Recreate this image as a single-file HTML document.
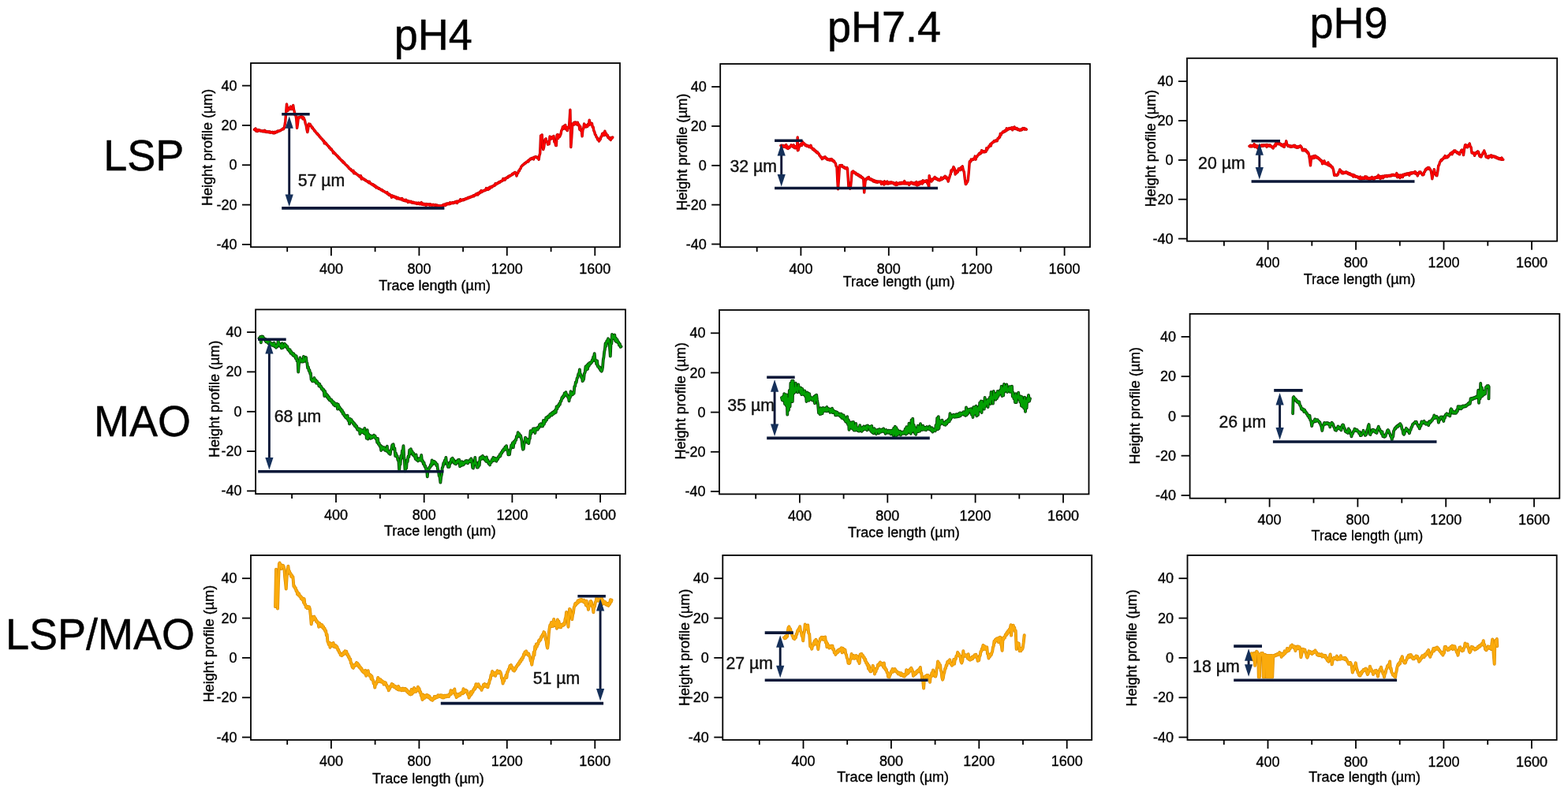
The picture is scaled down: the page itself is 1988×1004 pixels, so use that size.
<!DOCTYPE html>
<html><head><meta charset="utf-8"><title>Height profiles</title>
<style>html,body{margin:0;padding:0;background:#fff;width:1988px;height:1004px;overflow:hidden}svg{display:block}</style>
</head><body>
<svg width="1988" height="1004" viewBox="0 0 1988 1004">
<style>text{font-family:"Liberation Sans",Arial,Helvetica,sans-serif;fill:#000;stroke:#000;stroke-width:.35px}.s{font-size:18px}.c{text-anchor:middle}.e{text-anchor:end}.b{font-size:54px;stroke-width:.45px}.m{font-size:21.3px;fill:#111;stroke:#111;stroke-width:.4px}</style>
<rect width="100%" height="100%" fill="#fff"/>
<g>
<text transform="translate(549.2,63.2) scale(1,1.02)" class="b c">pH4</text>
<text transform="translate(1121,53.2) scale(1,1.02)" class="b c">pH7.4</text>
<text transform="translate(1710,47.5) scale(1,1.02)" class="b c">pH9</text>
<text transform="translate(182.3,215.5) scale(1,1.02)" class="b c">LSP</text>
<text transform="translate(180.6,552.8) scale(1,1.02)" class="b c">MAO</text>
<text transform="translate(126.9,823) scale(1,1.02)" class="b c">LSP/MAO</text>
</g>
<g>
<path d="M322.4,164.2 L323.2,164.7 L324.0,162.9 L324.9,166.2 L325.7,164.6 L326.5,166.5 L327.3,164.5 L328.1,165.6 L328.9,164.8 L329.8,166.0 L330.6,165.5 L331.4,166.3 L332.2,165.8 L333.0,166.8 L333.9,165.8 L334.7,166.8 L335.5,165.3 L336.3,167.2 L337.1,166.4 L338.0,167.4 L338.8,166.5 L339.6,167.5 L340.4,166.8 L341.3,168.0 L342.1,166.8 L342.9,168.1 L343.8,167.5 L344.6,168.1 L345.4,167.4 L346.2,168.7 L347.1,167.6 L347.9,168.8 L348.7,167.3 L349.5,168.1 L350.4,167.1 L351.2,167.5 L352.0,166.0 L352.8,166.7 L353.6,165.8 L354.5,166.0 L355.3,165.1 L356.1,165.3 L356.9,164.1 L357.7,164.3 L358.6,163.1 L359.4,163.7 L360.2,162.3 L361.0,158.9 L361.8,153.7 L362.6,143.6 L363.5,131.9 L364.3,136.8 L365.1,140.2 L365.9,139.4 L366.8,137.0 L367.6,136.8 L368.4,135.1 L369.2,138.6 L370.0,138.2 L370.9,137.1 L371.7,133.5 L372.5,139.1 L373.3,141.8 L374.1,145.9 L375.0,146.3 L375.8,151.5 L376.6,162.3 L377.5,156.4 L378.3,148.8 L379.1,149.5 L379.9,148.5 L380.8,148.8 L381.6,147.5 L382.4,148.0 L383.2,148.0 L384.0,150.7 L384.9,149.0 L385.7,150.9 L386.5,152.9 L387.3,156.9 L388.1,158.7 L389.0,164.1 L389.8,167.6 L390.6,163.6 L391.4,157.0 L392.2,158.6 L393.1,157.4 L393.9,159.6 L394.7,159.6 L395.5,162.0 L396.3,161.7 L397.1,163.7 L398.0,164.1 L398.8,166.0 L399.6,165.9 L400.4,168.0 L401.2,168.1 L402.0,169.9 L402.7,169.5 L403.5,171.3 L404.3,171.5 L405.1,173.4 L405.8,173.2 L406.6,175.0 L407.4,175.1 L408.2,176.9 L408.9,176.8 L409.7,178.6 L410.5,178.4 L411.3,181.8 L412.0,180.0 L412.8,182.1 L413.6,181.7 L414.4,183.5 L415.2,183.8 L416.1,185.5 L416.9,185.5 L417.7,187.5 L418.5,187.3 L419.3,189.3 L420.2,188.9 L421.0,190.9 L421.8,191.1 L422.6,194.1 L423.4,192.9 L424.3,194.6 L425.1,194.6 L425.9,196.4 L426.7,196.5 L427.5,198.0 L428.4,198.0 L429.2,200.0 L430.0,199.7 L430.8,201.7 L431.6,201.6 L432.5,203.3 L433.3,203.2 L434.1,205.1 L434.9,204.6 L435.7,206.6 L436.6,206.3 L437.4,208.0 L438.2,208.4 L439.0,209.7 L439.8,209.6 L440.7,211.3 L441.5,211.3 L442.3,213.3 L443.1,213.2 L443.9,214.7 L444.8,214.5 L445.6,216.3 L446.4,216.3 L447.2,217.7 L448.0,216.3 L448.8,219.8 L449.5,218.5 L450.3,219.8 L451.1,219.5 L451.9,220.9 L452.7,221.0 L453.5,222.1 L454.3,221.9 L455.0,223.4 L455.8,223.1 L456.6,224.4 L457.4,222.7 L458.2,227.0 L459.0,225.0 L459.8,226.4 L460.5,226.4 L461.3,227.6 L462.1,227.3 L462.9,228.6 L463.7,228.3 L464.5,229.5 L465.2,229.5 L466.0,230.5 L466.8,230.1 L467.6,231.6 L468.4,230.3 L469.1,232.3 L469.9,232.1 L470.7,233.5 L471.5,233.2 L472.3,234.4 L473.1,233.8 L473.8,235.4 L474.6,234.7 L475.4,236.5 L476.2,235.8 L477.0,238.0 L477.7,237.0 L478.5,238.1 L479.3,237.9 L480.1,239.3 L480.9,238.8 L481.8,240.0 L482.6,239.9 L483.4,241.0 L484.2,240.5 L485.0,242.0 L485.9,241.8 L486.7,242.8 L487.5,242.7 L488.3,243.9 L489.1,243.9 L490.0,244.8 L490.8,243.7 L491.6,245.9 L492.4,245.6 L493.2,247.1 L494.1,246.4 L494.9,247.9 L495.7,247.7 L496.5,250.2 L497.3,247.9 L498.1,249.4 L498.8,248.8 L499.6,249.8 L500.4,249.1 L501.2,250.4 L502.0,249.7 L502.8,251.7 L503.6,250.4 L504.3,251.7 L505.1,250.8 L505.9,252.1 L506.7,251.7 L507.5,252.7 L508.3,251.9 L509.1,252.9 L509.8,251.6 L510.6,253.8 L511.4,253.0 L512.2,254.3 L513.0,253.6 L513.8,254.8 L514.7,253.2 L515.5,255.0 L516.3,254.5 L517.1,256.4 L517.9,254.7 L518.8,256.0 L519.6,255.2 L520.4,256.3 L521.2,255.4 L522.0,256.9 L522.9,256.2 L523.7,257.3 L524.5,256.4 L525.3,257.4 L526.1,257.0 L527.0,257.8 L527.8,257.0 L528.6,258.5 L529.4,257.3 L530.2,258.4 L531.1,257.1 L531.9,258.7 L532.7,257.9 L533.5,258.8 L534.3,256.6 L535.2,259.2 L536.0,258.0 L536.8,259.4 L537.6,258.4 L538.4,259.6 L539.3,258.6 L540.1,260.2 L540.9,258.5 L541.7,259.8 L542.5,258.9 L543.4,259.6 L544.2,258.7 L545.0,260.1 L545.8,258.9 L546.7,260.1 L547.5,259.4 L548.3,260.1 L549.2,259.2 L550.0,260.0 L550.8,259.7 L551.6,260.5 L552.5,259.6 L553.3,260.7 L554.1,260.1 L554.9,261.0 L555.7,260.5 L556.6,261.6 L557.4,260.7 L558.2,261.9 L559.0,260.7 L559.8,261.0 L560.7,260.2 L561.5,260.5 L562.3,259.3 L563.1,260.1 L563.9,259.0 L564.8,260.5 L565.6,258.3 L566.4,259.2 L567.2,257.9 L568.0,258.7 L568.9,257.8 L569.7,258.7 L570.5,256.8 L571.3,258.3 L572.1,257.1 L573.0,257.6 L573.8,256.6 L574.6,257.7 L575.4,256.5 L576.3,256.9 L577.1,255.8 L577.9,256.7 L578.8,255.3 L579.6,257.5 L580.4,255.0 L581.2,255.6 L582.1,254.6 L582.9,255.1 L583.7,252.7 L584.5,254.6 L585.4,253.5 L586.2,253.8 L587.0,252.9 L587.8,253.6 L588.6,252.4 L589.5,252.9 L590.3,251.8 L591.1,252.3 L591.9,251.2 L592.7,251.8 L593.6,250.4 L594.4,251.0 L595.2,250.0 L596.0,250.4 L596.8,249.2 L597.7,249.8 L598.5,248.8 L599.3,249.1 L600.1,247.8 L600.9,248.7 L601.8,247.3 L602.6,247.6 L603.4,246.1 L604.2,246.7 L605.0,245.2 L605.9,247.0 L606.7,244.5 L607.5,245.3 L608.3,243.6 L609.1,244.2 L610.0,241.7 L610.8,243.5 L611.6,242.3 L612.4,242.5 L613.2,241.4 L614.1,241.7 L614.9,240.7 L615.7,241.2 L616.5,238.6 L617.3,240.2 L618.2,239.1 L619.0,240.4 L619.8,237.9 L620.6,239.3 L621.4,237.1 L622.3,237.9 L623.1,236.5 L623.9,237.2 L624.7,235.7 L625.6,235.9 L626.4,234.8 L627.2,235.2 L628.0,232.8 L628.9,234.0 L629.7,232.4 L630.5,232.9 L631.4,231.6 L632.2,231.9 L633.0,230.5 L633.8,231.2 L634.7,229.8 L635.5,230.0 L636.3,228.9 L637.1,229.2 L637.9,226.5 L638.8,228.0 L639.6,226.5 L640.4,227.9 L641.2,225.7 L642.0,226.1 L642.9,224.8 L643.7,225.2 L644.5,223.6 L645.3,224.0 L646.1,222.8 L647.0,223.1 L647.8,221.9 L648.6,222.0 L649.4,220.5 L650.2,221.0 L651.0,219.4 L651.9,219.8 L652.7,218.4 L653.5,218.7 L654.2,219.4 L655.0,223.1 L655.8,220.0 L656.7,219.5 L657.5,216.7 L658.4,216.6 L659.2,214.2 L660.0,213.7 L660.9,211.1 L661.7,210.5 L662.5,209.3 L663.3,209.2 L664.2,207.7 L665.0,207.8 L665.8,206.4 L666.6,206.7 L667.5,205.1 L668.3,205.3 L669.1,204.0 L669.9,205.0 L670.7,202.6 L671.6,202.8 L672.4,201.2 L673.2,201.7 L674.0,200.5 L674.9,201.3 L675.7,200.0 L676.5,201.9 L677.3,199.2 L678.1,199.7 L679.0,198.6 L679.8,198.9 L680.6,199.0 L681.5,200.6 L682.3,200.8 L683.1,202.3 L683.9,197.1 L684.7,194.4 L685.6,171.9 L686.4,173.6 L687.2,170.9 L688.0,186.1 L688.8,189.6 L689.6,186.7 L690.5,180.0 L691.3,176.4 L692.1,175.9 L693.0,179.7 L693.8,179.7 L694.6,183.2 L695.4,179.9 L696.2,182.7 L697.1,172.9 L697.9,176.3 L698.7,174.2 L699.5,175.7 L700.4,173.4 L701.2,175.3 L702.0,172.5 L702.8,179.7 L703.7,179.7 L704.5,184.3 L705.3,184.6 L706.1,171.4 L706.9,170.5 L707.7,175.4 L708.6,171.2 L709.4,173.4 L710.2,171.9 L711.0,170.0 L711.9,165.2 L712.7,164.2 L713.5,160.8 L714.4,163.3 L715.2,159.8 L716.0,161.6 L716.8,158.5 L717.6,163.9 L718.4,161.9 L719.2,165.6 L720.0,161.5 L720.9,161.6 L721.7,158.3 L722.9,139.3 L723.8,186.5 L724.8,173.6 L725.8,156.9 L726.6,157.8 L727.5,155.6 L728.3,157.9 L729.1,154.9 L729.9,156.8 L730.8,155.2 L731.6,158.0 L732.4,155.2 L733.2,158.7 L734.0,157.9 L734.9,164.2 L735.7,160.1 L736.5,165.5 L737.3,165.7 L738.1,172.8 L738.9,164.7 L739.8,162.8 L740.6,157.0 L741.4,160.8 L742.2,158.4 L743.1,161.0 L743.9,159.8 L744.7,160.4 L745.5,157.4 L746.4,158.8 L747.2,152.1 L748.0,157.9 L748.9,155.9 L749.7,157.7 L750.5,156.5 L751.3,161.3 L752.1,161.0 L752.9,165.8 L753.7,167.0 L754.5,170.5 L755.4,171.1 L756.2,174.1 L757.0,174.2 L757.8,177.0 L758.6,175.9 L759.5,179.0 L760.3,177.4 L761.1,176.9 L762.0,173.1 L762.8,173.1 L763.6,169.5 L764.4,171.3 L765.2,168.4 L766.1,171.5 L766.9,166.2 L767.7,170.2 L768.5,169.2 L769.4,172.1 L770.2,171.3 L771.0,174.6 L771.9,173.7 L772.7,176.0 L773.5,175.8 L774.3,177.4 L775.1,174.5 L775.9,175.5 L776.7,174.1" fill="none" stroke="#b80000" stroke-width="3.4" stroke-linejoin="round" stroke-linecap="round"/>
<path d="M322.4,164.2 L323.2,164.7 L324.0,162.9 L324.9,166.2 L325.7,164.6 L326.5,166.5 L327.3,164.5 L328.1,165.6 L328.9,164.8 L329.8,166.0 L330.6,165.5 L331.4,166.3 L332.2,165.8 L333.0,166.8 L333.9,165.8 L334.7,166.8 L335.5,165.3 L336.3,167.2 L337.1,166.4 L338.0,167.4 L338.8,166.5 L339.6,167.5 L340.4,166.8 L341.3,168.0 L342.1,166.8 L342.9,168.1 L343.8,167.5 L344.6,168.1 L345.4,167.4 L346.2,168.7 L347.1,167.6 L347.9,168.8 L348.7,167.3 L349.5,168.1 L350.4,167.1 L351.2,167.5 L352.0,166.0 L352.8,166.7 L353.6,165.8 L354.5,166.0 L355.3,165.1 L356.1,165.3 L356.9,164.1 L357.7,164.3 L358.6,163.1 L359.4,163.7 L360.2,162.3 L361.0,158.9 L361.8,153.7 L362.6,143.6 L363.5,131.9 L364.3,136.8 L365.1,140.2 L365.9,139.4 L366.8,137.0 L367.6,136.8 L368.4,135.1 L369.2,138.6 L370.0,138.2 L370.9,137.1 L371.7,133.5 L372.5,139.1 L373.3,141.8 L374.1,145.9 L375.0,146.3 L375.8,151.5 L376.6,162.3 L377.5,156.4 L378.3,148.8 L379.1,149.5 L379.9,148.5 L380.8,148.8 L381.6,147.5 L382.4,148.0 L383.2,148.0 L384.0,150.7 L384.9,149.0 L385.7,150.9 L386.5,152.9 L387.3,156.9 L388.1,158.7 L389.0,164.1 L389.8,167.6 L390.6,163.6 L391.4,157.0 L392.2,158.6 L393.1,157.4 L393.9,159.6 L394.7,159.6 L395.5,162.0 L396.3,161.7 L397.1,163.7 L398.0,164.1 L398.8,166.0 L399.6,165.9 L400.4,168.0 L401.2,168.1 L402.0,169.9 L402.7,169.5 L403.5,171.3 L404.3,171.5 L405.1,173.4 L405.8,173.2 L406.6,175.0 L407.4,175.1 L408.2,176.9 L408.9,176.8 L409.7,178.6 L410.5,178.4 L411.3,181.8 L412.0,180.0 L412.8,182.1 L413.6,181.7 L414.4,183.5 L415.2,183.8 L416.1,185.5 L416.9,185.5 L417.7,187.5 L418.5,187.3 L419.3,189.3 L420.2,188.9 L421.0,190.9 L421.8,191.1 L422.6,194.1 L423.4,192.9 L424.3,194.6 L425.1,194.6 L425.9,196.4 L426.7,196.5 L427.5,198.0 L428.4,198.0 L429.2,200.0 L430.0,199.7 L430.8,201.7 L431.6,201.6 L432.5,203.3 L433.3,203.2 L434.1,205.1 L434.9,204.6 L435.7,206.6 L436.6,206.3 L437.4,208.0 L438.2,208.4 L439.0,209.7 L439.8,209.6 L440.7,211.3 L441.5,211.3 L442.3,213.3 L443.1,213.2 L443.9,214.7 L444.8,214.5 L445.6,216.3 L446.4,216.3 L447.2,217.7 L448.0,216.3 L448.8,219.8 L449.5,218.5 L450.3,219.8 L451.1,219.5 L451.9,220.9 L452.7,221.0 L453.5,222.1 L454.3,221.9 L455.0,223.4 L455.8,223.1 L456.6,224.4 L457.4,222.7 L458.2,227.0 L459.0,225.0 L459.8,226.4 L460.5,226.4 L461.3,227.6 L462.1,227.3 L462.9,228.6 L463.7,228.3 L464.5,229.5 L465.2,229.5 L466.0,230.5 L466.8,230.1 L467.6,231.6 L468.4,230.3 L469.1,232.3 L469.9,232.1 L470.7,233.5 L471.5,233.2 L472.3,234.4 L473.1,233.8 L473.8,235.4 L474.6,234.7 L475.4,236.5 L476.2,235.8 L477.0,238.0 L477.7,237.0 L478.5,238.1 L479.3,237.9 L480.1,239.3 L480.9,238.8 L481.8,240.0 L482.6,239.9 L483.4,241.0 L484.2,240.5 L485.0,242.0 L485.9,241.8 L486.7,242.8 L487.5,242.7 L488.3,243.9 L489.1,243.9 L490.0,244.8 L490.8,243.7 L491.6,245.9 L492.4,245.6 L493.2,247.1 L494.1,246.4 L494.9,247.9 L495.7,247.7 L496.5,250.2 L497.3,247.9 L498.1,249.4 L498.8,248.8 L499.6,249.8 L500.4,249.1 L501.2,250.4 L502.0,249.7 L502.8,251.7 L503.6,250.4 L504.3,251.7 L505.1,250.8 L505.9,252.1 L506.7,251.7 L507.5,252.7 L508.3,251.9 L509.1,252.9 L509.8,251.6 L510.6,253.8 L511.4,253.0 L512.2,254.3 L513.0,253.6 L513.8,254.8 L514.7,253.2 L515.5,255.0 L516.3,254.5 L517.1,256.4 L517.9,254.7 L518.8,256.0 L519.6,255.2 L520.4,256.3 L521.2,255.4 L522.0,256.9 L522.9,256.2 L523.7,257.3 L524.5,256.4 L525.3,257.4 L526.1,257.0 L527.0,257.8 L527.8,257.0 L528.6,258.5 L529.4,257.3 L530.2,258.4 L531.1,257.1 L531.9,258.7 L532.7,257.9 L533.5,258.8 L534.3,256.6 L535.2,259.2 L536.0,258.0 L536.8,259.4 L537.6,258.4 L538.4,259.6 L539.3,258.6 L540.1,260.2 L540.9,258.5 L541.7,259.8 L542.5,258.9 L543.4,259.6 L544.2,258.7 L545.0,260.1 L545.8,258.9 L546.7,260.1 L547.5,259.4 L548.3,260.1 L549.2,259.2 L550.0,260.0 L550.8,259.7 L551.6,260.5 L552.5,259.6 L553.3,260.7 L554.1,260.1 L554.9,261.0 L555.7,260.5 L556.6,261.6 L557.4,260.7 L558.2,261.9 L559.0,260.7 L559.8,261.0 L560.7,260.2 L561.5,260.5 L562.3,259.3 L563.1,260.1 L563.9,259.0 L564.8,260.5 L565.6,258.3 L566.4,259.2 L567.2,257.9 L568.0,258.7 L568.9,257.8 L569.7,258.7 L570.5,256.8 L571.3,258.3 L572.1,257.1 L573.0,257.6 L573.8,256.6 L574.6,257.7 L575.4,256.5 L576.3,256.9 L577.1,255.8 L577.9,256.7 L578.8,255.3 L579.6,257.5 L580.4,255.0 L581.2,255.6 L582.1,254.6 L582.9,255.1 L583.7,252.7 L584.5,254.6 L585.4,253.5 L586.2,253.8 L587.0,252.9 L587.8,253.6 L588.6,252.4 L589.5,252.9 L590.3,251.8 L591.1,252.3 L591.9,251.2 L592.7,251.8 L593.6,250.4 L594.4,251.0 L595.2,250.0 L596.0,250.4 L596.8,249.2 L597.7,249.8 L598.5,248.8 L599.3,249.1 L600.1,247.8 L600.9,248.7 L601.8,247.3 L602.6,247.6 L603.4,246.1 L604.2,246.7 L605.0,245.2 L605.9,247.0 L606.7,244.5 L607.5,245.3 L608.3,243.6 L609.1,244.2 L610.0,241.7 L610.8,243.5 L611.6,242.3 L612.4,242.5 L613.2,241.4 L614.1,241.7 L614.9,240.7 L615.7,241.2 L616.5,238.6 L617.3,240.2 L618.2,239.1 L619.0,240.4 L619.8,237.9 L620.6,239.3 L621.4,237.1 L622.3,237.9 L623.1,236.5 L623.9,237.2 L624.7,235.7 L625.6,235.9 L626.4,234.8 L627.2,235.2 L628.0,232.8 L628.9,234.0 L629.7,232.4 L630.5,232.9 L631.4,231.6 L632.2,231.9 L633.0,230.5 L633.8,231.2 L634.7,229.8 L635.5,230.0 L636.3,228.9 L637.1,229.2 L637.9,226.5 L638.8,228.0 L639.6,226.5 L640.4,227.9 L641.2,225.7 L642.0,226.1 L642.9,224.8 L643.7,225.2 L644.5,223.6 L645.3,224.0 L646.1,222.8 L647.0,223.1 L647.8,221.9 L648.6,222.0 L649.4,220.5 L650.2,221.0 L651.0,219.4 L651.9,219.8 L652.7,218.4 L653.5,218.7 L654.2,219.4 L655.0,223.1 L655.8,220.0 L656.7,219.5 L657.5,216.7 L658.4,216.6 L659.2,214.2 L660.0,213.7 L660.9,211.1 L661.7,210.5 L662.5,209.3 L663.3,209.2 L664.2,207.7 L665.0,207.8 L665.8,206.4 L666.6,206.7 L667.5,205.1 L668.3,205.3 L669.1,204.0 L669.9,205.0 L670.7,202.6 L671.6,202.8 L672.4,201.2 L673.2,201.7 L674.0,200.5 L674.9,201.3 L675.7,200.0 L676.5,201.9 L677.3,199.2 L678.1,199.7 L679.0,198.6 L679.8,198.9 L680.6,199.0 L681.5,200.6 L682.3,200.8 L683.1,202.3 L683.9,197.1 L684.7,194.4 L685.6,171.9 L686.4,173.6 L687.2,170.9 L688.0,186.1 L688.8,189.6 L689.6,186.7 L690.5,180.0 L691.3,176.4 L692.1,175.9 L693.0,179.7 L693.8,179.7 L694.6,183.2 L695.4,179.9 L696.2,182.7 L697.1,172.9 L697.9,176.3 L698.7,174.2 L699.5,175.7 L700.4,173.4 L701.2,175.3 L702.0,172.5 L702.8,179.7 L703.7,179.7 L704.5,184.3 L705.3,184.6 L706.1,171.4 L706.9,170.5 L707.7,175.4 L708.6,171.2 L709.4,173.4 L710.2,171.9 L711.0,170.0 L711.9,165.2 L712.7,164.2 L713.5,160.8 L714.4,163.3 L715.2,159.8 L716.0,161.6 L716.8,158.5 L717.6,163.9 L718.4,161.9 L719.2,165.6 L720.0,161.5 L720.9,161.6 L721.7,158.3 L722.9,139.3 L723.8,186.5 L724.8,173.6 L725.8,156.9 L726.6,157.8 L727.5,155.6 L728.3,157.9 L729.1,154.9 L729.9,156.8 L730.8,155.2 L731.6,158.0 L732.4,155.2 L733.2,158.7 L734.0,157.9 L734.9,164.2 L735.7,160.1 L736.5,165.5 L737.3,165.7 L738.1,172.8 L738.9,164.7 L739.8,162.8 L740.6,157.0 L741.4,160.8 L742.2,158.4 L743.1,161.0 L743.9,159.8 L744.7,160.4 L745.5,157.4 L746.4,158.8 L747.2,152.1 L748.0,157.9 L748.9,155.9 L749.7,157.7 L750.5,156.5 L751.3,161.3 L752.1,161.0 L752.9,165.8 L753.7,167.0 L754.5,170.5 L755.4,171.1 L756.2,174.1 L757.0,174.2 L757.8,177.0 L758.6,175.9 L759.5,179.0 L760.3,177.4 L761.1,176.9 L762.0,173.1 L762.8,173.1 L763.6,169.5 L764.4,171.3 L765.2,168.4 L766.1,171.5 L766.9,166.2 L767.7,170.2 L768.5,169.2 L769.4,172.1 L770.2,171.3 L771.0,174.6 L771.9,173.7 L772.7,176.0 L773.5,175.8 L774.3,177.4 L775.1,174.5 L775.9,175.5 L776.7,174.1" fill="none" stroke="#ff0000" stroke-width="2.0" stroke-linejoin="round" stroke-linecap="round"/>
<rect x="318.0" y="80.0" width="468.0" height="233.2" fill="none" stroke="#000" stroke-width="1.8"/>
<line x1="307.0" y1="108.6" x2="318.0" y2="108.6" stroke="#000" stroke-width="1.8"/>
<text x="300.5" y="114.6" class="s e">40</text>
<line x1="307.0" y1="158.9" x2="318.0" y2="158.9" stroke="#000" stroke-width="1.8"/>
<text x="300.5" y="164.9" class="s e">20</text>
<line x1="307.0" y1="209.2" x2="318.0" y2="209.2" stroke="#000" stroke-width="1.8"/>
<text x="300.5" y="215.2" class="s e">0</text>
<line x1="307.0" y1="259.6" x2="318.0" y2="259.6" stroke="#000" stroke-width="1.8"/>
<text x="300.5" y="265.6" class="s e">-20</text>
<line x1="307.0" y1="309.9" x2="318.0" y2="309.9" stroke="#000" stroke-width="1.8"/>
<text x="300.5" y="315.9" class="s e">-40</text>
<line x1="364.2" y1="313.2" x2="364.2" y2="319.2" stroke="#000" stroke-width="1.8"/>
<line x1="419.9" y1="313.2" x2="419.9" y2="324.2" stroke="#000" stroke-width="1.8"/>
<text x="419.9" y="346.7" class="s c">400</text>
<line x1="475.6" y1="313.2" x2="475.6" y2="319.2" stroke="#000" stroke-width="1.8"/>
<line x1="531.4" y1="313.2" x2="531.4" y2="324.2" stroke="#000" stroke-width="1.8"/>
<text x="531.4" y="346.7" class="s c">800</text>
<line x1="587.1" y1="313.2" x2="587.1" y2="319.2" stroke="#000" stroke-width="1.8"/>
<line x1="642.8" y1="313.2" x2="642.8" y2="324.2" stroke="#000" stroke-width="1.8"/>
<text x="642.8" y="346.7" class="s c">1200</text>
<line x1="698.6" y1="313.2" x2="698.6" y2="319.2" stroke="#000" stroke-width="1.8"/>
<line x1="754.3" y1="313.2" x2="754.3" y2="324.2" stroke="#000" stroke-width="1.8"/>
<text x="754.3" y="346.7" class="s c">1600</text>
<text x="480.2" y="367.8" class="s">Trace length (µm)</text>
<text transform="translate(269.0,186.9) rotate(-90)" class="s c">Height profile (µm)</text>
<line x1="357.2" y1="144.7" x2="392.7" y2="144.7" stroke="#0b1838" stroke-width="3.6"/>
<line x1="357.2" y1="263.9" x2="563.4" y2="263.9" stroke="#0b1838" stroke-width="3.6"/>
<line x1="366.7" y1="155.2" x2="366.7" y2="254.1" stroke="#0b1838" stroke-width="2.9"/>
<path d="M366.7,147.2 L361.6,162.7 L371.8,162.7 Z" fill="#15305a"/>
<path d="M366.7,262.1 L361.6,246.6 L371.8,246.6 Z" fill="#15305a"/>
<text x="377.7" y="236.1" class="m">57 µm</text>
</g>
<g>
<path d="M990.0,184.5 L990.9,185.5 L991.7,184.2 L992.5,186.0 L993.4,184.5 L994.2,186.3 L995.1,185.0 L995.9,186.4 L996.8,183.6 L997.6,187.9 L998.4,185.8 L999.3,188.4 L1000.1,186.5 L1000.9,187.3 L1001.6,185.6 L1002.4,185.7 L1003.1,183.8 L1003.9,185.3 L1004.7,184.6 L1005.5,186.2 L1006.3,183.8 L1007.1,187.5 L1007.8,185.7 L1008.5,187.8 L1009.3,185.4 L1010.0,186.4 L1010.7,185.4 L1011.2,174.0 L1011.4,190.7 L1012.1,190.3 L1012.8,186.8 L1013.5,186.2 L1014.2,183.6 L1015.0,183.9 L1015.8,182.1 L1016.6,184.5 L1017.4,179.7 L1018.2,181.4 L1019.0,181.2 L1019.7,182.9 L1020.5,182.8 L1021.2,184.6 L1022.0,183.9 L1022.7,185.1 L1023.5,184.2 L1024.2,185.5 L1025.0,185.1 L1025.8,186.4 L1026.5,185.3 L1027.3,186.7 L1028.1,184.3 L1029.0,187.8 L1029.8,187.8 L1030.6,189.5 L1031.5,188.7 L1032.3,190.8 L1033.1,190.1 L1034.0,192.2 L1034.8,191.7 L1035.6,193.7 L1036.5,192.8 L1037.3,194.7 L1038.1,194.7 L1039.0,197.1 L1039.8,197.3 L1040.6,199.3 L1041.5,199.2 L1042.3,201.6 L1043.1,200.2 L1043.8,200.6 L1044.6,199.3 L1045.4,199.9 L1046.2,198.9 L1047.0,201.0 L1047.8,200.3 L1048.6,202.2 L1049.4,201.6 L1050.2,202.7 L1051.1,202.0 L1051.9,203.1 L1052.7,201.7 L1053.6,202.9 L1054.4,201.6 L1055.2,203.6 L1056.0,203.0 L1056.8,204.8 L1057.6,204.3 L1058.4,206.1 L1059.3,206.9 L1060.1,210.7 L1061.0,211.7 L1061.8,228.3 L1062.5,239.7 L1063.5,226.1 L1064.5,209.8 L1065.2,211.0 L1066.0,209.6 L1066.8,210.7 L1067.5,209.5 L1068.3,211.5 L1069.1,211.2 L1069.9,212.5 L1070.7,211.8 L1071.5,213.6 L1072.2,212.7 L1073.0,213.9 L1073.8,212.5 L1074.5,213.8 L1075.2,225.0 L1076.0,238.0 L1076.9,237.2 L1077.7,239.2 L1078.6,235.6 L1079.3,228.5 L1080.1,217.9 L1080.8,218.5 L1081.6,216.9 L1082.4,218.7 L1083.2,218.3 L1084.0,219.7 L1084.8,219.1 L1085.6,221.0 L1086.4,220.5 L1087.3,221.9 L1088.1,221.1 L1088.9,223.0 L1089.8,222.3 L1090.6,224.2 L1091.4,223.2 L1092.2,225.1 L1093.1,224.7 L1093.9,226.1 L1094.7,226.0 L1095.7,244.0 L1096.5,235.4 L1097.2,229.1 L1098.1,226.8 L1099.0,227.2 L1099.8,225.3 L1100.7,225.8 L1101.5,224.5 L1102.4,227.3 L1103.2,226.5 L1104.0,227.8 L1104.9,227.1 L1105.7,228.8 L1106.5,228.0 L1107.4,229.9 L1108.2,228.6 L1109.1,230.6 L1110.0,229.3 L1110.8,231.1 L1111.6,229.7 L1112.5,231.2 L1113.3,230.0 L1114.1,230.8 L1115.0,230.1 L1115.8,230.8 L1116.6,230.1 L1117.5,233.4 L1118.3,230.6 L1119.1,232.1 L1120.0,231.1 L1120.8,234.1 L1121.6,229.8 L1122.5,232.8 L1123.3,231.7 L1124.1,232.8 L1125.0,230.0 L1125.8,233.1 L1126.7,231.4 L1127.5,232.6 L1128.3,231.1 L1129.2,232.3 L1130.1,230.9 L1130.9,231.9 L1131.7,231.3 L1132.6,232.7 L1133.4,231.8 L1134.2,233.8 L1135.1,233.0 L1135.9,234.5 L1136.7,231.3 L1137.6,234.2 L1138.4,232.8 L1139.2,233.2 L1140.1,231.8 L1140.9,233.1 L1141.8,231.5 L1142.6,232.9 L1143.5,231.4 L1144.3,232.8 L1145.2,231.3 L1146.0,232.7 L1146.8,229.6 L1147.7,232.9 L1148.5,231.6 L1149.3,233.0 L1150.2,231.9 L1151.0,232.9 L1151.8,231.8 L1152.7,234.3 L1153.5,231.9 L1154.3,232.8 L1155.2,231.1 L1156.0,232.2 L1156.8,231.5 L1157.7,233.3 L1158.5,232.1 L1159.4,233.6 L1160.2,231.8 L1161.1,234.1 L1161.9,230.5 L1162.8,235.1 L1163.6,232.0 L1164.4,234.5 L1165.3,231.0 L1166.1,233.6 L1166.9,230.5 L1167.8,231.9 L1168.6,230.0 L1169.4,233.0 L1170.3,228.8 L1171.1,231.1 L1171.9,229.4 L1172.7,230.3 L1173.4,229.2 L1174.2,230.4 L1175.0,228.7 L1175.9,232.5 L1176.8,233.6 L1177.7,237.3 L1178.2,222.6 L1179.1,228.1 L1180.1,226.8 L1181.0,230.0 L1181.8,227.7 L1182.6,228.3 L1183.5,226.3 L1184.3,226.4 L1185.1,224.4 L1185.9,226.4 L1186.8,225.9 L1187.6,227.3 L1188.4,226.5 L1189.3,228.2 L1190.1,227.7 L1190.9,228.8 L1191.8,227.0 L1192.6,228.2 L1193.4,225.1 L1194.3,227.6 L1195.1,225.8 L1195.9,226.3 L1196.7,224.6 L1197.5,225.0 L1198.3,223.3 L1199.1,225.8 L1199.9,224.2 L1200.7,227.1 L1201.4,227.1 L1202.2,230.1 L1203.0,226.8 L1203.7,225.3 L1204.5,222.2 L1205.2,220.9 L1206.0,216.0 L1206.7,217.6 L1207.5,214.7 L1208.2,214.1 L1209.0,211.6 L1209.7,213.1 L1210.5,214.6 L1211.2,221.0 L1212.0,218.6 L1212.8,219.3 L1213.6,216.6 L1214.4,218.0 L1215.2,214.0 L1216.0,215.4 L1216.9,213.5 L1217.8,215.6 L1218.6,212.2 L1219.5,212.9 L1220.3,210.8 L1221.3,215.8 L1222.3,217.9 L1223.3,226.8 L1224.3,233.6 L1225.0,233.3 L1225.8,231.0 L1226.5,230.8 L1227.3,228.2 L1228.3,218.1 L1229.3,204.8 L1230.3,205.3 L1231.3,202.1 L1232.1,203.1 L1232.9,201.9 L1233.8,202.3 L1234.6,201.0 L1235.4,201.7 L1236.2,198.1 L1237.1,202.2 L1237.9,198.4 L1238.7,198.8 L1239.6,196.8 L1240.4,196.6 L1241.2,194.8 L1242.1,195.5 L1242.9,193.5 L1243.7,194.3 L1244.6,190.7 L1245.4,192.9 L1246.2,191.5 L1247.0,192.8 L1247.8,191.9 L1248.6,192.8 L1249.4,191.7 L1250.1,192.1 L1250.8,187.7 L1251.5,189.9 L1252.3,187.4 L1253.1,187.2 L1253.9,185.1 L1254.7,185.3 L1255.5,182.9 L1256.3,184.9 L1257.2,181.4 L1258.0,181.5 L1258.8,180.0 L1259.7,180.1 L1260.5,178.6 L1261.2,179.5 L1262.0,178.3 L1262.8,178.8 L1263.5,177.4 L1264.3,178.6 L1265.1,175.5 L1266.0,175.6 L1266.8,173.5 L1267.6,173.9 L1268.3,169.5 L1269.1,171.1 L1269.8,169.0 L1270.6,168.6 L1271.4,166.9 L1272.2,167.6 L1273.0,166.3 L1273.8,166.9 L1274.6,165.3 L1275.4,165.9 L1276.2,162.8 L1277.0,164.9 L1277.8,163.4 L1278.6,163.9 L1279.4,162.5 L1280.3,163.3 L1281.2,162.3 L1282.0,163.3 L1282.8,161.7 L1283.7,164.8 L1284.5,161.8 L1285.3,162.6 L1286.1,160.9 L1286.9,163.2 L1287.7,162.3 L1288.5,163.5 L1289.2,162.5 L1290.0,164.4 L1290.7,163.6 L1291.5,164.7 L1292.2,164.0 L1293.0,165.3 L1293.7,164.5 L1294.5,165.0 L1295.3,163.4 L1296.1,164.4 L1296.9,162.6 L1297.7,163.4 L1298.6,162.5 L1299.5,164.1 L1300.4,163.3 L1301.3,164.1" fill="none" stroke="#b80000" stroke-width="3.4" stroke-linejoin="round" stroke-linecap="round"/>
<path d="M990.0,184.5 L990.9,185.5 L991.7,184.2 L992.5,186.0 L993.4,184.5 L994.2,186.3 L995.1,185.0 L995.9,186.4 L996.8,183.6 L997.6,187.9 L998.4,185.8 L999.3,188.4 L1000.1,186.5 L1000.9,187.3 L1001.6,185.6 L1002.4,185.7 L1003.1,183.8 L1003.9,185.3 L1004.7,184.6 L1005.5,186.2 L1006.3,183.8 L1007.1,187.5 L1007.8,185.7 L1008.5,187.8 L1009.3,185.4 L1010.0,186.4 L1010.7,185.4 L1011.2,174.0 L1011.4,190.7 L1012.1,190.3 L1012.8,186.8 L1013.5,186.2 L1014.2,183.6 L1015.0,183.9 L1015.8,182.1 L1016.6,184.5 L1017.4,179.7 L1018.2,181.4 L1019.0,181.2 L1019.7,182.9 L1020.5,182.8 L1021.2,184.6 L1022.0,183.9 L1022.7,185.1 L1023.5,184.2 L1024.2,185.5 L1025.0,185.1 L1025.8,186.4 L1026.5,185.3 L1027.3,186.7 L1028.1,184.3 L1029.0,187.8 L1029.8,187.8 L1030.6,189.5 L1031.5,188.7 L1032.3,190.8 L1033.1,190.1 L1034.0,192.2 L1034.8,191.7 L1035.6,193.7 L1036.5,192.8 L1037.3,194.7 L1038.1,194.7 L1039.0,197.1 L1039.8,197.3 L1040.6,199.3 L1041.5,199.2 L1042.3,201.6 L1043.1,200.2 L1043.8,200.6 L1044.6,199.3 L1045.4,199.9 L1046.2,198.9 L1047.0,201.0 L1047.8,200.3 L1048.6,202.2 L1049.4,201.6 L1050.2,202.7 L1051.1,202.0 L1051.9,203.1 L1052.7,201.7 L1053.6,202.9 L1054.4,201.6 L1055.2,203.6 L1056.0,203.0 L1056.8,204.8 L1057.6,204.3 L1058.4,206.1 L1059.3,206.9 L1060.1,210.7 L1061.0,211.7 L1061.8,228.3 L1062.5,239.7 L1063.5,226.1 L1064.5,209.8 L1065.2,211.0 L1066.0,209.6 L1066.8,210.7 L1067.5,209.5 L1068.3,211.5 L1069.1,211.2 L1069.9,212.5 L1070.7,211.8 L1071.5,213.6 L1072.2,212.7 L1073.0,213.9 L1073.8,212.5 L1074.5,213.8 L1075.2,225.0 L1076.0,238.0 L1076.9,237.2 L1077.7,239.2 L1078.6,235.6 L1079.3,228.5 L1080.1,217.9 L1080.8,218.5 L1081.6,216.9 L1082.4,218.7 L1083.2,218.3 L1084.0,219.7 L1084.8,219.1 L1085.6,221.0 L1086.4,220.5 L1087.3,221.9 L1088.1,221.1 L1088.9,223.0 L1089.8,222.3 L1090.6,224.2 L1091.4,223.2 L1092.2,225.1 L1093.1,224.7 L1093.9,226.1 L1094.7,226.0 L1095.7,244.0 L1096.5,235.4 L1097.2,229.1 L1098.1,226.8 L1099.0,227.2 L1099.8,225.3 L1100.7,225.8 L1101.5,224.5 L1102.4,227.3 L1103.2,226.5 L1104.0,227.8 L1104.9,227.1 L1105.7,228.8 L1106.5,228.0 L1107.4,229.9 L1108.2,228.6 L1109.1,230.6 L1110.0,229.3 L1110.8,231.1 L1111.6,229.7 L1112.5,231.2 L1113.3,230.0 L1114.1,230.8 L1115.0,230.1 L1115.8,230.8 L1116.6,230.1 L1117.5,233.4 L1118.3,230.6 L1119.1,232.1 L1120.0,231.1 L1120.8,234.1 L1121.6,229.8 L1122.5,232.8 L1123.3,231.7 L1124.1,232.8 L1125.0,230.0 L1125.8,233.1 L1126.7,231.4 L1127.5,232.6 L1128.3,231.1 L1129.2,232.3 L1130.1,230.9 L1130.9,231.9 L1131.7,231.3 L1132.6,232.7 L1133.4,231.8 L1134.2,233.8 L1135.1,233.0 L1135.9,234.5 L1136.7,231.3 L1137.6,234.2 L1138.4,232.8 L1139.2,233.2 L1140.1,231.8 L1140.9,233.1 L1141.8,231.5 L1142.6,232.9 L1143.5,231.4 L1144.3,232.8 L1145.2,231.3 L1146.0,232.7 L1146.8,229.6 L1147.7,232.9 L1148.5,231.6 L1149.3,233.0 L1150.2,231.9 L1151.0,232.9 L1151.8,231.8 L1152.7,234.3 L1153.5,231.9 L1154.3,232.8 L1155.2,231.1 L1156.0,232.2 L1156.8,231.5 L1157.7,233.3 L1158.5,232.1 L1159.4,233.6 L1160.2,231.8 L1161.1,234.1 L1161.9,230.5 L1162.8,235.1 L1163.6,232.0 L1164.4,234.5 L1165.3,231.0 L1166.1,233.6 L1166.9,230.5 L1167.8,231.9 L1168.6,230.0 L1169.4,233.0 L1170.3,228.8 L1171.1,231.1 L1171.9,229.4 L1172.7,230.3 L1173.4,229.2 L1174.2,230.4 L1175.0,228.7 L1175.9,232.5 L1176.8,233.6 L1177.7,237.3 L1178.2,222.6 L1179.1,228.1 L1180.1,226.8 L1181.0,230.0 L1181.8,227.7 L1182.6,228.3 L1183.5,226.3 L1184.3,226.4 L1185.1,224.4 L1185.9,226.4 L1186.8,225.9 L1187.6,227.3 L1188.4,226.5 L1189.3,228.2 L1190.1,227.7 L1190.9,228.8 L1191.8,227.0 L1192.6,228.2 L1193.4,225.1 L1194.3,227.6 L1195.1,225.8 L1195.9,226.3 L1196.7,224.6 L1197.5,225.0 L1198.3,223.3 L1199.1,225.8 L1199.9,224.2 L1200.7,227.1 L1201.4,227.1 L1202.2,230.1 L1203.0,226.8 L1203.7,225.3 L1204.5,222.2 L1205.2,220.9 L1206.0,216.0 L1206.7,217.6 L1207.5,214.7 L1208.2,214.1 L1209.0,211.6 L1209.7,213.1 L1210.5,214.6 L1211.2,221.0 L1212.0,218.6 L1212.8,219.3 L1213.6,216.6 L1214.4,218.0 L1215.2,214.0 L1216.0,215.4 L1216.9,213.5 L1217.8,215.6 L1218.6,212.2 L1219.5,212.9 L1220.3,210.8 L1221.3,215.8 L1222.3,217.9 L1223.3,226.8 L1224.3,233.6 L1225.0,233.3 L1225.8,231.0 L1226.5,230.8 L1227.3,228.2 L1228.3,218.1 L1229.3,204.8 L1230.3,205.3 L1231.3,202.1 L1232.1,203.1 L1232.9,201.9 L1233.8,202.3 L1234.6,201.0 L1235.4,201.7 L1236.2,198.1 L1237.1,202.2 L1237.9,198.4 L1238.7,198.8 L1239.6,196.8 L1240.4,196.6 L1241.2,194.8 L1242.1,195.5 L1242.9,193.5 L1243.7,194.3 L1244.6,190.7 L1245.4,192.9 L1246.2,191.5 L1247.0,192.8 L1247.8,191.9 L1248.6,192.8 L1249.4,191.7 L1250.1,192.1 L1250.8,187.7 L1251.5,189.9 L1252.3,187.4 L1253.1,187.2 L1253.9,185.1 L1254.7,185.3 L1255.5,182.9 L1256.3,184.9 L1257.2,181.4 L1258.0,181.5 L1258.8,180.0 L1259.7,180.1 L1260.5,178.6 L1261.2,179.5 L1262.0,178.3 L1262.8,178.8 L1263.5,177.4 L1264.3,178.6 L1265.1,175.5 L1266.0,175.6 L1266.8,173.5 L1267.6,173.9 L1268.3,169.5 L1269.1,171.1 L1269.8,169.0 L1270.6,168.6 L1271.4,166.9 L1272.2,167.6 L1273.0,166.3 L1273.8,166.9 L1274.6,165.3 L1275.4,165.9 L1276.2,162.8 L1277.0,164.9 L1277.8,163.4 L1278.6,163.9 L1279.4,162.5 L1280.3,163.3 L1281.2,162.3 L1282.0,163.3 L1282.8,161.7 L1283.7,164.8 L1284.5,161.8 L1285.3,162.6 L1286.1,160.9 L1286.9,163.2 L1287.7,162.3 L1288.5,163.5 L1289.2,162.5 L1290.0,164.4 L1290.7,163.6 L1291.5,164.7 L1292.2,164.0 L1293.0,165.3 L1293.7,164.5 L1294.5,165.0 L1295.3,163.4 L1296.1,164.4 L1296.9,162.6 L1297.7,163.4 L1298.6,162.5 L1299.5,164.1 L1300.4,163.3 L1301.3,164.1" fill="none" stroke="#ff0000" stroke-width="2.0" stroke-linejoin="round" stroke-linecap="round"/>
<rect x="913.2" y="81.0" width="468.8" height="232.2" fill="none" stroke="#000" stroke-width="1.8"/>
<line x1="902.2" y1="110.0" x2="913.2" y2="110.0" stroke="#000" stroke-width="1.8"/>
<text x="895.7" y="116.0" class="s e">40</text>
<line x1="902.2" y1="159.9" x2="913.2" y2="159.9" stroke="#000" stroke-width="1.8"/>
<text x="895.7" y="165.9" class="s e">20</text>
<line x1="902.2" y1="209.8" x2="913.2" y2="209.8" stroke="#000" stroke-width="1.8"/>
<text x="895.7" y="215.8" class="s e">0</text>
<line x1="902.2" y1="259.6" x2="913.2" y2="259.6" stroke="#000" stroke-width="1.8"/>
<text x="895.7" y="265.6" class="s e">-20</text>
<line x1="902.2" y1="309.5" x2="913.2" y2="309.5" stroke="#000" stroke-width="1.8"/>
<text x="895.7" y="315.5" class="s e">-40</text>
<line x1="959.7" y1="313.2" x2="959.7" y2="319.2" stroke="#000" stroke-width="1.8"/>
<line x1="1015.4" y1="313.2" x2="1015.4" y2="324.2" stroke="#000" stroke-width="1.8"/>
<text x="1015.4" y="346.7" class="s c">400</text>
<line x1="1071.1" y1="313.2" x2="1071.1" y2="319.2" stroke="#000" stroke-width="1.8"/>
<line x1="1126.8" y1="313.2" x2="1126.8" y2="324.2" stroke="#000" stroke-width="1.8"/>
<text x="1126.8" y="346.7" class="s c">800</text>
<line x1="1182.5" y1="313.2" x2="1182.5" y2="319.2" stroke="#000" stroke-width="1.8"/>
<line x1="1238.2" y1="313.2" x2="1238.2" y2="324.2" stroke="#000" stroke-width="1.8"/>
<text x="1238.2" y="346.7" class="s c">1200</text>
<line x1="1293.9" y1="313.2" x2="1293.9" y2="319.2" stroke="#000" stroke-width="1.8"/>
<line x1="1349.6" y1="313.2" x2="1349.6" y2="324.2" stroke="#000" stroke-width="1.8"/>
<text x="1349.6" y="346.7" class="s c">1600</text>
<text x="1068.8" y="362.8" class="s">Trace length (µm)</text>
<text transform="translate(871.0,192.6) rotate(-90)" class="s c">Height profile (µm)</text>
<line x1="982.1" y1="178.3" x2="1017.6" y2="178.3" stroke="#0b1838" stroke-width="3.6"/>
<line x1="982.1" y1="238.5" x2="1189.0" y2="238.5" stroke="#0b1838" stroke-width="3.6"/>
<line x1="990.7" y1="190.0" x2="990.7" y2="228.6" stroke="#0b1838" stroke-width="2.9"/>
<path d="M990.7,182.0 L985.6,197.5 L995.8,197.5 Z" fill="#15305a"/>
<path d="M990.7,236.6 L985.6,221.1 L995.8,221.1 Z" fill="#15305a"/>
<text x="925.4" y="217.5" class="m">32 µm</text>
</g>
<g>
<path d="M1584.0,185.2 L1584.8,185.7 L1585.5,184.3 L1586.3,185.8 L1587.0,184.6 L1587.8,185.7 L1588.6,184.3 L1589.3,185.3 L1590.1,182.7 L1590.9,186.3 L1591.8,184.1 L1592.6,186.0 L1593.4,184.6 L1594.3,187.7 L1595.1,185.3 L1595.9,186.0 L1596.8,184.5 L1597.6,185.6 L1598.4,184.4 L1599.3,185.2 L1600.1,183.9 L1600.9,185.2 L1601.8,183.8 L1602.7,184.9 L1603.5,183.9 L1604.3,184.5 L1605.2,183.6 L1606.0,186.3 L1606.9,183.5 L1607.7,185.0 L1608.5,184.0 L1609.4,185.1 L1610.2,183.9 L1611.0,185.6 L1611.8,185.2 L1612.6,186.7 L1613.4,186.4 L1614.2,188.0 L1615.0,185.4 L1615.7,185.3 L1616.5,183.3 L1617.2,185.1 L1618.0,180.5 L1618.8,182.7 L1619.6,181.7 L1620.4,182.7 L1621.2,181.2 L1622.0,182.6 L1622.8,181.9 L1623.7,183.9 L1624.5,182.9 L1625.3,184.8 L1626.0,183.7 L1626.8,185.7 L1627.5,182.9 L1628.3,186.3 L1629.1,182.8 L1630.0,182.2 L1630.8,178.8 L1631.5,182.6 L1632.3,184.0 L1633.1,185.3 L1633.9,184.4 L1634.7,185.7 L1635.5,184.7 L1636.3,186.2 L1637.1,185.1 L1637.9,186.1 L1638.8,185.1 L1639.6,185.8 L1640.4,184.4 L1641.2,185.9 L1642.0,184.4 L1642.8,186.7 L1643.6,185.6 L1644.4,187.3 L1645.2,185.9 L1646.1,186.9 L1646.9,185.5 L1647.7,186.2 L1648.6,184.8 L1649.4,185.5 L1650.4,187.2 L1651.4,190.8 L1652.2,189.3 L1653.0,190.7 L1653.9,189.3 L1654.7,190.8 L1655.5,189.8 L1656.3,192.1 L1657.1,191.6 L1657.9,194.0 L1658.7,193.4 L1659.5,196.0 L1660.5,201.9 L1661.5,209.9 L1662.5,198.8 L1663.3,199.7 L1664.2,198.4 L1665.0,200.6 L1665.8,197.8 L1666.7,200.1 L1667.5,197.4 L1668.3,199.4 L1669.2,198.6 L1670.0,200.1 L1670.9,199.6 L1671.8,201.3 L1672.6,200.9 L1673.4,202.8 L1674.2,202.5 L1675.0,204.3 L1675.8,203.8 L1676.6,207.7 L1677.4,205.2 L1678.2,206.6 L1679.0,203.9 L1679.8,207.5 L1680.6,206.7 L1681.4,207.9 L1682.3,207.3 L1683.1,208.8 L1683.9,206.0 L1684.8,209.8 L1685.6,208.5 L1686.4,210.4 L1687.2,209.6 L1688.1,212.0 L1688.9,211.2 L1689.7,212.7 L1690.7,216.0 L1691.7,222.2 L1692.5,221.2 L1693.3,222.2 L1694.1,221.5 L1694.9,222.5 L1695.7,221.9 L1696.5,220.9 L1697.2,218.1 L1698.0,217.5 L1698.7,214.9 L1699.5,216.4 L1700.3,216.5 L1701.1,219.5 L1701.9,217.8 L1702.7,219.9 L1703.5,218.4 L1704.3,219.5 L1705.2,218.3 L1706.0,219.0 L1706.8,217.8 L1707.6,219.4 L1708.4,218.5 L1709.2,220.4 L1710.0,219.5 L1710.8,221.1 L1711.6,219.9 L1712.5,221.7 L1713.3,221.0 L1714.1,222.2 L1715.0,221.4 L1715.8,224.0 L1716.6,221.9 L1717.5,223.8 L1718.3,222.8 L1719.1,224.3 L1720.0,223.8 L1720.8,224.8 L1721.6,224.1 L1722.4,225.7 L1723.3,224.8 L1724.1,226.8 L1724.9,224.1 L1725.7,227.0 L1726.4,225.6 L1727.2,226.7 L1727.9,225.1 L1728.7,226.4 L1729.4,225.3 L1730.2,226.3 L1730.9,223.8 L1731.7,226.0 L1732.6,224.0 L1733.4,226.6 L1734.2,225.3 L1735.1,227.0 L1735.9,225.9 L1736.8,228.8 L1737.6,225.5 L1738.5,226.4 L1739.3,224.4 L1740.2,226.3 L1741.0,225.5 L1741.8,227.9 L1742.7,224.9 L1743.5,225.9 L1744.3,224.6 L1745.2,225.2 L1746.0,223.7 L1746.8,225.2 L1747.7,222.1 L1748.5,224.9 L1749.3,223.5 L1750.2,226.7 L1751.0,223.6 L1751.8,224.8 L1752.7,223.4 L1753.5,225.7 L1754.3,223.2 L1755.2,224.0 L1756.0,222.7 L1756.8,223.7 L1757.7,222.6 L1758.5,224.0 L1759.4,222.6 L1760.2,223.3 L1761.1,222.4 L1761.9,223.3 L1762.8,222.2 L1763.6,223.0 L1764.4,221.5 L1765.3,222.4 L1766.1,221.4 L1766.9,222.3 L1767.7,221.6 L1768.4,222.6 L1769.2,221.7 L1770.0,222.7 L1770.8,219.6 L1771.7,224.8 L1772.5,221.7 L1773.3,223.0 L1774.2,222.2 L1775.0,225.5 L1775.8,222.1 L1776.7,223.4 L1777.5,222.0 L1778.4,224.6 L1779.2,221.3 L1780.1,222.3 L1780.9,220.8 L1781.8,221.8 L1782.6,220.4 L1783.4,221.4 L1784.3,219.9 L1785.1,220.9 L1785.9,219.7 L1786.8,222.2 L1787.6,219.2 L1788.4,220.4 L1789.3,218.7 L1790.1,220.0 L1790.9,218.7 L1791.8,219.2 L1792.7,218.2 L1793.5,219.7 L1794.3,217.5 L1795.2,220.3 L1796.2,219.3 L1797.2,222.9 L1798.0,220.4 L1798.7,220.4 L1799.5,218.0 L1800.2,218.1 L1801.0,217.9 L1801.8,219.9 L1802.6,219.9 L1803.4,221.7 L1804.2,221.8 L1805.0,221.5 L1805.7,218.0 L1806.5,217.7 L1807.2,215.0 L1808.0,215.4 L1808.8,213.5 L1809.6,214.1 L1810.4,212.4 L1811.2,213.9 L1812.0,212.6 L1812.8,214.6 L1813.5,214.8 L1814.3,216.8 L1815.0,220.7 L1815.8,226.7 L1816.6,222.4 L1817.5,220.3 L1818.3,214.7 L1819.2,218.9 L1820.0,219.5 L1820.9,222.4 L1821.8,222.8 L1822.8,217.2 L1823.8,210.0 L1824.6,209.1 L1825.5,205.6 L1826.3,204.6 L1827.1,202.8 L1827.9,203.5 L1828.8,201.5 L1829.6,201.6 L1830.4,199.8 L1831.2,200.3 L1832.1,197.5 L1832.9,199.9 L1833.7,198.5 L1834.6,199.8 L1835.4,197.9 L1836.2,198.7 L1837.0,196.7 L1837.8,196.8 L1838.6,194.8 L1839.4,195.0 L1840.2,193.4 L1841.1,195.7 L1841.9,192.6 L1842.7,193.1 L1843.6,190.9 L1844.4,191.6 L1845.2,191.1 L1845.9,192.8 L1846.7,192.4 L1847.5,194.0 L1848.2,193.1 L1849.0,194.9 L1849.7,194.3 L1850.5,195.8 L1851.2,192.9 L1852.0,192.5 L1852.8,190.3 L1853.5,190.0 L1854.5,192.2 L1855.5,196.5 L1856.5,189.1 L1857.5,184.0 L1858.2,183.5 L1859.0,186.2 L1859.8,184.4 L1860.5,186.8 L1861.4,184.3 L1862.3,185.0 L1863.2,181.9 L1864.1,185.6 L1865.1,186.9 L1866.1,193.9 L1867.0,193.3 L1867.8,194.6 L1868.7,194.1 L1869.6,197.3 L1870.4,193.9 L1871.3,195.0 L1872.1,193.0 L1872.9,193.6 L1873.8,191.9 L1874.6,192.9 L1875.6,197.4 L1876.4,198.4 L1877.2,197.0 L1877.9,198.9 L1878.7,196.2 L1879.5,195.9 L1880.2,193.5 L1881.0,193.1 L1881.7,190.9 L1882.5,193.8 L1883.2,194.6 L1884.0,199.0 L1884.7,198.7 L1885.5,199.6 L1886.2,198.3 L1887.0,200.2 L1887.7,197.8 L1888.5,198.8 L1889.2,197.5 L1890.0,198.2 L1890.7,196.9 L1891.5,199.4 L1892.4,197.6 L1893.2,198.6 L1894.1,198.0 L1895.0,199.3 L1895.8,198.3 L1896.6,200.0 L1897.5,199.2 L1898.3,200.8 L1899.1,200.0 L1900.0,201.4 L1900.8,200.5 L1901.6,201.8 L1902.5,200.8 L1903.3,202.3 L1904.1,200.0 L1905.0,202.4 L1905.8,202.3" fill="none" stroke="#b80000" stroke-width="3.4" stroke-linejoin="round" stroke-linecap="round"/>
<path d="M1584.0,185.2 L1584.8,185.7 L1585.5,184.3 L1586.3,185.8 L1587.0,184.6 L1587.8,185.7 L1588.6,184.3 L1589.3,185.3 L1590.1,182.7 L1590.9,186.3 L1591.8,184.1 L1592.6,186.0 L1593.4,184.6 L1594.3,187.7 L1595.1,185.3 L1595.9,186.0 L1596.8,184.5 L1597.6,185.6 L1598.4,184.4 L1599.3,185.2 L1600.1,183.9 L1600.9,185.2 L1601.8,183.8 L1602.7,184.9 L1603.5,183.9 L1604.3,184.5 L1605.2,183.6 L1606.0,186.3 L1606.9,183.5 L1607.7,185.0 L1608.5,184.0 L1609.4,185.1 L1610.2,183.9 L1611.0,185.6 L1611.8,185.2 L1612.6,186.7 L1613.4,186.4 L1614.2,188.0 L1615.0,185.4 L1615.7,185.3 L1616.5,183.3 L1617.2,185.1 L1618.0,180.5 L1618.8,182.7 L1619.6,181.7 L1620.4,182.7 L1621.2,181.2 L1622.0,182.6 L1622.8,181.9 L1623.7,183.9 L1624.5,182.9 L1625.3,184.8 L1626.0,183.7 L1626.8,185.7 L1627.5,182.9 L1628.3,186.3 L1629.1,182.8 L1630.0,182.2 L1630.8,178.8 L1631.5,182.6 L1632.3,184.0 L1633.1,185.3 L1633.9,184.4 L1634.7,185.7 L1635.5,184.7 L1636.3,186.2 L1637.1,185.1 L1637.9,186.1 L1638.8,185.1 L1639.6,185.8 L1640.4,184.4 L1641.2,185.9 L1642.0,184.4 L1642.8,186.7 L1643.6,185.6 L1644.4,187.3 L1645.2,185.9 L1646.1,186.9 L1646.9,185.5 L1647.7,186.2 L1648.6,184.8 L1649.4,185.5 L1650.4,187.2 L1651.4,190.8 L1652.2,189.3 L1653.0,190.7 L1653.9,189.3 L1654.7,190.8 L1655.5,189.8 L1656.3,192.1 L1657.1,191.6 L1657.9,194.0 L1658.7,193.4 L1659.5,196.0 L1660.5,201.9 L1661.5,209.9 L1662.5,198.8 L1663.3,199.7 L1664.2,198.4 L1665.0,200.6 L1665.8,197.8 L1666.7,200.1 L1667.5,197.4 L1668.3,199.4 L1669.2,198.6 L1670.0,200.1 L1670.9,199.6 L1671.8,201.3 L1672.6,200.9 L1673.4,202.8 L1674.2,202.5 L1675.0,204.3 L1675.8,203.8 L1676.6,207.7 L1677.4,205.2 L1678.2,206.6 L1679.0,203.9 L1679.8,207.5 L1680.6,206.7 L1681.4,207.9 L1682.3,207.3 L1683.1,208.8 L1683.9,206.0 L1684.8,209.8 L1685.6,208.5 L1686.4,210.4 L1687.2,209.6 L1688.1,212.0 L1688.9,211.2 L1689.7,212.7 L1690.7,216.0 L1691.7,222.2 L1692.5,221.2 L1693.3,222.2 L1694.1,221.5 L1694.9,222.5 L1695.7,221.9 L1696.5,220.9 L1697.2,218.1 L1698.0,217.5 L1698.7,214.9 L1699.5,216.4 L1700.3,216.5 L1701.1,219.5 L1701.9,217.8 L1702.7,219.9 L1703.5,218.4 L1704.3,219.5 L1705.2,218.3 L1706.0,219.0 L1706.8,217.8 L1707.6,219.4 L1708.4,218.5 L1709.2,220.4 L1710.0,219.5 L1710.8,221.1 L1711.6,219.9 L1712.5,221.7 L1713.3,221.0 L1714.1,222.2 L1715.0,221.4 L1715.8,224.0 L1716.6,221.9 L1717.5,223.8 L1718.3,222.8 L1719.1,224.3 L1720.0,223.8 L1720.8,224.8 L1721.6,224.1 L1722.4,225.7 L1723.3,224.8 L1724.1,226.8 L1724.9,224.1 L1725.7,227.0 L1726.4,225.6 L1727.2,226.7 L1727.9,225.1 L1728.7,226.4 L1729.4,225.3 L1730.2,226.3 L1730.9,223.8 L1731.7,226.0 L1732.6,224.0 L1733.4,226.6 L1734.2,225.3 L1735.1,227.0 L1735.9,225.9 L1736.8,228.8 L1737.6,225.5 L1738.5,226.4 L1739.3,224.4 L1740.2,226.3 L1741.0,225.5 L1741.8,227.9 L1742.7,224.9 L1743.5,225.9 L1744.3,224.6 L1745.2,225.2 L1746.0,223.7 L1746.8,225.2 L1747.7,222.1 L1748.5,224.9 L1749.3,223.5 L1750.2,226.7 L1751.0,223.6 L1751.8,224.8 L1752.7,223.4 L1753.5,225.7 L1754.3,223.2 L1755.2,224.0 L1756.0,222.7 L1756.8,223.7 L1757.7,222.6 L1758.5,224.0 L1759.4,222.6 L1760.2,223.3 L1761.1,222.4 L1761.9,223.3 L1762.8,222.2 L1763.6,223.0 L1764.4,221.5 L1765.3,222.4 L1766.1,221.4 L1766.9,222.3 L1767.7,221.6 L1768.4,222.6 L1769.2,221.7 L1770.0,222.7 L1770.8,219.6 L1771.7,224.8 L1772.5,221.7 L1773.3,223.0 L1774.2,222.2 L1775.0,225.5 L1775.8,222.1 L1776.7,223.4 L1777.5,222.0 L1778.4,224.6 L1779.2,221.3 L1780.1,222.3 L1780.9,220.8 L1781.8,221.8 L1782.6,220.4 L1783.4,221.4 L1784.3,219.9 L1785.1,220.9 L1785.9,219.7 L1786.8,222.2 L1787.6,219.2 L1788.4,220.4 L1789.3,218.7 L1790.1,220.0 L1790.9,218.7 L1791.8,219.2 L1792.7,218.2 L1793.5,219.7 L1794.3,217.5 L1795.2,220.3 L1796.2,219.3 L1797.2,222.9 L1798.0,220.4 L1798.7,220.4 L1799.5,218.0 L1800.2,218.1 L1801.0,217.9 L1801.8,219.9 L1802.6,219.9 L1803.4,221.7 L1804.2,221.8 L1805.0,221.5 L1805.7,218.0 L1806.5,217.7 L1807.2,215.0 L1808.0,215.4 L1808.8,213.5 L1809.6,214.1 L1810.4,212.4 L1811.2,213.9 L1812.0,212.6 L1812.8,214.6 L1813.5,214.8 L1814.3,216.8 L1815.0,220.7 L1815.8,226.7 L1816.6,222.4 L1817.5,220.3 L1818.3,214.7 L1819.2,218.9 L1820.0,219.5 L1820.9,222.4 L1821.8,222.8 L1822.8,217.2 L1823.8,210.0 L1824.6,209.1 L1825.5,205.6 L1826.3,204.6 L1827.1,202.8 L1827.9,203.5 L1828.8,201.5 L1829.6,201.6 L1830.4,199.8 L1831.2,200.3 L1832.1,197.5 L1832.9,199.9 L1833.7,198.5 L1834.6,199.8 L1835.4,197.9 L1836.2,198.7 L1837.0,196.7 L1837.8,196.8 L1838.6,194.8 L1839.4,195.0 L1840.2,193.4 L1841.1,195.7 L1841.9,192.6 L1842.7,193.1 L1843.6,190.9 L1844.4,191.6 L1845.2,191.1 L1845.9,192.8 L1846.7,192.4 L1847.5,194.0 L1848.2,193.1 L1849.0,194.9 L1849.7,194.3 L1850.5,195.8 L1851.2,192.9 L1852.0,192.5 L1852.8,190.3 L1853.5,190.0 L1854.5,192.2 L1855.5,196.5 L1856.5,189.1 L1857.5,184.0 L1858.2,183.5 L1859.0,186.2 L1859.8,184.4 L1860.5,186.8 L1861.4,184.3 L1862.3,185.0 L1863.2,181.9 L1864.1,185.6 L1865.1,186.9 L1866.1,193.9 L1867.0,193.3 L1867.8,194.6 L1868.7,194.1 L1869.6,197.3 L1870.4,193.9 L1871.3,195.0 L1872.1,193.0 L1872.9,193.6 L1873.8,191.9 L1874.6,192.9 L1875.6,197.4 L1876.4,198.4 L1877.2,197.0 L1877.9,198.9 L1878.7,196.2 L1879.5,195.9 L1880.2,193.5 L1881.0,193.1 L1881.7,190.9 L1882.5,193.8 L1883.2,194.6 L1884.0,199.0 L1884.7,198.7 L1885.5,199.6 L1886.2,198.3 L1887.0,200.2 L1887.7,197.8 L1888.5,198.8 L1889.2,197.5 L1890.0,198.2 L1890.7,196.9 L1891.5,199.4 L1892.4,197.6 L1893.2,198.6 L1894.1,198.0 L1895.0,199.3 L1895.8,198.3 L1896.6,200.0 L1897.5,199.2 L1898.3,200.8 L1899.1,200.0 L1900.0,201.4 L1900.8,200.5 L1901.6,201.8 L1902.5,200.8 L1903.3,202.3 L1904.1,200.0 L1905.0,202.4 L1905.8,202.3" fill="none" stroke="#ff0000" stroke-width="2.0" stroke-linejoin="round" stroke-linecap="round"/>
<rect x="1505.0" y="73.8" width="469.2" height="231.9" fill="none" stroke="#000" stroke-width="1.8"/>
<line x1="1494.0" y1="103.1" x2="1505.0" y2="103.1" stroke="#000" stroke-width="1.8"/>
<text x="1487.5" y="109.1" class="s e">40</text>
<line x1="1494.0" y1="153.0" x2="1505.0" y2="153.0" stroke="#000" stroke-width="1.8"/>
<text x="1487.5" y="159.0" class="s e">20</text>
<line x1="1494.0" y1="202.9" x2="1505.0" y2="202.9" stroke="#000" stroke-width="1.8"/>
<text x="1487.5" y="208.9" class="s e">0</text>
<line x1="1494.0" y1="252.7" x2="1505.0" y2="252.7" stroke="#000" stroke-width="1.8"/>
<text x="1487.5" y="258.7" class="s e">-20</text>
<line x1="1494.0" y1="302.6" x2="1505.0" y2="302.6" stroke="#000" stroke-width="1.8"/>
<text x="1487.5" y="308.6" class="s e">-40</text>
<line x1="1551.9" y1="305.7" x2="1551.9" y2="311.7" stroke="#000" stroke-width="1.8"/>
<line x1="1607.6" y1="305.7" x2="1607.6" y2="316.7" stroke="#000" stroke-width="1.8"/>
<text x="1607.6" y="339.2" class="s c">400</text>
<line x1="1663.3" y1="305.7" x2="1663.3" y2="311.7" stroke="#000" stroke-width="1.8"/>
<line x1="1719.1" y1="305.7" x2="1719.1" y2="316.7" stroke="#000" stroke-width="1.8"/>
<text x="1719.1" y="339.2" class="s c">800</text>
<line x1="1774.8" y1="305.7" x2="1774.8" y2="311.7" stroke="#000" stroke-width="1.8"/>
<line x1="1830.5" y1="305.7" x2="1830.5" y2="316.7" stroke="#000" stroke-width="1.8"/>
<text x="1830.5" y="339.2" class="s c">1200</text>
<line x1="1886.3" y1="305.7" x2="1886.3" y2="311.7" stroke="#000" stroke-width="1.8"/>
<line x1="1942.0" y1="305.7" x2="1942.0" y2="316.7" stroke="#000" stroke-width="1.8"/>
<text x="1942.0" y="339.2" class="s c">1600</text>
<text x="1652.8" y="360.3" class="s">Trace length (µm)</text>
<text transform="translate(1464.5,188.0) rotate(-90)" class="s c">Height profile (µm)</text>
<line x1="1586.6" y1="178.8" x2="1623.0" y2="178.8" stroke="#0b1838" stroke-width="3.6"/>
<line x1="1586.6" y1="230.0" x2="1793.5" y2="230.0" stroke="#0b1838" stroke-width="3.6"/>
<line x1="1596.8" y1="189.2" x2="1596.8" y2="219.6" stroke="#0b1838" stroke-width="2.9"/>
<path d="M1596.8,181.2 L1591.7,196.7 L1601.9,196.7 Z" fill="#15305a"/>
<path d="M1596.8,227.6 L1591.7,212.1 L1601.9,212.1 Z" fill="#15305a"/>
<text x="1519.1" y="213.7" class="m">20 µm</text>
</g>
<g>
<path d="M328.4,428.8 L329.2,429.7 L330.1,426.9 L330.9,434.3 L331.8,426.5 L332.6,428.5 L333.4,426.8 L334.2,429.9 L334.9,428.9 L335.7,431.2 L336.5,429.8 L337.2,433.2 L338.0,430.8 L338.8,434.1 L339.6,432.4 L340.4,435.6 L341.2,433.1 L342.0,436.7 L342.7,434.0 L343.5,437.4 L344.3,435.2 L345.1,437.8 L345.9,435.7 L346.8,438.4 L347.6,434.5 L348.5,439.4 L349.3,437.9 L350.1,440.7 L351.0,437.2 L351.8,439.2 L352.7,431.2 L353.5,437.2 L354.3,435.7 L355.2,439.0 L356.0,437.4 L356.9,441.4 L357.7,435.1 L358.5,440.9 L359.3,438.3 L360.2,439.7 L361.0,435.8 L361.8,438.2 L362.6,437.4 L363.5,440.7 L364.3,439.2 L365.2,443.3 L366.0,442.6 L366.8,445.1 L367.6,443.2 L368.4,447.6 L369.1,445.6 L369.9,448.8 L370.7,447.4 L371.5,450.5 L372.3,448.3 L373.1,451.6 L374.0,450.3 L374.8,454.2 L375.7,451.2 L376.5,457.4 L377.4,456.3 L378.2,471.6 L378.9,462.1 L379.6,459.2 L380.4,453.5 L381.1,457.8 L381.9,455.7 L382.6,458.6 L383.4,456.5 L384.1,458.6 L384.9,451.8 L385.7,458.1 L386.4,455.2 L387.2,455.8 L388.0,453.0 L388.7,458.6 L389.4,460.3 L390.1,466.6 L390.9,465.3 L391.6,470.1 L392.4,469.0 L393.2,473.8 L393.9,473.0 L394.6,481.1 L395.3,481.8 L396.1,483.3 L396.9,480.6 L397.7,483.1 L398.5,479.0 L399.3,483.6 L400.2,481.7 L401.0,485.7 L401.9,483.3 L402.7,486.1 L403.6,485.7 L404.4,489.4 L405.3,486.9 L406.2,490.5 L407.0,489.7 L407.9,493.4 L408.7,492.2 L409.6,495.2 L410.4,493.9 L411.3,502.1 L412.1,496.0 L412.9,500.7 L413.8,499.4 L414.6,503.4 L415.5,501.3 L416.3,505.6 L417.1,503.4 L417.9,507.4 L418.8,505.7 L419.6,508.5 L420.4,507.0 L421.2,510.5 L422.1,509.0 L422.9,512.8 L423.8,510.3 L424.6,514.3 L425.4,512.0 L426.3,514.6 L427.1,511.9 L428.0,518.5 L428.8,512.7 L429.6,516.7 L430.5,516.1 L431.3,519.5 L432.2,518.2 L433.0,521.7 L433.8,520.1 L434.7,524.7 L435.5,522.9 L436.4,526.8 L437.2,526.0 L438.0,529.0 L438.9,527.8 L439.7,530.4 L440.6,526.8 L441.4,533.1 L442.2,530.7 L443.1,537.4 L443.9,530.8 L444.8,534.3 L445.6,532.0 L446.4,535.2 L447.2,534.4 L448.1,537.7 L448.9,536.1 L449.7,539.8 L450.5,538.3 L451.4,541.7 L452.2,540.1 L453.1,544.5 L453.9,543.2 L454.7,545.5 L455.6,543.4 L456.4,550.2 L457.3,544.3 L458.1,547.9 L458.9,545.1 L459.8,548.1 L460.6,545.9 L461.5,549.3 L462.3,542.8 L463.1,550.2 L464.0,547.6 L464.8,555.7 L465.7,545.1 L466.5,556.5 L467.3,550.2 L468.2,553.2 L469.0,551.9 L469.9,555.9 L470.7,552.5 L471.5,555.1 L472.3,552.9 L473.2,554.2 L474.0,551.6 L474.8,554.2 L475.6,552.6 L476.5,556.4 L477.3,555.4 L478.2,560.9 L479.0,555.9 L479.8,563.1 L480.7,561.8 L481.5,565.6 L482.4,564.7 L483.2,571.0 L484.0,565.9 L484.9,569.2 L485.7,567.1 L486.6,569.6 L487.4,567.2 L488.2,570.9 L489.1,569.0 L489.9,571.6 L490.8,565.7 L491.6,572.9 L492.4,571.8 L493.1,574.7 L493.9,572.4 L494.7,575.9 L495.5,570.5 L496.3,569.4 L497.1,564.7 L497.9,563.6 L498.7,563.3 L499.5,569.4 L500.4,568.3 L501.2,578.1 L502.0,574.6 L502.8,578.5 L503.6,578.0 L504.4,583.1 L505.2,581.7 L506.2,596.0 L506.9,587.4 L507.6,588.7 L508.3,577.9 L509.1,581.0 L509.9,571.5 L510.7,571.7 L511.5,565.1 L512.2,578.7 L512.9,584.4 L513.6,597.3 L514.4,590.8 L515.2,593.6 L515.9,583.3 L516.7,585.2 L517.5,578.5 L518.4,579.3 L519.2,570.3 L520.1,575.3 L520.9,569.1 L521.7,573.1 L522.6,572.3 L523.4,576.6 L524.3,574.4 L525.1,578.1 L525.9,577.9 L526.7,581.7 L527.6,576.4 L528.4,583.2 L529.2,582.9 L530.0,584.4 L530.9,581.3 L531.7,583.3 L532.6,580.9 L533.4,583.5 L534.2,576.9 L535.1,584.9 L535.9,584.0 L536.8,588.0 L537.6,586.5 L538.4,591.1 L539.3,590.8 L540.1,595.0 L541.0,594.3 L541.8,604.4 L542.6,595.3 L543.5,596.4 L544.3,592.4 L545.2,592.5 L546.0,589.3 L546.8,590.6 L547.7,583.3 L548.5,588.5 L549.4,584.9 L550.2,586.5 L551.0,585.1 L551.8,588.1 L552.6,586.6 L553.4,590.2 L554.2,588.6 L555.0,594.7 L555.9,597.0 L556.7,603.2 L557.6,604.9 L558.4,611.7 L559.2,604.7 L560.0,601.3 L560.7,593.1 L561.5,591.7 L562.3,587.0 L563.0,588.7 L563.8,583.6 L564.6,585.1 L565.4,579.9 L566.3,588.1 L567.1,586.6 L568.0,592.0 L568.8,590.2 L569.6,591.9 L570.5,585.9 L571.3,587.2 L572.2,581.8 L573.0,583.4 L573.8,580.7 L574.7,586.0 L575.5,583.2 L576.4,587.5 L577.2,586.8 L578.0,588.3 L578.9,584.8 L579.7,586.9 L580.6,583.2 L581.4,585.4 L582.2,582.8 L583.1,591.3 L583.9,585.5 L584.8,590.1 L585.6,585.2 L586.4,589.7 L587.2,586.4 L588.1,588.9 L588.9,585.4 L589.7,586.8 L590.5,584.2 L591.4,586.5 L592.2,584.0 L593.1,587.3 L593.9,584.9 L594.7,585.6 L595.6,583.1 L596.4,585.2 L597.3,581.4 L598.1,583.0 L599.2,592.9 L600.0,593.5 L600.8,586.8 L601.5,588.1 L602.3,579.9 L603.1,588.2 L603.8,587.0 L604.6,592.6 L605.4,592.7 L606.2,592.3 L607.0,585.8 L607.8,589.8 L608.6,580.2 L609.4,582.3 L610.3,579.1 L611.1,581.7 L612.0,577.9 L612.8,580.7 L613.6,579.6 L614.4,582.8 L615.3,580.7 L616.1,584.7 L616.9,579.4 L617.7,585.3 L618.6,583.3 L619.4,587.6 L620.3,586.3 L621.1,589.5 L621.9,585.5 L622.8,586.3 L623.6,582.8 L624.5,584.3 L625.3,579.9 L626.1,584.0 L627.0,580.7 L627.8,583.6 L628.7,581.3 L629.5,584.7 L630.3,581.0 L631.2,582.0 L632.0,579.0 L632.9,579.3 L633.7,576.2 L634.5,578.2 L635.4,573.8 L636.2,574.5 L637.1,571.1 L637.9,572.1 L638.7,569.1 L639.5,570.4 L640.4,566.6 L641.2,569.6 L642.0,565.1 L642.8,570.4 L643.6,570.8 L644.4,576.4 L645.2,576.4 L646.0,576.2 L646.8,570.0 L647.5,569.0 L648.3,564.1 L649.1,565.4 L650.0,561.1 L650.8,567.2 L651.7,559.7 L652.5,561.8 L653.3,557.7 L654.2,558.0 L655.0,552.8 L655.9,554.0 L656.7,548.2 L657.5,552.2 L658.4,550.1 L659.2,553.6 L660.1,552.1 L660.9,556.0 L661.6,559.1 L662.3,566.3 L663.0,569.7 L663.8,569.0 L664.5,562.5 L665.3,561.1 L666.1,554.6 L666.9,558.1 L667.8,556.3 L668.6,560.9 L669.5,558.0 L670.3,562.2 L671.1,556.7 L671.8,556.0 L672.6,546.2 L673.4,549.9 L674.2,546.3 L675.1,547.2 L675.9,543.5 L676.8,545.9 L677.6,543.2 L678.4,549.0 L679.3,543.1 L680.1,544.6 L681.0,542.5 L681.8,544.6 L682.6,541.5 L683.3,542.3 L684.1,538.1 L684.9,538.6 L685.7,537.2 L686.5,540.5 L687.3,538.5 L688.1,540.4 L688.9,532.9 L689.8,538.0 L690.6,533.4 L691.5,534.5 L692.3,529.4 L693.1,532.3 L693.9,528.5 L694.8,529.6 L695.6,527.2 L696.4,528.8 L697.2,525.3 L698.1,526.8 L698.9,524.2 L699.8,526.4 L700.6,522.7 L701.4,525.0 L702.3,521.7 L703.1,523.8 L704.0,519.8 L704.8,522.9 L705.6,515.4 L706.5,518.2 L707.3,514.2 L708.2,515.2 L709.0,511.6 L709.8,512.9 L710.7,508.4 L711.5,508.6 L712.4,504.0 L713.2,504.9 L714.0,502.0 L714.9,502.9 L715.7,498.4 L716.6,500.5 L717.4,497.1 L718.2,501.0 L719.0,500.3 L719.9,503.5 L720.7,502.9 L721.5,508.3 L722.2,502.4 L722.9,503.9 L723.6,496.2 L724.4,501.0 L725.2,498.3 L726.0,500.2 L726.8,497.2 L727.6,498.9 L728.3,490.1 L729.1,489.8 L729.9,484.4 L730.7,484.8 L731.6,479.5 L732.4,478.6 L733.3,474.0 L734.1,474.4 L734.9,468.4 L735.7,475.6 L736.4,474.7 L737.2,478.6 L737.9,477.8 L738.6,483.2 L739.3,482.3 L740.1,480.6 L740.9,473.3 L741.7,472.2 L742.5,464.7 L743.3,469.1 L744.2,462.8 L745.0,467.9 L745.9,461.1 L746.7,463.9 L747.5,459.9 L748.3,461.6 L749.2,459.1 L750.0,459.7 L750.8,456.4 L751.5,457.8 L752.2,452.5 L752.9,453.6 L753.7,448.1 L754.6,457.4 L755.4,456.7 L756.3,461.7 L757.1,457.4 L757.9,464.6 L758.8,464.2 L759.6,466.7 L760.5,465.5 L761.3,469.4 L762.0,468.4 L762.7,470.8 L763.4,469.3 L764.1,465.2 L764.8,456.2 L765.5,452.6 L766.2,445.9 L766.9,442.9 L767.6,435.1 L768.4,439.0 L769.3,432.2 L770.1,433.6 L771.0,429.3 L771.8,430.4 L772.8,437.5 L773.8,451.7 L774.5,436.4 L775.3,435.6 L776.0,423.8 L776.8,428.6 L777.6,425.7 L778.5,429.3 L779.3,424.5 L780.1,432.0 L780.9,428.7 L781.7,433.3 L782.5,430.5 L783.3,434.0 L784.1,433.6 L785.0,437.5 L785.8,435.7 L786.7,439.8 L787.5,439.3" fill="none" stroke="#064006" stroke-width="3.8" stroke-linejoin="round" stroke-linecap="round"/>
<path d="M328.4,428.8 L329.2,429.7 L330.1,426.9 L330.9,434.3 L331.8,426.5 L332.6,428.5 L333.4,426.8 L334.2,429.9 L334.9,428.9 L335.7,431.2 L336.5,429.8 L337.2,433.2 L338.0,430.8 L338.8,434.1 L339.6,432.4 L340.4,435.6 L341.2,433.1 L342.0,436.7 L342.7,434.0 L343.5,437.4 L344.3,435.2 L345.1,437.8 L345.9,435.7 L346.8,438.4 L347.6,434.5 L348.5,439.4 L349.3,437.9 L350.1,440.7 L351.0,437.2 L351.8,439.2 L352.7,431.2 L353.5,437.2 L354.3,435.7 L355.2,439.0 L356.0,437.4 L356.9,441.4 L357.7,435.1 L358.5,440.9 L359.3,438.3 L360.2,439.7 L361.0,435.8 L361.8,438.2 L362.6,437.4 L363.5,440.7 L364.3,439.2 L365.2,443.3 L366.0,442.6 L366.8,445.1 L367.6,443.2 L368.4,447.6 L369.1,445.6 L369.9,448.8 L370.7,447.4 L371.5,450.5 L372.3,448.3 L373.1,451.6 L374.0,450.3 L374.8,454.2 L375.7,451.2 L376.5,457.4 L377.4,456.3 L378.2,471.6 L378.9,462.1 L379.6,459.2 L380.4,453.5 L381.1,457.8 L381.9,455.7 L382.6,458.6 L383.4,456.5 L384.1,458.6 L384.9,451.8 L385.7,458.1 L386.4,455.2 L387.2,455.8 L388.0,453.0 L388.7,458.6 L389.4,460.3 L390.1,466.6 L390.9,465.3 L391.6,470.1 L392.4,469.0 L393.2,473.8 L393.9,473.0 L394.6,481.1 L395.3,481.8 L396.1,483.3 L396.9,480.6 L397.7,483.1 L398.5,479.0 L399.3,483.6 L400.2,481.7 L401.0,485.7 L401.9,483.3 L402.7,486.1 L403.6,485.7 L404.4,489.4 L405.3,486.9 L406.2,490.5 L407.0,489.7 L407.9,493.4 L408.7,492.2 L409.6,495.2 L410.4,493.9 L411.3,502.1 L412.1,496.0 L412.9,500.7 L413.8,499.4 L414.6,503.4 L415.5,501.3 L416.3,505.6 L417.1,503.4 L417.9,507.4 L418.8,505.7 L419.6,508.5 L420.4,507.0 L421.2,510.5 L422.1,509.0 L422.9,512.8 L423.8,510.3 L424.6,514.3 L425.4,512.0 L426.3,514.6 L427.1,511.9 L428.0,518.5 L428.8,512.7 L429.6,516.7 L430.5,516.1 L431.3,519.5 L432.2,518.2 L433.0,521.7 L433.8,520.1 L434.7,524.7 L435.5,522.9 L436.4,526.8 L437.2,526.0 L438.0,529.0 L438.9,527.8 L439.7,530.4 L440.6,526.8 L441.4,533.1 L442.2,530.7 L443.1,537.4 L443.9,530.8 L444.8,534.3 L445.6,532.0 L446.4,535.2 L447.2,534.4 L448.1,537.7 L448.9,536.1 L449.7,539.8 L450.5,538.3 L451.4,541.7 L452.2,540.1 L453.1,544.5 L453.9,543.2 L454.7,545.5 L455.6,543.4 L456.4,550.2 L457.3,544.3 L458.1,547.9 L458.9,545.1 L459.8,548.1 L460.6,545.9 L461.5,549.3 L462.3,542.8 L463.1,550.2 L464.0,547.6 L464.8,555.7 L465.7,545.1 L466.5,556.5 L467.3,550.2 L468.2,553.2 L469.0,551.9 L469.9,555.9 L470.7,552.5 L471.5,555.1 L472.3,552.9 L473.2,554.2 L474.0,551.6 L474.8,554.2 L475.6,552.6 L476.5,556.4 L477.3,555.4 L478.2,560.9 L479.0,555.9 L479.8,563.1 L480.7,561.8 L481.5,565.6 L482.4,564.7 L483.2,571.0 L484.0,565.9 L484.9,569.2 L485.7,567.1 L486.6,569.6 L487.4,567.2 L488.2,570.9 L489.1,569.0 L489.9,571.6 L490.8,565.7 L491.6,572.9 L492.4,571.8 L493.1,574.7 L493.9,572.4 L494.7,575.9 L495.5,570.5 L496.3,569.4 L497.1,564.7 L497.9,563.6 L498.7,563.3 L499.5,569.4 L500.4,568.3 L501.2,578.1 L502.0,574.6 L502.8,578.5 L503.6,578.0 L504.4,583.1 L505.2,581.7 L506.2,596.0 L506.9,587.4 L507.6,588.7 L508.3,577.9 L509.1,581.0 L509.9,571.5 L510.7,571.7 L511.5,565.1 L512.2,578.7 L512.9,584.4 L513.6,597.3 L514.4,590.8 L515.2,593.6 L515.9,583.3 L516.7,585.2 L517.5,578.5 L518.4,579.3 L519.2,570.3 L520.1,575.3 L520.9,569.1 L521.7,573.1 L522.6,572.3 L523.4,576.6 L524.3,574.4 L525.1,578.1 L525.9,577.9 L526.7,581.7 L527.6,576.4 L528.4,583.2 L529.2,582.9 L530.0,584.4 L530.9,581.3 L531.7,583.3 L532.6,580.9 L533.4,583.5 L534.2,576.9 L535.1,584.9 L535.9,584.0 L536.8,588.0 L537.6,586.5 L538.4,591.1 L539.3,590.8 L540.1,595.0 L541.0,594.3 L541.8,604.4 L542.6,595.3 L543.5,596.4 L544.3,592.4 L545.2,592.5 L546.0,589.3 L546.8,590.6 L547.7,583.3 L548.5,588.5 L549.4,584.9 L550.2,586.5 L551.0,585.1 L551.8,588.1 L552.6,586.6 L553.4,590.2 L554.2,588.6 L555.0,594.7 L555.9,597.0 L556.7,603.2 L557.6,604.9 L558.4,611.7 L559.2,604.7 L560.0,601.3 L560.7,593.1 L561.5,591.7 L562.3,587.0 L563.0,588.7 L563.8,583.6 L564.6,585.1 L565.4,579.9 L566.3,588.1 L567.1,586.6 L568.0,592.0 L568.8,590.2 L569.6,591.9 L570.5,585.9 L571.3,587.2 L572.2,581.8 L573.0,583.4 L573.8,580.7 L574.7,586.0 L575.5,583.2 L576.4,587.5 L577.2,586.8 L578.0,588.3 L578.9,584.8 L579.7,586.9 L580.6,583.2 L581.4,585.4 L582.2,582.8 L583.1,591.3 L583.9,585.5 L584.8,590.1 L585.6,585.2 L586.4,589.7 L587.2,586.4 L588.1,588.9 L588.9,585.4 L589.7,586.8 L590.5,584.2 L591.4,586.5 L592.2,584.0 L593.1,587.3 L593.9,584.9 L594.7,585.6 L595.6,583.1 L596.4,585.2 L597.3,581.4 L598.1,583.0 L599.2,592.9 L600.0,593.5 L600.8,586.8 L601.5,588.1 L602.3,579.9 L603.1,588.2 L603.8,587.0 L604.6,592.6 L605.4,592.7 L606.2,592.3 L607.0,585.8 L607.8,589.8 L608.6,580.2 L609.4,582.3 L610.3,579.1 L611.1,581.7 L612.0,577.9 L612.8,580.7 L613.6,579.6 L614.4,582.8 L615.3,580.7 L616.1,584.7 L616.9,579.4 L617.7,585.3 L618.6,583.3 L619.4,587.6 L620.3,586.3 L621.1,589.5 L621.9,585.5 L622.8,586.3 L623.6,582.8 L624.5,584.3 L625.3,579.9 L626.1,584.0 L627.0,580.7 L627.8,583.6 L628.7,581.3 L629.5,584.7 L630.3,581.0 L631.2,582.0 L632.0,579.0 L632.9,579.3 L633.7,576.2 L634.5,578.2 L635.4,573.8 L636.2,574.5 L637.1,571.1 L637.9,572.1 L638.7,569.1 L639.5,570.4 L640.4,566.6 L641.2,569.6 L642.0,565.1 L642.8,570.4 L643.6,570.8 L644.4,576.4 L645.2,576.4 L646.0,576.2 L646.8,570.0 L647.5,569.0 L648.3,564.1 L649.1,565.4 L650.0,561.1 L650.8,567.2 L651.7,559.7 L652.5,561.8 L653.3,557.7 L654.2,558.0 L655.0,552.8 L655.9,554.0 L656.7,548.2 L657.5,552.2 L658.4,550.1 L659.2,553.6 L660.1,552.1 L660.9,556.0 L661.6,559.1 L662.3,566.3 L663.0,569.7 L663.8,569.0 L664.5,562.5 L665.3,561.1 L666.1,554.6 L666.9,558.1 L667.8,556.3 L668.6,560.9 L669.5,558.0 L670.3,562.2 L671.1,556.7 L671.8,556.0 L672.6,546.2 L673.4,549.9 L674.2,546.3 L675.1,547.2 L675.9,543.5 L676.8,545.9 L677.6,543.2 L678.4,549.0 L679.3,543.1 L680.1,544.6 L681.0,542.5 L681.8,544.6 L682.6,541.5 L683.3,542.3 L684.1,538.1 L684.9,538.6 L685.7,537.2 L686.5,540.5 L687.3,538.5 L688.1,540.4 L688.9,532.9 L689.8,538.0 L690.6,533.4 L691.5,534.5 L692.3,529.4 L693.1,532.3 L693.9,528.5 L694.8,529.6 L695.6,527.2 L696.4,528.8 L697.2,525.3 L698.1,526.8 L698.9,524.2 L699.8,526.4 L700.6,522.7 L701.4,525.0 L702.3,521.7 L703.1,523.8 L704.0,519.8 L704.8,522.9 L705.6,515.4 L706.5,518.2 L707.3,514.2 L708.2,515.2 L709.0,511.6 L709.8,512.9 L710.7,508.4 L711.5,508.6 L712.4,504.0 L713.2,504.9 L714.0,502.0 L714.9,502.9 L715.7,498.4 L716.6,500.5 L717.4,497.1 L718.2,501.0 L719.0,500.3 L719.9,503.5 L720.7,502.9 L721.5,508.3 L722.2,502.4 L722.9,503.9 L723.6,496.2 L724.4,501.0 L725.2,498.3 L726.0,500.2 L726.8,497.2 L727.6,498.9 L728.3,490.1 L729.1,489.8 L729.9,484.4 L730.7,484.8 L731.6,479.5 L732.4,478.6 L733.3,474.0 L734.1,474.4 L734.9,468.4 L735.7,475.6 L736.4,474.7 L737.2,478.6 L737.9,477.8 L738.6,483.2 L739.3,482.3 L740.1,480.6 L740.9,473.3 L741.7,472.2 L742.5,464.7 L743.3,469.1 L744.2,462.8 L745.0,467.9 L745.9,461.1 L746.7,463.9 L747.5,459.9 L748.3,461.6 L749.2,459.1 L750.0,459.7 L750.8,456.4 L751.5,457.8 L752.2,452.5 L752.9,453.6 L753.7,448.1 L754.6,457.4 L755.4,456.7 L756.3,461.7 L757.1,457.4 L757.9,464.6 L758.8,464.2 L759.6,466.7 L760.5,465.5 L761.3,469.4 L762.0,468.4 L762.7,470.8 L763.4,469.3 L764.1,465.2 L764.8,456.2 L765.5,452.6 L766.2,445.9 L766.9,442.9 L767.6,435.1 L768.4,439.0 L769.3,432.2 L770.1,433.6 L771.0,429.3 L771.8,430.4 L772.8,437.5 L773.8,451.7 L774.5,436.4 L775.3,435.6 L776.0,423.8 L776.8,428.6 L777.6,425.7 L778.5,429.3 L779.3,424.5 L780.1,432.0 L780.9,428.7 L781.7,433.3 L782.5,430.5 L783.3,434.0 L784.1,433.6 L785.0,437.5 L785.8,435.7 L786.7,439.8 L787.5,439.3" fill="none" stroke="#02a002" stroke-width="1.9" stroke-linejoin="round" stroke-linecap="round"/>
<rect x="324.1" y="392.4" width="468.9" height="233.7" fill="none" stroke="#000" stroke-width="1.8"/>
<line x1="313.1" y1="421.1" x2="324.1" y2="421.1" stroke="#000" stroke-width="1.8"/>
<text x="306.6" y="427.1" class="s e">40</text>
<line x1="313.1" y1="471.4" x2="324.1" y2="471.4" stroke="#000" stroke-width="1.8"/>
<text x="306.6" y="477.4" class="s e">20</text>
<line x1="313.1" y1="521.8" x2="324.1" y2="521.8" stroke="#000" stroke-width="1.8"/>
<text x="306.6" y="527.8" class="s e">0</text>
<line x1="313.1" y1="572.1" x2="324.1" y2="572.1" stroke="#000" stroke-width="1.8"/>
<text x="306.6" y="578.1" class="s e">-20</text>
<line x1="313.1" y1="622.4" x2="324.1" y2="622.4" stroke="#000" stroke-width="1.8"/>
<text x="306.6" y="628.4" class="s e">-40</text>
<line x1="370.1" y1="626.1" x2="370.1" y2="632.1" stroke="#000" stroke-width="1.8"/>
<line x1="426.0" y1="626.1" x2="426.0" y2="637.1" stroke="#000" stroke-width="1.8"/>
<text x="426.0" y="659.0" class="s c">400</text>
<line x1="481.9" y1="626.1" x2="481.9" y2="632.1" stroke="#000" stroke-width="1.8"/>
<line x1="537.7" y1="626.1" x2="537.7" y2="637.1" stroke="#000" stroke-width="1.8"/>
<text x="537.7" y="659.0" class="s c">800</text>
<line x1="593.5" y1="626.1" x2="593.5" y2="632.1" stroke="#000" stroke-width="1.8"/>
<line x1="649.4" y1="626.1" x2="649.4" y2="637.1" stroke="#000" stroke-width="1.8"/>
<text x="649.4" y="659.0" class="s c">1200</text>
<line x1="705.2" y1="626.1" x2="705.2" y2="632.1" stroke="#000" stroke-width="1.8"/>
<line x1="761.1" y1="626.1" x2="761.1" y2="637.1" stroke="#000" stroke-width="1.8"/>
<text x="761.1" y="659.0" class="s c">1600</text>
<text x="486.9" y="678.6" class="s">Trace length (µm)</text>
<text transform="translate(277.8,505.8) rotate(-90)" class="s c">Height profile (µm)</text>
<line x1="327.2" y1="430.3" x2="362.7" y2="430.3" stroke="#0b1838" stroke-width="3.6"/>
<line x1="327.2" y1="597.7" x2="562.5" y2="597.7" stroke="#0b1838" stroke-width="3.6"/>
<line x1="341.4" y1="441.1" x2="341.4" y2="587.6" stroke="#0b1838" stroke-width="2.9"/>
<path d="M341.4,433.1 L336.3,448.6 L346.5,448.6 Z" fill="#15305a"/>
<path d="M341.4,595.6 L336.3,580.1 L346.5,580.1 Z" fill="#15305a"/>
<text x="347.7" y="535.3" class="m">68 µm</text>
</g>
<g>
<path d="M991.0,504.0 L991.8,507.3 L992.6,502.8 L993.4,507.9 L994.2,499.2 L995.0,512.1 L995.8,500.1 L996.7,514.1 L997.5,500.3 L998.3,525.7 L999.2,505.0 L1000.0,520.0 L1000.8,494.9 L1001.6,515.5 L1002.4,485.7 L1003.2,508.7 L1004.0,482.7 L1004.8,509.1 L1005.6,482.7 L1006.4,498.5 L1007.2,491.9 L1008.0,497.2 L1008.8,485.6 L1009.7,494.8 L1010.5,491.1 L1011.3,497.4 L1012.2,487.4 L1013.0,493.6 L1013.8,491.3 L1014.7,497.7 L1015.5,491.7 L1016.3,500.2 L1017.2,492.8 L1018.0,499.7 L1018.8,496.8 L1019.5,500.3 L1020.2,495.3 L1021.0,502.3 L1021.8,499.0 L1022.5,509.0 L1023.2,497.5 L1024.0,507.6 L1024.8,498.4 L1025.5,507.9 L1026.2,499.1 L1027.0,506.5 L1027.8,503.4 L1028.5,505.9 L1029.2,504.3 L1030.0,507.6 L1030.8,504.3 L1031.5,506.6 L1032.2,502.6 L1033.0,511.3 L1033.8,501.4 L1034.5,507.4 L1035.2,500.7 L1036.0,507.1 L1037.0,512.6 L1038.0,523.7 L1038.8,519.0 L1039.5,525.0 L1040.2,517.1 L1041.0,524.8 L1041.8,517.9 L1042.6,524.2 L1043.4,516.9 L1044.2,521.5 L1045.0,517.5 L1045.8,520.7 L1046.7,517.5 L1047.5,521.2 L1048.3,516.0 L1049.2,521.1 L1050.0,517.9 L1050.8,519.7 L1051.7,518.4 L1052.5,522.9 L1053.3,518.8 L1054.2,522.4 L1055.0,517.7 L1055.8,523.1 L1056.7,520.2 L1057.5,522.6 L1058.3,521.6 L1059.2,526.4 L1060.0,522.1 L1060.8,526.3 L1061.7,522.8 L1062.5,526.1 L1063.3,525.3 L1064.2,526.9 L1065.0,524.5 L1065.8,528.2 L1066.6,524.6 L1067.3,529.9 L1068.1,526.1 L1068.9,530.4 L1069.7,526.4 L1070.4,531.9 L1071.2,529.0 L1072.0,534.3 L1072.8,531.2 L1073.5,535.4 L1074.2,528.1 L1075.0,538.0 L1075.8,532.4 L1076.5,544.9 L1077.2,535.0 L1078.0,542.0 L1078.8,535.9 L1079.6,542.8 L1080.4,535.2 L1081.2,543.9 L1082.0,535.0 L1082.8,545.6 L1083.6,539.1 L1084.4,545.5 L1085.2,536.9 L1086.0,544.7 L1086.8,542.2 L1087.7,546.1 L1088.5,542.2 L1089.3,546.7 L1090.2,539.1 L1091.0,545.3 L1091.8,542.4 L1092.7,546.8 L1093.5,542.0 L1094.3,545.1 L1095.2,540.4 L1096.0,544.2 L1096.8,541.7 L1097.7,544.2 L1098.5,539.9 L1099.3,545.4 L1100.2,539.4 L1101.0,541.5 L1101.8,540.7 L1102.7,544.7 L1103.5,540.7 L1104.3,546.8 L1105.2,539.8 L1106.0,548.3 L1106.8,543.9 L1107.7,549.4 L1108.5,543.2 L1109.3,547.1 L1110.2,545.1 L1111.0,550.3 L1111.8,545.2 L1112.7,546.9 L1113.5,544.8 L1114.3,549.3 L1115.2,544.0 L1116.0,548.0 L1116.8,544.9 L1117.7,547.3 L1118.5,544.5 L1119.3,546.8 L1120.2,543.4 L1121.0,547.5 L1121.8,545.4 L1122.7,549.9 L1123.5,544.8 L1124.3,547.5 L1125.2,546.4 L1126.0,548.9 L1126.8,545.6 L1127.7,547.9 L1128.5,545.9 L1129.3,550.3 L1130.2,545.8 L1131.0,549.1 L1131.8,545.3 L1132.5,552.1 L1133.2,542.6 L1134.0,550.2 L1134.8,540.7 L1135.6,554.7 L1136.4,542.2 L1137.2,551.5 L1138.0,544.8 L1138.8,550.8 L1139.6,546.6 L1140.4,549.0 L1141.2,546.6 L1142.0,551.7 L1142.8,548.2 L1143.6,549.5 L1144.4,547.8 L1145.2,549.9 L1146.0,547.1 L1146.8,548.9 L1147.7,543.7 L1148.5,550.5 L1149.3,541.1 L1150.2,549.6 L1151.0,541.5 L1151.8,547.4 L1152.5,536.6 L1153.2,548.4 L1154.0,539.3 L1154.8,549.9 L1155.6,532.4 L1156.4,547.3 L1157.2,530.7 L1158.0,546.1 L1158.8,538.9 L1159.6,549.0 L1160.4,542.2 L1161.2,550.8 L1162.0,544.4 L1162.8,547.4 L1163.7,539.6 L1164.5,547.1 L1165.3,541.1 L1166.2,546.6 L1167.0,537.1 L1167.8,544.5 L1168.6,540.7 L1169.4,545.0 L1170.2,539.7 L1171.0,544.6 L1171.8,541.6 L1172.7,544.8 L1173.5,541.9 L1174.3,545.2 L1175.2,541.0 L1176.0,543.6 L1176.8,542.3 L1177.6,544.1 L1178.4,540.4 L1179.2,544.6 L1180.0,543.3 L1180.8,546.0 L1181.7,542.3 L1182.5,547.6 L1183.3,544.1 L1184.2,545.8 L1185.0,544.2 L1185.8,546.3 L1186.6,538.8 L1187.4,543.7 L1188.2,529.9 L1189.0,544.4 L1189.8,528.2 L1190.5,543.1 L1191.2,533.3 L1192.0,538.1 L1192.8,533.3 L1193.7,536.0 L1194.5,532.7 L1195.3,537.0 L1196.2,536.4 L1197.0,538.4 L1197.8,535.4 L1198.7,538.8 L1199.5,533.9 L1200.3,537.4 L1201.2,532.9 L1202.0,535.2 L1202.8,531.2 L1203.7,534.3 L1204.5,524.2 L1205.3,531.7 L1206.2,527.2 L1207.0,529.1 L1207.8,526.3 L1208.6,528.4 L1209.3,525.8 L1210.1,528.9 L1210.9,526.4 L1211.7,528.5 L1212.4,525.1 L1213.2,528.5 L1214.0,525.4 L1214.8,528.1 L1215.5,524.5 L1216.2,527.8 L1217.0,523.3 L1217.8,527.1 L1218.5,523.7 L1219.2,525.8 L1220.0,523.8 L1220.8,524.9 L1221.7,522.1 L1222.5,525.8 L1223.3,522.4 L1224.2,526.8 L1225.0,516.4 L1225.8,525.9 L1226.6,519.7 L1227.4,524.2 L1228.2,518.8 L1229.0,520.5 L1229.8,518.7 L1230.5,522.7 L1231.2,518.1 L1232.0,525.7 L1232.8,519.9 L1233.5,529.0 L1234.2,516.2 L1235.0,525.2 L1235.8,516.1 L1236.7,524.3 L1237.5,514.6 L1238.3,527.3 L1239.2,517.3 L1240.0,526.1 L1240.8,515.7 L1241.5,520.3 L1242.2,510.4 L1243.0,521.0 L1243.8,508.5 L1244.6,523.1 L1245.4,508.8 L1246.2,516.5 L1247.0,511.6 L1247.8,518.6 L1248.6,504.0 L1249.4,515.1 L1250.2,508.8 L1251.0,512.1 L1251.8,506.8 L1252.6,516.0 L1253.4,506.4 L1254.2,509.7 L1255.0,503.6 L1255.8,512.0 L1256.6,497.0 L1257.4,506.4 L1258.2,503.1 L1259.0,511.7 L1259.8,495.9 L1260.7,505.1 L1261.5,499.7 L1262.3,506.7 L1263.2,498.7 L1264.0,505.0 L1264.8,495.9 L1265.6,502.5 L1266.4,497.1 L1267.2,499.9 L1268.0,494.7 L1268.8,498.6 L1269.7,489.6 L1270.5,502.1 L1271.3,491.8 L1272.2,501.3 L1273.0,487.0 L1273.8,496.5 L1274.7,489.7 L1275.5,495.3 L1276.3,487.5 L1277.2,497.0 L1278.0,492.8 L1278.8,495.2 L1279.7,490.1 L1280.5,496.9 L1281.3,490.1 L1282.2,496.8 L1283.0,489.7 L1283.8,502.7 L1284.6,497.9 L1285.4,505.3 L1286.2,501.5 L1287.0,510.1 L1287.8,499.1 L1288.7,510.0 L1289.5,501.7 L1290.3,504.7 L1291.2,497.6 L1292.0,506.6 L1292.8,502.6 L1293.5,509.7 L1294.2,502.5 L1295.0,514.5 L1295.8,503.2 L1296.7,515.6 L1297.5,507.3 L1298.3,517.7 L1299.2,503.6 L1300.0,521.9 L1300.8,508.0 L1301.6,517.3 L1302.4,505.0 L1303.2,509.3 L1304.0,500.9 L1305.0,508.6 L1306.0,505.2" fill="none" stroke="#064006" stroke-width="3.8" stroke-linejoin="round" stroke-linecap="round"/>
<path d="M991.0,504.0 L991.8,507.3 L992.6,502.8 L993.4,507.9 L994.2,499.2 L995.0,512.1 L995.8,500.1 L996.7,514.1 L997.5,500.3 L998.3,525.7 L999.2,505.0 L1000.0,520.0 L1000.8,494.9 L1001.6,515.5 L1002.4,485.7 L1003.2,508.7 L1004.0,482.7 L1004.8,509.1 L1005.6,482.7 L1006.4,498.5 L1007.2,491.9 L1008.0,497.2 L1008.8,485.6 L1009.7,494.8 L1010.5,491.1 L1011.3,497.4 L1012.2,487.4 L1013.0,493.6 L1013.8,491.3 L1014.7,497.7 L1015.5,491.7 L1016.3,500.2 L1017.2,492.8 L1018.0,499.7 L1018.8,496.8 L1019.5,500.3 L1020.2,495.3 L1021.0,502.3 L1021.8,499.0 L1022.5,509.0 L1023.2,497.5 L1024.0,507.6 L1024.8,498.4 L1025.5,507.9 L1026.2,499.1 L1027.0,506.5 L1027.8,503.4 L1028.5,505.9 L1029.2,504.3 L1030.0,507.6 L1030.8,504.3 L1031.5,506.6 L1032.2,502.6 L1033.0,511.3 L1033.8,501.4 L1034.5,507.4 L1035.2,500.7 L1036.0,507.1 L1037.0,512.6 L1038.0,523.7 L1038.8,519.0 L1039.5,525.0 L1040.2,517.1 L1041.0,524.8 L1041.8,517.9 L1042.6,524.2 L1043.4,516.9 L1044.2,521.5 L1045.0,517.5 L1045.8,520.7 L1046.7,517.5 L1047.5,521.2 L1048.3,516.0 L1049.2,521.1 L1050.0,517.9 L1050.8,519.7 L1051.7,518.4 L1052.5,522.9 L1053.3,518.8 L1054.2,522.4 L1055.0,517.7 L1055.8,523.1 L1056.7,520.2 L1057.5,522.6 L1058.3,521.6 L1059.2,526.4 L1060.0,522.1 L1060.8,526.3 L1061.7,522.8 L1062.5,526.1 L1063.3,525.3 L1064.2,526.9 L1065.0,524.5 L1065.8,528.2 L1066.6,524.6 L1067.3,529.9 L1068.1,526.1 L1068.9,530.4 L1069.7,526.4 L1070.4,531.9 L1071.2,529.0 L1072.0,534.3 L1072.8,531.2 L1073.5,535.4 L1074.2,528.1 L1075.0,538.0 L1075.8,532.4 L1076.5,544.9 L1077.2,535.0 L1078.0,542.0 L1078.8,535.9 L1079.6,542.8 L1080.4,535.2 L1081.2,543.9 L1082.0,535.0 L1082.8,545.6 L1083.6,539.1 L1084.4,545.5 L1085.2,536.9 L1086.0,544.7 L1086.8,542.2 L1087.7,546.1 L1088.5,542.2 L1089.3,546.7 L1090.2,539.1 L1091.0,545.3 L1091.8,542.4 L1092.7,546.8 L1093.5,542.0 L1094.3,545.1 L1095.2,540.4 L1096.0,544.2 L1096.8,541.7 L1097.7,544.2 L1098.5,539.9 L1099.3,545.4 L1100.2,539.4 L1101.0,541.5 L1101.8,540.7 L1102.7,544.7 L1103.5,540.7 L1104.3,546.8 L1105.2,539.8 L1106.0,548.3 L1106.8,543.9 L1107.7,549.4 L1108.5,543.2 L1109.3,547.1 L1110.2,545.1 L1111.0,550.3 L1111.8,545.2 L1112.7,546.9 L1113.5,544.8 L1114.3,549.3 L1115.2,544.0 L1116.0,548.0 L1116.8,544.9 L1117.7,547.3 L1118.5,544.5 L1119.3,546.8 L1120.2,543.4 L1121.0,547.5 L1121.8,545.4 L1122.7,549.9 L1123.5,544.8 L1124.3,547.5 L1125.2,546.4 L1126.0,548.9 L1126.8,545.6 L1127.7,547.9 L1128.5,545.9 L1129.3,550.3 L1130.2,545.8 L1131.0,549.1 L1131.8,545.3 L1132.5,552.1 L1133.2,542.6 L1134.0,550.2 L1134.8,540.7 L1135.6,554.7 L1136.4,542.2 L1137.2,551.5 L1138.0,544.8 L1138.8,550.8 L1139.6,546.6 L1140.4,549.0 L1141.2,546.6 L1142.0,551.7 L1142.8,548.2 L1143.6,549.5 L1144.4,547.8 L1145.2,549.9 L1146.0,547.1 L1146.8,548.9 L1147.7,543.7 L1148.5,550.5 L1149.3,541.1 L1150.2,549.6 L1151.0,541.5 L1151.8,547.4 L1152.5,536.6 L1153.2,548.4 L1154.0,539.3 L1154.8,549.9 L1155.6,532.4 L1156.4,547.3 L1157.2,530.7 L1158.0,546.1 L1158.8,538.9 L1159.6,549.0 L1160.4,542.2 L1161.2,550.8 L1162.0,544.4 L1162.8,547.4 L1163.7,539.6 L1164.5,547.1 L1165.3,541.1 L1166.2,546.6 L1167.0,537.1 L1167.8,544.5 L1168.6,540.7 L1169.4,545.0 L1170.2,539.7 L1171.0,544.6 L1171.8,541.6 L1172.7,544.8 L1173.5,541.9 L1174.3,545.2 L1175.2,541.0 L1176.0,543.6 L1176.8,542.3 L1177.6,544.1 L1178.4,540.4 L1179.2,544.6 L1180.0,543.3 L1180.8,546.0 L1181.7,542.3 L1182.5,547.6 L1183.3,544.1 L1184.2,545.8 L1185.0,544.2 L1185.8,546.3 L1186.6,538.8 L1187.4,543.7 L1188.2,529.9 L1189.0,544.4 L1189.8,528.2 L1190.5,543.1 L1191.2,533.3 L1192.0,538.1 L1192.8,533.3 L1193.7,536.0 L1194.5,532.7 L1195.3,537.0 L1196.2,536.4 L1197.0,538.4 L1197.8,535.4 L1198.7,538.8 L1199.5,533.9 L1200.3,537.4 L1201.2,532.9 L1202.0,535.2 L1202.8,531.2 L1203.7,534.3 L1204.5,524.2 L1205.3,531.7 L1206.2,527.2 L1207.0,529.1 L1207.8,526.3 L1208.6,528.4 L1209.3,525.8 L1210.1,528.9 L1210.9,526.4 L1211.7,528.5 L1212.4,525.1 L1213.2,528.5 L1214.0,525.4 L1214.8,528.1 L1215.5,524.5 L1216.2,527.8 L1217.0,523.3 L1217.8,527.1 L1218.5,523.7 L1219.2,525.8 L1220.0,523.8 L1220.8,524.9 L1221.7,522.1 L1222.5,525.8 L1223.3,522.4 L1224.2,526.8 L1225.0,516.4 L1225.8,525.9 L1226.6,519.7 L1227.4,524.2 L1228.2,518.8 L1229.0,520.5 L1229.8,518.7 L1230.5,522.7 L1231.2,518.1 L1232.0,525.7 L1232.8,519.9 L1233.5,529.0 L1234.2,516.2 L1235.0,525.2 L1235.8,516.1 L1236.7,524.3 L1237.5,514.6 L1238.3,527.3 L1239.2,517.3 L1240.0,526.1 L1240.8,515.7 L1241.5,520.3 L1242.2,510.4 L1243.0,521.0 L1243.8,508.5 L1244.6,523.1 L1245.4,508.8 L1246.2,516.5 L1247.0,511.6 L1247.8,518.6 L1248.6,504.0 L1249.4,515.1 L1250.2,508.8 L1251.0,512.1 L1251.8,506.8 L1252.6,516.0 L1253.4,506.4 L1254.2,509.7 L1255.0,503.6 L1255.8,512.0 L1256.6,497.0 L1257.4,506.4 L1258.2,503.1 L1259.0,511.7 L1259.8,495.9 L1260.7,505.1 L1261.5,499.7 L1262.3,506.7 L1263.2,498.7 L1264.0,505.0 L1264.8,495.9 L1265.6,502.5 L1266.4,497.1 L1267.2,499.9 L1268.0,494.7 L1268.8,498.6 L1269.7,489.6 L1270.5,502.1 L1271.3,491.8 L1272.2,501.3 L1273.0,487.0 L1273.8,496.5 L1274.7,489.7 L1275.5,495.3 L1276.3,487.5 L1277.2,497.0 L1278.0,492.8 L1278.8,495.2 L1279.7,490.1 L1280.5,496.9 L1281.3,490.1 L1282.2,496.8 L1283.0,489.7 L1283.8,502.7 L1284.6,497.9 L1285.4,505.3 L1286.2,501.5 L1287.0,510.1 L1287.8,499.1 L1288.7,510.0 L1289.5,501.7 L1290.3,504.7 L1291.2,497.6 L1292.0,506.6 L1292.8,502.6 L1293.5,509.7 L1294.2,502.5 L1295.0,514.5 L1295.8,503.2 L1296.7,515.6 L1297.5,507.3 L1298.3,517.7 L1299.2,503.6 L1300.0,521.9 L1300.8,508.0 L1301.6,517.3 L1302.4,505.0 L1303.2,509.3 L1304.0,500.9 L1305.0,508.6 L1306.0,505.2" fill="none" stroke="#02a002" stroke-width="1.9" stroke-linejoin="round" stroke-linecap="round"/>
<rect x="912.0" y="393.0" width="468.5" height="233.4" fill="none" stroke="#000" stroke-width="1.8"/>
<line x1="901.0" y1="422.3" x2="912.0" y2="422.3" stroke="#000" stroke-width="1.8"/>
<text x="894.5" y="428.3" class="s e">40</text>
<line x1="901.0" y1="472.5" x2="912.0" y2="472.5" stroke="#000" stroke-width="1.8"/>
<text x="894.5" y="478.5" class="s e">20</text>
<line x1="901.0" y1="522.6" x2="912.0" y2="522.6" stroke="#000" stroke-width="1.8"/>
<text x="894.5" y="528.6" class="s e">0</text>
<line x1="901.0" y1="572.8" x2="912.0" y2="572.8" stroke="#000" stroke-width="1.8"/>
<text x="894.5" y="578.8" class="s e">-20</text>
<line x1="901.0" y1="623.0" x2="912.0" y2="623.0" stroke="#000" stroke-width="1.8"/>
<text x="894.5" y="629.0" class="s e">-40</text>
<line x1="958.2" y1="626.4" x2="958.2" y2="632.4" stroke="#000" stroke-width="1.8"/>
<line x1="1013.9" y1="626.4" x2="1013.9" y2="637.4" stroke="#000" stroke-width="1.8"/>
<text x="1013.9" y="659.7" class="s c">400</text>
<line x1="1069.6" y1="626.4" x2="1069.6" y2="632.4" stroke="#000" stroke-width="1.8"/>
<line x1="1125.3" y1="626.4" x2="1125.3" y2="637.4" stroke="#000" stroke-width="1.8"/>
<text x="1125.3" y="659.7" class="s c">800</text>
<line x1="1181.0" y1="626.4" x2="1181.0" y2="632.4" stroke="#000" stroke-width="1.8"/>
<line x1="1236.6" y1="626.4" x2="1236.6" y2="637.4" stroke="#000" stroke-width="1.8"/>
<text x="1236.6" y="659.7" class="s c">1200</text>
<line x1="1292.3" y1="626.4" x2="1292.3" y2="632.4" stroke="#000" stroke-width="1.8"/>
<line x1="1348.0" y1="626.4" x2="1348.0" y2="637.4" stroke="#000" stroke-width="1.8"/>
<text x="1348.0" y="659.7" class="s c">1600</text>
<text x="1074.9" y="680.6" class="s">Trace length (µm)</text>
<text transform="translate(868.5,508.2) rotate(-90)" class="s c">Height profile (µm)</text>
<line x1="972.2" y1="478.2" x2="1007.7" y2="478.2" stroke="#0b1838" stroke-width="3.6"/>
<line x1="972.2" y1="555.4" x2="1178.8" y2="555.4" stroke="#0b1838" stroke-width="3.6"/>
<line x1="982.1" y1="489.3" x2="982.1" y2="544.9" stroke="#0b1838" stroke-width="2.9"/>
<path d="M982.1,481.3 L977.0,496.8 L987.2,496.8 Z" fill="#15305a"/>
<path d="M982.1,552.9 L977.0,537.4 L987.2,537.4 Z" fill="#15305a"/>
<text x="922.3" y="521.1" class="m">35 µm</text>
</g>
<g>
<path d="M1639.1,524.3 L1639.6,503.9 L1640.3,503.1 L1641.1,504.9 L1642.1,505.2 L1643.1,508.1 L1643.8,507.1 L1644.6,509.6 L1645.3,508.9 L1646.1,510.6 L1647.1,509.2 L1648.1,513.6 L1649.1,514.7 L1650.1,518.7 L1650.9,517.9 L1651.7,519.6 L1652.5,518.7 L1653.3,522.1 L1654.1,519.5 L1654.9,522.3 L1655.7,522.1 L1656.6,524.7 L1657.4,524.5 L1658.2,527.3 L1659.0,526.7 L1659.7,529.5 L1660.5,526.8 L1661.2,532.3 L1662.2,533.6 L1663.2,540.2 L1664.0,535.4 L1664.8,535.7 L1665.6,533.9 L1666.4,533.7 L1667.2,531.4 L1668.0,534.4 L1668.8,532.0 L1669.6,533.4 L1670.4,532.2 L1671.2,533.9 L1672.0,533.8 L1672.8,535.7 L1673.5,535.4 L1674.3,538.3 L1675.3,540.3 L1676.3,546.0 L1677.3,540.5 L1678.3,537.7 L1679.1,536.0 L1679.9,537.9 L1680.7,536.2 L1681.5,537.2 L1682.3,535.9 L1683.1,537.3 L1683.9,536.2 L1684.7,538.0 L1685.5,537.0 L1686.3,541.3 L1687.1,537.1 L1687.8,538.4 L1688.6,535.8 L1689.4,536.8 L1690.2,537.7 L1691.0,541.0 L1691.8,541.9 L1692.6,545.0 L1693.4,545.4 L1694.2,545.7 L1694.9,543.0 L1695.7,543.5 L1696.4,540.4 L1697.2,542.8 L1698.0,541.6 L1698.8,543.9 L1699.6,542.8 L1700.4,545.4 L1701.4,539.8 L1702.4,538.4 L1703.2,538.7 L1704.0,542.1 L1704.9,543.2 L1705.7,546.8 L1706.5,547.5 L1707.3,548.1 L1708.1,546.3 L1708.9,549.0 L1709.7,543.4 L1710.5,545.3 L1711.2,545.7 L1712.0,549.3 L1712.8,549.8 L1713.5,553.4 L1714.3,549.8 L1715.1,549.8 L1715.9,546.8 L1716.7,546.8 L1717.5,543.7 L1718.3,545.5 L1719.1,544.4 L1719.9,546.2 L1720.7,544.9 L1721.5,546.8 L1722.3,547.2 L1723.1,549.5 L1724.0,547.5 L1724.8,552.2 L1725.6,551.8 L1726.3,551.8 L1727.1,548.9 L1727.8,549.0 L1728.6,545.8 L1729.3,548.9 L1730.1,548.8 L1730.8,551.8 L1731.6,551.6 L1732.4,550.2 L1733.2,545.3 L1734.0,544.1 L1734.8,539.8 L1735.6,538.1 L1736.6,550.4 L1737.4,551.0 L1738.2,548.3 L1739.1,548.2 L1739.9,544.7 L1740.7,545.4 L1741.5,544.8 L1742.3,546.9 L1743.1,546.0 L1743.9,548.1 L1744.7,547.7 L1745.5,548.9 L1746.2,544.0 L1747.0,543.7 L1747.7,540.7 L1748.5,543.8 L1749.3,544.1 L1750.1,547.1 L1750.9,546.9 L1751.7,549.9 L1752.5,547.2 L1753.3,553.2 L1754.2,551.5 L1755.0,553.8 L1755.8,553.6 L1756.6,553.0 L1757.4,549.9 L1758.2,548.9 L1759.0,545.6 L1759.8,544.9 L1760.6,546.0 L1761.5,549.0 L1762.3,550.0 L1763.1,553.1 L1764.0,553.8 L1764.8,557.2 L1765.5,552.7 L1766.3,553.3 L1767.0,546.4 L1767.8,545.0 L1768.5,543.0 L1769.3,543.5 L1770.0,541.2 L1770.8,541.7 L1771.7,539.8 L1772.5,540.8 L1773.3,538.7 L1774.2,539.2 L1775.1,537.1 L1775.9,538.4 L1776.7,539.5 L1777.5,543.9 L1778.3,544.9 L1779.1,549.6 L1779.9,550.8 L1780.7,549.8 L1781.4,545.2 L1782.2,546.1 L1782.9,542.8 L1783.7,545.0 L1784.5,544.4 L1785.3,547.1 L1786.1,546.8 L1786.9,549.3 L1787.7,545.8 L1788.5,545.0 L1789.4,541.7 L1790.2,541.0 L1791.0,537.9 L1791.8,537.9 L1792.6,536.4 L1793.4,536.4 L1794.2,534.7 L1795.0,535.2 L1795.8,534.7 L1796.6,537.9 L1797.4,538.2 L1798.2,540.6 L1799.0,540.5 L1799.8,543.4 L1800.7,538.4 L1801.5,540.0 L1802.3,534.4 L1803.1,537.0 L1804.0,534.7 L1804.8,534.9 L1805.6,533.8 L1806.4,536.8 L1807.2,535.9 L1808.0,537.8 L1808.8,536.0 L1809.6,537.4 L1810.4,536.4 L1811.2,539.2 L1812.0,534.1 L1812.8,536.5 L1813.6,534.0 L1814.4,534.6 L1815.2,532.3 L1815.9,533.0 L1816.7,530.3 L1817.5,530.7 L1818.3,526.3 L1819.1,530.1 L1819.9,528.6 L1820.7,529.5 L1821.5,527.9 L1822.3,529.1 L1823.1,530.6 L1823.9,535.7 L1824.7,532.5 L1825.5,532.3 L1826.3,528.6 L1827.1,528.8 L1827.9,528.5 L1828.7,531.0 L1829.5,531.4 L1830.3,534.0 L1831.1,527.9 L1831.9,529.9 L1832.7,525.9 L1833.5,525.6 L1834.3,524.3 L1835.1,525.8 L1835.9,525.3 L1836.7,526.6 L1837.5,525.8 L1838.3,527.4 L1839.1,519.7 L1839.9,518.3 L1840.7,519.4 L1841.4,523.6 L1842.2,521.9 L1843.0,523.7 L1843.8,522.0 L1844.6,523.7 L1845.4,522.4 L1846.2,523.7 L1847.0,519.7 L1847.8,521.5 L1848.6,515.1 L1849.4,516.2 L1850.2,515.2 L1851.0,518.2 L1851.8,515.4 L1852.6,518.2 L1853.4,515.1 L1854.2,516.7 L1855.0,514.5 L1855.8,515.7 L1856.6,514.6 L1857.4,515.4 L1858.2,514.0 L1859.0,514.9 L1859.8,513.0 L1860.6,513.4 L1861.4,511.5 L1862.2,512.6 L1863.0,510.3 L1863.8,511.8 L1864.6,505.2 L1865.4,506.8 L1866.2,504.9 L1866.9,506.3 L1867.7,504.5 L1868.5,505.4 L1869.3,503.9 L1870.1,504.8 L1870.9,503.3 L1871.7,504.3 L1872.5,502.5 L1873.3,504.0 L1874.2,494.7 L1875.0,510.8 L1875.8,496.1 L1876.5,505.6 L1877.2,486.0 L1878.0,503.1 L1878.8,491.4 L1879.5,501.9 L1880.2,496.3 L1881.0,500.6 L1882.0,495.6 L1883.0,499.5 L1883.8,490.8 L1884.5,491.1 L1885.3,489.2 L1886.1,491.0 L1886.9,489.0 L1887.7,490.3 L1887.5,505.4" fill="none" stroke="#064006" stroke-width="3.8" stroke-linejoin="round" stroke-linecap="round"/>
<path d="M1639.1,524.3 L1639.6,503.9 L1640.3,503.1 L1641.1,504.9 L1642.1,505.2 L1643.1,508.1 L1643.8,507.1 L1644.6,509.6 L1645.3,508.9 L1646.1,510.6 L1647.1,509.2 L1648.1,513.6 L1649.1,514.7 L1650.1,518.7 L1650.9,517.9 L1651.7,519.6 L1652.5,518.7 L1653.3,522.1 L1654.1,519.5 L1654.9,522.3 L1655.7,522.1 L1656.6,524.7 L1657.4,524.5 L1658.2,527.3 L1659.0,526.7 L1659.7,529.5 L1660.5,526.8 L1661.2,532.3 L1662.2,533.6 L1663.2,540.2 L1664.0,535.4 L1664.8,535.7 L1665.6,533.9 L1666.4,533.7 L1667.2,531.4 L1668.0,534.4 L1668.8,532.0 L1669.6,533.4 L1670.4,532.2 L1671.2,533.9 L1672.0,533.8 L1672.8,535.7 L1673.5,535.4 L1674.3,538.3 L1675.3,540.3 L1676.3,546.0 L1677.3,540.5 L1678.3,537.7 L1679.1,536.0 L1679.9,537.9 L1680.7,536.2 L1681.5,537.2 L1682.3,535.9 L1683.1,537.3 L1683.9,536.2 L1684.7,538.0 L1685.5,537.0 L1686.3,541.3 L1687.1,537.1 L1687.8,538.4 L1688.6,535.8 L1689.4,536.8 L1690.2,537.7 L1691.0,541.0 L1691.8,541.9 L1692.6,545.0 L1693.4,545.4 L1694.2,545.7 L1694.9,543.0 L1695.7,543.5 L1696.4,540.4 L1697.2,542.8 L1698.0,541.6 L1698.8,543.9 L1699.6,542.8 L1700.4,545.4 L1701.4,539.8 L1702.4,538.4 L1703.2,538.7 L1704.0,542.1 L1704.9,543.2 L1705.7,546.8 L1706.5,547.5 L1707.3,548.1 L1708.1,546.3 L1708.9,549.0 L1709.7,543.4 L1710.5,545.3 L1711.2,545.7 L1712.0,549.3 L1712.8,549.8 L1713.5,553.4 L1714.3,549.8 L1715.1,549.8 L1715.9,546.8 L1716.7,546.8 L1717.5,543.7 L1718.3,545.5 L1719.1,544.4 L1719.9,546.2 L1720.7,544.9 L1721.5,546.8 L1722.3,547.2 L1723.1,549.5 L1724.0,547.5 L1724.8,552.2 L1725.6,551.8 L1726.3,551.8 L1727.1,548.9 L1727.8,549.0 L1728.6,545.8 L1729.3,548.9 L1730.1,548.8 L1730.8,551.8 L1731.6,551.6 L1732.4,550.2 L1733.2,545.3 L1734.0,544.1 L1734.8,539.8 L1735.6,538.1 L1736.6,550.4 L1737.4,551.0 L1738.2,548.3 L1739.1,548.2 L1739.9,544.7 L1740.7,545.4 L1741.5,544.8 L1742.3,546.9 L1743.1,546.0 L1743.9,548.1 L1744.7,547.7 L1745.5,548.9 L1746.2,544.0 L1747.0,543.7 L1747.7,540.7 L1748.5,543.8 L1749.3,544.1 L1750.1,547.1 L1750.9,546.9 L1751.7,549.9 L1752.5,547.2 L1753.3,553.2 L1754.2,551.5 L1755.0,553.8 L1755.8,553.6 L1756.6,553.0 L1757.4,549.9 L1758.2,548.9 L1759.0,545.6 L1759.8,544.9 L1760.6,546.0 L1761.5,549.0 L1762.3,550.0 L1763.1,553.1 L1764.0,553.8 L1764.8,557.2 L1765.5,552.7 L1766.3,553.3 L1767.0,546.4 L1767.8,545.0 L1768.5,543.0 L1769.3,543.5 L1770.0,541.2 L1770.8,541.7 L1771.7,539.8 L1772.5,540.8 L1773.3,538.7 L1774.2,539.2 L1775.1,537.1 L1775.9,538.4 L1776.7,539.5 L1777.5,543.9 L1778.3,544.9 L1779.1,549.6 L1779.9,550.8 L1780.7,549.8 L1781.4,545.2 L1782.2,546.1 L1782.9,542.8 L1783.7,545.0 L1784.5,544.4 L1785.3,547.1 L1786.1,546.8 L1786.9,549.3 L1787.7,545.8 L1788.5,545.0 L1789.4,541.7 L1790.2,541.0 L1791.0,537.9 L1791.8,537.9 L1792.6,536.4 L1793.4,536.4 L1794.2,534.7 L1795.0,535.2 L1795.8,534.7 L1796.6,537.9 L1797.4,538.2 L1798.2,540.6 L1799.0,540.5 L1799.8,543.4 L1800.7,538.4 L1801.5,540.0 L1802.3,534.4 L1803.1,537.0 L1804.0,534.7 L1804.8,534.9 L1805.6,533.8 L1806.4,536.8 L1807.2,535.9 L1808.0,537.8 L1808.8,536.0 L1809.6,537.4 L1810.4,536.4 L1811.2,539.2 L1812.0,534.1 L1812.8,536.5 L1813.6,534.0 L1814.4,534.6 L1815.2,532.3 L1815.9,533.0 L1816.7,530.3 L1817.5,530.7 L1818.3,526.3 L1819.1,530.1 L1819.9,528.6 L1820.7,529.5 L1821.5,527.9 L1822.3,529.1 L1823.1,530.6 L1823.9,535.7 L1824.7,532.5 L1825.5,532.3 L1826.3,528.6 L1827.1,528.8 L1827.9,528.5 L1828.7,531.0 L1829.5,531.4 L1830.3,534.0 L1831.1,527.9 L1831.9,529.9 L1832.7,525.9 L1833.5,525.6 L1834.3,524.3 L1835.1,525.8 L1835.9,525.3 L1836.7,526.6 L1837.5,525.8 L1838.3,527.4 L1839.1,519.7 L1839.9,518.3 L1840.7,519.4 L1841.4,523.6 L1842.2,521.9 L1843.0,523.7 L1843.8,522.0 L1844.6,523.7 L1845.4,522.4 L1846.2,523.7 L1847.0,519.7 L1847.8,521.5 L1848.6,515.1 L1849.4,516.2 L1850.2,515.2 L1851.0,518.2 L1851.8,515.4 L1852.6,518.2 L1853.4,515.1 L1854.2,516.7 L1855.0,514.5 L1855.8,515.7 L1856.6,514.6 L1857.4,515.4 L1858.2,514.0 L1859.0,514.9 L1859.8,513.0 L1860.6,513.4 L1861.4,511.5 L1862.2,512.6 L1863.0,510.3 L1863.8,511.8 L1864.6,505.2 L1865.4,506.8 L1866.2,504.9 L1866.9,506.3 L1867.7,504.5 L1868.5,505.4 L1869.3,503.9 L1870.1,504.8 L1870.9,503.3 L1871.7,504.3 L1872.5,502.5 L1873.3,504.0 L1874.2,494.7 L1875.0,510.8 L1875.8,496.1 L1876.5,505.6 L1877.2,486.0 L1878.0,503.1 L1878.8,491.4 L1879.5,501.9 L1880.2,496.3 L1881.0,500.6 L1882.0,495.6 L1883.0,499.5 L1883.8,490.8 L1884.5,491.1 L1885.3,489.2 L1886.1,491.0 L1886.9,489.0 L1887.7,490.3 L1887.5,505.4" fill="none" stroke="#02a002" stroke-width="1.9" stroke-linejoin="round" stroke-linecap="round"/>
<rect x="1508.6" y="397.9" width="468.7" height="233.8" fill="none" stroke="#000" stroke-width="1.8"/>
<line x1="1497.6" y1="426.9" x2="1508.6" y2="426.9" stroke="#000" stroke-width="1.8"/>
<text x="1491.1" y="432.9" class="s e">40</text>
<line x1="1497.6" y1="477.2" x2="1508.6" y2="477.2" stroke="#000" stroke-width="1.8"/>
<text x="1491.1" y="483.2" class="s e">20</text>
<line x1="1497.6" y1="527.5" x2="1508.6" y2="527.5" stroke="#000" stroke-width="1.8"/>
<text x="1491.1" y="533.5" class="s e">0</text>
<line x1="1497.6" y1="577.7" x2="1508.6" y2="577.7" stroke="#000" stroke-width="1.8"/>
<text x="1491.1" y="583.7" class="s e">-20</text>
<line x1="1497.6" y1="628.0" x2="1508.6" y2="628.0" stroke="#000" stroke-width="1.8"/>
<text x="1491.1" y="634.0" class="s e">-40</text>
<line x1="1553.7" y1="631.7" x2="1553.7" y2="637.7" stroke="#000" stroke-width="1.8"/>
<line x1="1609.6" y1="631.7" x2="1609.6" y2="642.7" stroke="#000" stroke-width="1.8"/>
<text x="1609.6" y="664.7" class="s c">400</text>
<line x1="1665.5" y1="631.7" x2="1665.5" y2="637.7" stroke="#000" stroke-width="1.8"/>
<line x1="1721.4" y1="631.7" x2="1721.4" y2="642.7" stroke="#000" stroke-width="1.8"/>
<text x="1721.4" y="664.7" class="s c">800</text>
<line x1="1777.3" y1="631.7" x2="1777.3" y2="637.7" stroke="#000" stroke-width="1.8"/>
<line x1="1833.2" y1="631.7" x2="1833.2" y2="642.7" stroke="#000" stroke-width="1.8"/>
<text x="1833.2" y="664.7" class="s c">1200</text>
<line x1="1889.1" y1="631.7" x2="1889.1" y2="637.7" stroke="#000" stroke-width="1.8"/>
<line x1="1945.0" y1="631.7" x2="1945.0" y2="642.7" stroke="#000" stroke-width="1.8"/>
<text x="1945.0" y="664.7" class="s c">1600</text>
<text x="1662.6" y="684.5" class="s">Trace length (µm)</text>
<text transform="translate(1445.2,514.2) rotate(-90)" class="s c">Height profile (µm)</text>
<line x1="1615.2" y1="494.9" x2="1651.6" y2="494.9" stroke="#0b1838" stroke-width="3.6"/>
<line x1="1613.9" y1="560.0" x2="1821.5" y2="560.0" stroke="#0b1838" stroke-width="3.6"/>
<line x1="1622.6" y1="506.0" x2="1622.6" y2="549.6" stroke="#0b1838" stroke-width="2.9"/>
<path d="M1622.6,498.0 L1617.5,513.5 L1627.7,513.5 Z" fill="#15305a"/>
<path d="M1622.6,557.6 L1617.5,542.1 L1627.7,542.1 Z" fill="#15305a"/>
<text x="1545.5" y="542.1" class="m">26 µm</text>
</g>
<g>
<path d="M349.1,769.1 L350.0,721.7 L351.0,743.2 L352.0,771.5 L352.9,740.3 L353.9,714.7 L354.6,713.5 L355.4,717.4 L356.1,715.8 L356.8,721.1 L357.5,717.2 L358.2,718.5 L359.0,716.7 L359.7,718.2 L360.4,721.1 L361.2,731.9 L361.9,737.9 L362.7,746.6 L363.6,732.1 L364.6,722.1 L365.4,717.7 L366.2,725.2 L366.9,723.9 L367.7,727.4 L368.5,727.1 L369.2,730.9 L369.9,729.1 L370.7,731.9 L371.4,731.1 L372.4,743.4 L373.2,742.8 L374.0,745.7 L374.7,745.2 L375.5,749.2 L376.3,748.6 L377.1,753.4 L377.8,751.1 L378.6,754.5 L379.3,752.9 L380.1,756.1 L380.9,755.6 L381.7,758.8 L382.6,757.2 L383.4,760.4 L384.2,758.8 L385.0,763.9 L385.7,759.3 L386.4,766.2 L387.2,766.1 L387.9,769.9 L388.7,768.6 L389.5,771.2 L390.4,769.1 L391.2,770.9 L392.0,769.3 L392.8,771.7 L393.8,780.2 L394.7,791.3 L395.4,786.7 L396.1,786.6 L396.9,781.9 L397.6,785.3 L398.4,781.6 L399.3,784.4 L400.1,784.3 L400.9,787.8 L401.7,786.9 L402.6,789.7 L403.4,789.1 L404.2,794.7 L405.1,789.9 L405.9,792.7 L406.8,791.6 L407.6,794.4 L408.5,792.4 L409.3,795.8 L410.1,794.4 L410.8,797.6 L411.6,796.5 L412.3,800.1 L413.1,799.6 L413.9,805.4 L414.6,804.1 L415.4,813.1 L416.1,814.4 L416.9,817.3 L417.7,814.8 L418.5,820.8 L419.3,815.5 L420.1,817.9 L420.9,816.3 L421.7,818.8 L422.6,814.9 L423.4,819.9 L424.2,817.9 L425.0,820.4 L425.9,818.2 L426.7,820.8 L427.5,820.1 L428.4,824.0 L429.2,823.7 L430.1,827.3 L430.9,827.2 L431.8,830.6 L432.6,830.3 L433.4,831.1 L434.3,828.8 L435.1,830.0 L435.9,826.8 L436.7,828.6 L437.6,825.3 L438.4,826.3 L439.2,825.7 L440.1,830.0 L440.9,829.4 L441.7,832.9 L442.5,832.4 L443.4,836.1 L444.2,835.6 L444.9,840.7 L445.6,840.6 L446.4,844.8 L447.1,846.2 L447.9,846.8 L448.7,843.2 L449.6,844.5 L450.4,842.2 L451.2,843.2 L452.0,840.0 L452.8,842.7 L453.6,841.0 L454.3,844.7 L455.1,843.1 L455.9,846.4 L456.7,845.3 L457.6,848.5 L458.4,847.3 L459.2,850.7 L460.0,849.7 L460.9,852.4 L461.7,851.1 L462.5,853.8 L463.4,849.8 L464.2,856.7 L465.0,852.4 L465.8,855.2 L466.7,850.2 L467.5,855.7 L468.3,854.6 L469.1,857.6 L469.8,855.7 L470.6,860.8 L471.4,857.2 L472.2,861.8 L473.0,862.3 L473.7,866.3 L474.5,866.2 L475.3,871.6 L476.1,866.6 L476.9,867.3 L477.6,863.7 L478.4,863.6 L479.2,859.0 L480.0,864.2 L480.9,860.7 L481.7,863.3 L482.5,861.4 L483.3,864.5 L484.2,862.9 L485.0,865.2 L485.8,864.0 L486.6,867.6 L487.3,864.8 L488.1,866.8 L488.9,865.4 L489.7,868.8 L490.5,868.6 L491.2,871.9 L492.0,870.9 L492.8,875.4 L493.6,871.9 L494.3,872.7 L495.1,869.8 L495.8,870.2 L496.6,866.9 L497.4,869.5 L498.3,867.8 L499.1,870.7 L500.0,869.4 L500.8,871.5 L501.7,870.2 L502.5,872.9 L503.3,870.9 L504.2,874.0 L505.0,869.9 L505.8,874.6 L506.6,872.1 L507.5,874.6 L508.3,873.2 L509.1,875.2 L510.0,872.7 L510.8,875.1 L511.6,872.8 L512.4,875.0 L513.3,872.9 L514.1,874.5 L514.9,873.5 L515.8,876.8 L516.6,875.3 L517.4,878.2 L518.2,877.0 L519.1,879.8 L519.9,878.2 L520.7,880.5 L521.6,874.0 L522.4,879.7 L523.3,876.8 L524.1,877.7 L525.0,871.9 L525.8,876.9 L526.6,874.4 L527.5,876.8 L528.3,873.6 L529.1,875.3 L529.9,870.6 L530.8,874.8 L531.6,873.1 L532.4,877.8 L533.2,877.1 L533.9,881.9 L534.7,882.5 L535.5,887.0 L536.3,880.4 L537.2,885.6 L538.0,882.5 L538.8,884.6 L539.6,881.5 L540.5,883.0 L541.3,880.9 L542.1,883.7 L542.9,881.6 L543.6,884.2 L544.4,882.5 L545.2,885.7 L546.0,884.7 L546.8,887.1 L547.5,885.5 L548.3,887.8 L549.1,886.3 L550.0,886.1 L550.8,883.1 L551.6,885.2 L552.4,883.1 L553.2,884.3 L554.0,882.4 L554.8,883.8 L555.6,881.3 L556.4,882.5 L557.2,881.5 L558.0,883.0 L558.8,881.3 L559.5,883.8 L560.3,881.4 L561.1,884.4 L561.9,882.0 L562.7,884.4 L563.5,881.7 L564.3,883.6 L565.1,881.7 L565.9,883.3 L566.7,881.5 L567.5,882.9 L568.3,881.3 L569.1,882.9 L569.9,880.0 L570.7,880.7 L571.5,875.2 L572.3,879.8 L573.1,877.1 L573.9,877.9 L574.7,875.6 L575.5,876.7 L576.3,873.5 L577.1,880.7 L577.9,880.3 L578.7,884.0 L579.5,879.8 L580.3,882.8 L581.1,881.0 L581.9,881.8 L582.7,879.4 L583.5,881.2 L584.3,878.6 L585.1,879.1 L585.9,877.6 L586.7,879.2 L587.5,873.2 L588.2,878.0 L589.0,875.7 L589.8,876.8 L590.6,874.8 L591.4,876.5 L592.2,876.1 L593.0,880.1 L593.8,879.9 L594.6,884.6 L595.4,881.2 L596.2,881.8 L597.0,876.6 L597.8,880.1 L598.6,877.0 L599.4,877.5 L600.2,874.1 L601.0,874.7 L601.8,871.5 L602.6,873.0 L603.4,867.2 L604.2,870.5 L605.0,867.7 L605.8,868.7 L606.6,867.2 L607.4,870.7 L608.2,870.1 L609.0,872.3 L609.8,872.3 L610.6,874.8 L611.4,871.4 L612.2,871.6 L612.9,868.0 L613.7,869.1 L614.5,867.1 L615.3,870.1 L616.1,867.9 L616.9,870.6 L617.7,869.4 L618.5,871.2 L619.3,866.6 L620.1,866.3 L620.9,861.9 L621.7,861.1 L622.5,855.8 L623.3,855.4 L624.1,851.0 L624.9,855.8 L625.7,853.0 L626.5,854.5 L627.3,853.1 L628.1,856.8 L628.9,852.7 L629.7,853.6 L630.5,850.2 L631.3,853.3 L632.1,851.7 L632.9,853.0 L633.7,851.1 L634.5,852.1 L635.3,854.6 L636.0,859.7 L636.8,860.9 L637.6,866.5 L638.4,862.9 L639.2,863.0 L640.0,859.6 L640.8,859.2 L641.6,855.8 L642.4,859.0 L643.2,851.8 L644.0,851.6 L644.8,848.1 L645.6,848.2 L646.4,844.0 L647.2,845.2 L648.0,843.1 L648.8,846.5 L649.6,845.6 L650.4,849.5 L651.2,847.5 L652.0,850.6 L652.8,848.0 L653.6,848.5 L654.4,845.0 L655.2,845.3 L656.0,842.7 L656.8,843.2 L657.6,840.4 L658.4,841.4 L659.2,837.8 L660.0,839.0 L660.8,835.5 L661.6,836.7 L662.4,833.3 L663.2,834.0 L664.0,829.3 L664.7,830.7 L665.5,826.4 L666.3,827.6 L667.1,825.4 L667.9,829.0 L668.7,827.6 L669.5,830.6 L670.3,828.6 L671.1,831.5 L671.9,832.5 L672.7,837.3 L673.5,838.5 L674.3,842.7 L675.1,837.2 L675.9,834.9 L676.7,826.6 L677.5,830.6 L678.3,819.5 L679.1,823.1 L679.9,816.4 L680.7,819.8 L681.5,816.0 L682.3,816.5 L683.1,812.0 L683.9,812.9 L684.6,810.4 L685.4,811.0 L686.2,807.1 L687.0,807.6 L687.8,804.5 L688.6,804.4 L689.4,801.1 L690.2,801.8 L691.0,803.5 L691.8,810.6 L692.6,812.5 L693.4,819.0 L694.2,821.6 L695.0,815.1 L695.8,803.3 L696.6,796.8 L697.4,792.3 L698.2,793.6 L699.0,788.9 L699.8,794.0 L700.6,788.5 L701.4,793.7 L702.2,784.9 L703.0,791.3 L703.8,789.0 L704.5,793.4 L705.2,788.6 L706.0,796.7 L706.9,785.5 L707.7,794.0 L708.5,787.7 L709.4,795.1 L710.3,791.4 L711.1,795.3 L712.0,792.4 L712.7,793.1 L713.5,791.3 L714.2,792.7 L715.0,790.0 L715.7,791.7 L716.5,785.2 L717.3,782.7 L718.1,775.9 L718.9,784.1 L719.7,785.7 L720.5,794.7 L721.3,780.8 L722.1,771.9 L722.9,772.7 L723.7,777.9 L724.5,780.3 L725.3,785.2 L726.1,779.3 L726.9,776.8 L727.7,770.2 L728.5,768.2 L729.3,765.1 L730.1,767.1 L730.9,764.2 L731.7,765.1 L732.5,761.6 L733.3,763.8 L734.1,760.9 L734.9,762.6 L735.6,760.3 L736.4,762.3 L737.2,759.9 L738.0,761.8 L738.8,760.7 L739.6,762.9 L740.4,760.7 L741.2,763.8 L742.0,762.3 L742.8,767.1 L743.6,761.6 L744.4,768.4 L745.2,768.5 L746.0,772.8 L746.8,767.8 L747.6,767.5 L748.4,762.4 L749.2,762.1 L750.0,763.5 L750.8,768.8 L751.6,770.1 L752.4,776.2 L753.2,768.5 L754.0,768.9 L754.8,763.6 L755.6,761.6 L756.4,757.5 L757.2,761.4 L758.0,759.9 L758.8,761.8 L759.6,759.3 L760.4,761.3 L761.2,759.3 L762.0,762.2 L762.8,756.8 L763.6,766.0 L764.4,761.0 L765.1,764.2 L765.9,762.5 L766.7,765.4 L767.5,763.2 L768.3,766.4 L769.1,764.7 L769.9,767.1 L770.7,765.1 L771.5,767.9 L772.3,764.6 L773.1,765.9 L773.9,760.2 L774.7,763.3 L775.5,760.7" fill="none" stroke="#d88a00" stroke-width="3.9" stroke-linejoin="round" stroke-linecap="round"/>
<path d="M349.1,769.1 L350.0,721.7 L351.0,743.2 L352.0,771.5 L352.9,740.3 L353.9,714.7 L354.6,713.5 L355.4,717.4 L356.1,715.8 L356.8,721.1 L357.5,717.2 L358.2,718.5 L359.0,716.7 L359.7,718.2 L360.4,721.1 L361.2,731.9 L361.9,737.9 L362.7,746.6 L363.6,732.1 L364.6,722.1 L365.4,717.7 L366.2,725.2 L366.9,723.9 L367.7,727.4 L368.5,727.1 L369.2,730.9 L369.9,729.1 L370.7,731.9 L371.4,731.1 L372.4,743.4 L373.2,742.8 L374.0,745.7 L374.7,745.2 L375.5,749.2 L376.3,748.6 L377.1,753.4 L377.8,751.1 L378.6,754.5 L379.3,752.9 L380.1,756.1 L380.9,755.6 L381.7,758.8 L382.6,757.2 L383.4,760.4 L384.2,758.8 L385.0,763.9 L385.7,759.3 L386.4,766.2 L387.2,766.1 L387.9,769.9 L388.7,768.6 L389.5,771.2 L390.4,769.1 L391.2,770.9 L392.0,769.3 L392.8,771.7 L393.8,780.2 L394.7,791.3 L395.4,786.7 L396.1,786.6 L396.9,781.9 L397.6,785.3 L398.4,781.6 L399.3,784.4 L400.1,784.3 L400.9,787.8 L401.7,786.9 L402.6,789.7 L403.4,789.1 L404.2,794.7 L405.1,789.9 L405.9,792.7 L406.8,791.6 L407.6,794.4 L408.5,792.4 L409.3,795.8 L410.1,794.4 L410.8,797.6 L411.6,796.5 L412.3,800.1 L413.1,799.6 L413.9,805.4 L414.6,804.1 L415.4,813.1 L416.1,814.4 L416.9,817.3 L417.7,814.8 L418.5,820.8 L419.3,815.5 L420.1,817.9 L420.9,816.3 L421.7,818.8 L422.6,814.9 L423.4,819.9 L424.2,817.9 L425.0,820.4 L425.9,818.2 L426.7,820.8 L427.5,820.1 L428.4,824.0 L429.2,823.7 L430.1,827.3 L430.9,827.2 L431.8,830.6 L432.6,830.3 L433.4,831.1 L434.3,828.8 L435.1,830.0 L435.9,826.8 L436.7,828.6 L437.6,825.3 L438.4,826.3 L439.2,825.7 L440.1,830.0 L440.9,829.4 L441.7,832.9 L442.5,832.4 L443.4,836.1 L444.2,835.6 L444.9,840.7 L445.6,840.6 L446.4,844.8 L447.1,846.2 L447.9,846.8 L448.7,843.2 L449.6,844.5 L450.4,842.2 L451.2,843.2 L452.0,840.0 L452.8,842.7 L453.6,841.0 L454.3,844.7 L455.1,843.1 L455.9,846.4 L456.7,845.3 L457.6,848.5 L458.4,847.3 L459.2,850.7 L460.0,849.7 L460.9,852.4 L461.7,851.1 L462.5,853.8 L463.4,849.8 L464.2,856.7 L465.0,852.4 L465.8,855.2 L466.7,850.2 L467.5,855.7 L468.3,854.6 L469.1,857.6 L469.8,855.7 L470.6,860.8 L471.4,857.2 L472.2,861.8 L473.0,862.3 L473.7,866.3 L474.5,866.2 L475.3,871.6 L476.1,866.6 L476.9,867.3 L477.6,863.7 L478.4,863.6 L479.2,859.0 L480.0,864.2 L480.9,860.7 L481.7,863.3 L482.5,861.4 L483.3,864.5 L484.2,862.9 L485.0,865.2 L485.8,864.0 L486.6,867.6 L487.3,864.8 L488.1,866.8 L488.9,865.4 L489.7,868.8 L490.5,868.6 L491.2,871.9 L492.0,870.9 L492.8,875.4 L493.6,871.9 L494.3,872.7 L495.1,869.8 L495.8,870.2 L496.6,866.9 L497.4,869.5 L498.3,867.8 L499.1,870.7 L500.0,869.4 L500.8,871.5 L501.7,870.2 L502.5,872.9 L503.3,870.9 L504.2,874.0 L505.0,869.9 L505.8,874.6 L506.6,872.1 L507.5,874.6 L508.3,873.2 L509.1,875.2 L510.0,872.7 L510.8,875.1 L511.6,872.8 L512.4,875.0 L513.3,872.9 L514.1,874.5 L514.9,873.5 L515.8,876.8 L516.6,875.3 L517.4,878.2 L518.2,877.0 L519.1,879.8 L519.9,878.2 L520.7,880.5 L521.6,874.0 L522.4,879.7 L523.3,876.8 L524.1,877.7 L525.0,871.9 L525.8,876.9 L526.6,874.4 L527.5,876.8 L528.3,873.6 L529.1,875.3 L529.9,870.6 L530.8,874.8 L531.6,873.1 L532.4,877.8 L533.2,877.1 L533.9,881.9 L534.7,882.5 L535.5,887.0 L536.3,880.4 L537.2,885.6 L538.0,882.5 L538.8,884.6 L539.6,881.5 L540.5,883.0 L541.3,880.9 L542.1,883.7 L542.9,881.6 L543.6,884.2 L544.4,882.5 L545.2,885.7 L546.0,884.7 L546.8,887.1 L547.5,885.5 L548.3,887.8 L549.1,886.3 L550.0,886.1 L550.8,883.1 L551.6,885.2 L552.4,883.1 L553.2,884.3 L554.0,882.4 L554.8,883.8 L555.6,881.3 L556.4,882.5 L557.2,881.5 L558.0,883.0 L558.8,881.3 L559.5,883.8 L560.3,881.4 L561.1,884.4 L561.9,882.0 L562.7,884.4 L563.5,881.7 L564.3,883.6 L565.1,881.7 L565.9,883.3 L566.7,881.5 L567.5,882.9 L568.3,881.3 L569.1,882.9 L569.9,880.0 L570.7,880.7 L571.5,875.2 L572.3,879.8 L573.1,877.1 L573.9,877.9 L574.7,875.6 L575.5,876.7 L576.3,873.5 L577.1,880.7 L577.9,880.3 L578.7,884.0 L579.5,879.8 L580.3,882.8 L581.1,881.0 L581.9,881.8 L582.7,879.4 L583.5,881.2 L584.3,878.6 L585.1,879.1 L585.9,877.6 L586.7,879.2 L587.5,873.2 L588.2,878.0 L589.0,875.7 L589.8,876.8 L590.6,874.8 L591.4,876.5 L592.2,876.1 L593.0,880.1 L593.8,879.9 L594.6,884.6 L595.4,881.2 L596.2,881.8 L597.0,876.6 L597.8,880.1 L598.6,877.0 L599.4,877.5 L600.2,874.1 L601.0,874.7 L601.8,871.5 L602.6,873.0 L603.4,867.2 L604.2,870.5 L605.0,867.7 L605.8,868.7 L606.6,867.2 L607.4,870.7 L608.2,870.1 L609.0,872.3 L609.8,872.3 L610.6,874.8 L611.4,871.4 L612.2,871.6 L612.9,868.0 L613.7,869.1 L614.5,867.1 L615.3,870.1 L616.1,867.9 L616.9,870.6 L617.7,869.4 L618.5,871.2 L619.3,866.6 L620.1,866.3 L620.9,861.9 L621.7,861.1 L622.5,855.8 L623.3,855.4 L624.1,851.0 L624.9,855.8 L625.7,853.0 L626.5,854.5 L627.3,853.1 L628.1,856.8 L628.9,852.7 L629.7,853.6 L630.5,850.2 L631.3,853.3 L632.1,851.7 L632.9,853.0 L633.7,851.1 L634.5,852.1 L635.3,854.6 L636.0,859.7 L636.8,860.9 L637.6,866.5 L638.4,862.9 L639.2,863.0 L640.0,859.6 L640.8,859.2 L641.6,855.8 L642.4,859.0 L643.2,851.8 L644.0,851.6 L644.8,848.1 L645.6,848.2 L646.4,844.0 L647.2,845.2 L648.0,843.1 L648.8,846.5 L649.6,845.6 L650.4,849.5 L651.2,847.5 L652.0,850.6 L652.8,848.0 L653.6,848.5 L654.4,845.0 L655.2,845.3 L656.0,842.7 L656.8,843.2 L657.6,840.4 L658.4,841.4 L659.2,837.8 L660.0,839.0 L660.8,835.5 L661.6,836.7 L662.4,833.3 L663.2,834.0 L664.0,829.3 L664.7,830.7 L665.5,826.4 L666.3,827.6 L667.1,825.4 L667.9,829.0 L668.7,827.6 L669.5,830.6 L670.3,828.6 L671.1,831.5 L671.9,832.5 L672.7,837.3 L673.5,838.5 L674.3,842.7 L675.1,837.2 L675.9,834.9 L676.7,826.6 L677.5,830.6 L678.3,819.5 L679.1,823.1 L679.9,816.4 L680.7,819.8 L681.5,816.0 L682.3,816.5 L683.1,812.0 L683.9,812.9 L684.6,810.4 L685.4,811.0 L686.2,807.1 L687.0,807.6 L687.8,804.5 L688.6,804.4 L689.4,801.1 L690.2,801.8 L691.0,803.5 L691.8,810.6 L692.6,812.5 L693.4,819.0 L694.2,821.6 L695.0,815.1 L695.8,803.3 L696.6,796.8 L697.4,792.3 L698.2,793.6 L699.0,788.9 L699.8,794.0 L700.6,788.5 L701.4,793.7 L702.2,784.9 L703.0,791.3 L703.8,789.0 L704.5,793.4 L705.2,788.6 L706.0,796.7 L706.9,785.5 L707.7,794.0 L708.5,787.7 L709.4,795.1 L710.3,791.4 L711.1,795.3 L712.0,792.4 L712.7,793.1 L713.5,791.3 L714.2,792.7 L715.0,790.0 L715.7,791.7 L716.5,785.2 L717.3,782.7 L718.1,775.9 L718.9,784.1 L719.7,785.7 L720.5,794.7 L721.3,780.8 L722.1,771.9 L722.9,772.7 L723.7,777.9 L724.5,780.3 L725.3,785.2 L726.1,779.3 L726.9,776.8 L727.7,770.2 L728.5,768.2 L729.3,765.1 L730.1,767.1 L730.9,764.2 L731.7,765.1 L732.5,761.6 L733.3,763.8 L734.1,760.9 L734.9,762.6 L735.6,760.3 L736.4,762.3 L737.2,759.9 L738.0,761.8 L738.8,760.7 L739.6,762.9 L740.4,760.7 L741.2,763.8 L742.0,762.3 L742.8,767.1 L743.6,761.6 L744.4,768.4 L745.2,768.5 L746.0,772.8 L746.8,767.8 L747.6,767.5 L748.4,762.4 L749.2,762.1 L750.0,763.5 L750.8,768.8 L751.6,770.1 L752.4,776.2 L753.2,768.5 L754.0,768.9 L754.8,763.6 L755.6,761.6 L756.4,757.5 L757.2,761.4 L758.0,759.9 L758.8,761.8 L759.6,759.3 L760.4,761.3 L761.2,759.3 L762.0,762.2 L762.8,756.8 L763.6,766.0 L764.4,761.0 L765.1,764.2 L765.9,762.5 L766.7,765.4 L767.5,763.2 L768.3,766.4 L769.1,764.7 L769.9,767.1 L770.7,765.1 L771.5,767.9 L772.3,764.6 L773.1,765.9 L773.9,760.2 L774.7,763.3 L775.5,760.7" fill="none" stroke="#fbab0c" stroke-width="2.5" stroke-linejoin="round" stroke-linecap="round"/>
<rect x="318.0" y="703.9" width="468.0" height="234.1" fill="none" stroke="#000" stroke-width="1.8"/>
<line x1="307.0" y1="733.2" x2="318.0" y2="733.2" stroke="#000" stroke-width="1.8"/>
<text x="300.5" y="739.2" class="s e">40</text>
<line x1="307.0" y1="783.6" x2="318.0" y2="783.6" stroke="#000" stroke-width="1.8"/>
<text x="300.5" y="789.6" class="s e">20</text>
<line x1="307.0" y1="833.9" x2="318.0" y2="833.9" stroke="#000" stroke-width="1.8"/>
<text x="300.5" y="839.9" class="s e">0</text>
<line x1="307.0" y1="884.3" x2="318.0" y2="884.3" stroke="#000" stroke-width="1.8"/>
<text x="300.5" y="890.3" class="s e">-20</text>
<line x1="307.0" y1="934.6" x2="318.0" y2="934.6" stroke="#000" stroke-width="1.8"/>
<text x="300.5" y="940.6" class="s e">-40</text>
<line x1="364.2" y1="938.0" x2="364.2" y2="944.0" stroke="#000" stroke-width="1.8"/>
<line x1="419.9" y1="938.0" x2="419.9" y2="949.0" stroke="#000" stroke-width="1.8"/>
<text x="419.9" y="971.2" class="s c">400</text>
<line x1="475.6" y1="938.0" x2="475.6" y2="944.0" stroke="#000" stroke-width="1.8"/>
<line x1="531.4" y1="938.0" x2="531.4" y2="949.0" stroke="#000" stroke-width="1.8"/>
<text x="531.4" y="971.2" class="s c">800</text>
<line x1="587.1" y1="938.0" x2="587.1" y2="944.0" stroke="#000" stroke-width="1.8"/>
<line x1="642.8" y1="938.0" x2="642.8" y2="949.0" stroke="#000" stroke-width="1.8"/>
<text x="642.8" y="971.2" class="s c">1200</text>
<line x1="698.6" y1="938.0" x2="698.6" y2="944.0" stroke="#000" stroke-width="1.8"/>
<line x1="754.3" y1="938.0" x2="754.3" y2="949.0" stroke="#000" stroke-width="1.8"/>
<text x="754.3" y="971.2" class="s c">1600</text>
<text x="472.0" y="992.5" class="s">Trace length (µm)</text>
<text transform="translate(271.1,816.0) rotate(-90)" class="s c">Height profile (µm)</text>
<line x1="732.4" y1="755.8" x2="767.9" y2="755.8" stroke="#0b1838" stroke-width="3.6"/>
<line x1="558.8" y1="891.6" x2="765.1" y2="891.6" stroke="#0b1838" stroke-width="3.6"/>
<line x1="761.1" y1="766.9" x2="761.1" y2="880.6" stroke="#0b1838" stroke-width="2.9"/>
<path d="M761.1,758.9 L756.0,774.4 L766.2,774.4 Z" fill="#15305a"/>
<path d="M761.1,888.6 L756.0,873.1 L766.2,873.1 Z" fill="#15305a"/>
<text x="675.7" y="866.9" class="m">51 µm</text>
</g>
<g>
<path d="M994.1,808.2 L994.9,809.3 L995.7,806.8 L996.5,808.6 L997.3,806.0 L998.1,806.8 L998.9,799.5 L999.6,795.4 L1000.4,794.4 L1001.3,797.3 L1002.1,797.3 L1002.9,801.7 L1003.6,801.5 L1004.4,805.6 L1005.1,806.3 L1005.9,809.1 L1006.6,807.3 L1007.4,810.2 L1008.1,808.1 L1008.9,808.5 L1009.7,803.6 L1010.4,803.9 L1011.2,799.3 L1012.0,800.0 L1012.7,796.9 L1013.5,798.0 L1014.2,794.1 L1015.0,799.9 L1015.8,800.9 L1016.6,806.2 L1017.4,806.7 L1018.2,812.3 L1019.0,804.1 L1019.9,800.7 L1020.7,791.5 L1021.6,795.8 L1022.5,793.5 L1023.3,797.6 L1024.2,792.4 L1025.2,802.6 L1026.2,803.7 L1027.3,819.6 L1028.3,818.7 L1029.3,822.7 L1030.0,818.8 L1030.8,818.5 L1031.5,814.9 L1032.3,815.8 L1033.0,812.2 L1033.8,816.6 L1034.5,810.7 L1035.3,812.9 L1036.3,815.8 L1037.3,823.0 L1038.3,815.5 L1039.3,812.2 L1040.0,809.6 L1040.8,810.7 L1041.5,807.8 L1042.3,808.8 L1043.1,807.8 L1043.8,810.8 L1044.6,808.3 L1045.4,811.3 L1046.2,807.4 L1046.9,814.5 L1047.7,813.1 L1048.4,820.2 L1049.2,815.9 L1049.9,818.8 L1050.7,818.6 L1051.4,821.5 L1052.2,819.2 L1053.0,820.9 L1053.8,818.7 L1054.6,821.6 L1055.4,818.7 L1056.2,823.3 L1057.0,822.7 L1057.8,827.3 L1058.6,826.3 L1059.4,829.9 L1060.2,827.5 L1061.0,827.8 L1061.9,824.8 L1062.7,826.7 L1063.5,823.5 L1064.3,824.8 L1065.2,822.7 L1066.0,824.5 L1066.8,821.3 L1067.7,827.4 L1068.5,821.8 L1069.2,824.0 L1070.0,822.9 L1070.8,826.0 L1071.5,823.9 L1072.2,828.6 L1073.0,830.0 L1073.8,834.1 L1074.5,835.0 L1075.5,840.6 L1076.5,841.0 L1077.3,840.6 L1078.0,836.1 L1078.8,835.6 L1079.6,828.9 L1080.3,834.2 L1081.1,832.6 L1081.8,834.4 L1082.6,831.1 L1083.3,834.9 L1084.1,831.7 L1084.8,833.6 L1085.6,831.0 L1086.4,834.7 L1087.2,832.1 L1088.0,838.1 L1088.8,837.8 L1089.6,840.9 L1090.6,829.5 L1091.6,829.1 L1092.4,828.9 L1093.2,831.4 L1094.1,831.1 L1094.9,834.1 L1095.7,833.2 L1096.5,837.2 L1097.2,835.7 L1098.0,840.1 L1098.7,839.5 L1099.5,843.0 L1100.2,841.8 L1101.0,847.7 L1101.7,843.6 L1102.7,849.9 L1103.7,851.3 L1104.5,851.1 L1105.2,847.4 L1106.0,847.1 L1106.7,843.8 L1107.5,847.1 L1108.2,847.3 L1109.0,854.5 L1109.7,850.9 L1110.5,851.2 L1111.3,847.3 L1112.2,847.3 L1113.0,842.8 L1113.8,844.1 L1114.5,841.2 L1115.3,843.0 L1116.0,839.4 L1116.8,841.8 L1117.6,840.8 L1118.4,843.0 L1119.2,842.0 L1120.0,845.7 L1120.8,840.5 L1121.5,847.4 L1122.3,846.3 L1123.0,849.3 L1123.8,848.9 L1124.5,852.3 L1125.3,852.6 L1126.0,857.9 L1126.8,854.2 L1127.6,858.4 L1128.3,854.9 L1129.1,855.0 L1129.9,850.9 L1130.7,852.1 L1131.5,847.9 L1132.3,851.7 L1133.1,848.4 L1133.9,850.0 L1134.7,848.0 L1135.5,851.0 L1136.3,850.3 L1137.1,852.2 L1137.9,851.8 L1138.7,854.3 L1139.5,852.6 L1140.3,854.7 L1141.1,853.3 L1141.9,855.9 L1142.7,853.3 L1143.5,856.1 L1144.4,854.6 L1145.2,857.3 L1146.0,855.4 L1146.8,857.6 L1147.6,854.7 L1148.4,855.5 L1149.2,849.1 L1150.0,854.5 L1150.8,851.3 L1151.5,853.3 L1152.2,849.8 L1153.0,851.6 L1153.8,848.2 L1154.5,849.8 L1155.2,846.7 L1156.0,848.1 L1157.0,850.8 L1158.0,856.9 L1158.8,853.4 L1159.6,855.4 L1160.5,852.4 L1161.3,854.2 L1162.1,851.0 L1162.9,852.3 L1163.7,849.8 L1164.5,851.2 L1165.3,848.2 L1166.1,849.4 L1166.8,846.0 L1167.6,853.4 L1168.3,853.3 L1169.1,861.3 L1170.1,862.4 L1171.1,872.6 L1172.1,857.9 L1172.9,859.6 L1173.7,856.9 L1174.5,858.8 L1175.3,855.9 L1176.1,858.0 L1176.8,856.0 L1177.5,859.7 L1178.3,858.1 L1179.0,864.9 L1179.8,857.9 L1180.6,857.8 L1181.4,852.9 L1182.2,856.5 L1183.0,849.4 L1183.8,854.0 L1184.5,853.8 L1185.3,857.4 L1186.1,857.6 L1186.8,855.2 L1187.6,847.6 L1188.3,845.8 L1189.1,838.5 L1189.8,841.3 L1190.6,840.6 L1191.3,846.0 L1192.1,843.2 L1192.8,849.8 L1193.6,851.9 L1194.3,858.8 L1195.1,861.7 L1195.8,859.7 L1196.6,854.4 L1197.3,852.6 L1198.1,847.7 L1198.9,847.3 L1199.7,843.0 L1200.4,843.5 L1201.2,839.0 L1202.0,840.6 L1202.7,838.0 L1203.5,839.2 L1204.2,836.3 L1205.2,841.0 L1206.2,842.5 L1207.0,843.7 L1207.7,841.1 L1208.5,842.1 L1209.2,836.0 L1210.0,841.6 L1210.9,835.6 L1211.7,835.5 L1212.5,831.5 L1213.4,831.2 L1214.2,826.8 L1215.0,830.6 L1215.8,829.0 L1216.5,831.9 L1217.3,831.5 L1218.3,838.3 L1219.3,840.4 L1220.3,837.5 L1221.3,825.2 L1222.1,831.3 L1222.9,830.1 L1223.7,831.8 L1224.5,830.2 L1225.3,832.0 L1226.1,830.6 L1226.9,834.6 L1227.7,829.2 L1228.5,835.9 L1229.3,835.4 L1230.1,836.7 L1230.9,834.3 L1231.8,835.8 L1232.6,832.8 L1233.4,834.9 L1234.2,832.0 L1235.0,833.2 L1235.8,830.3 L1236.6,832.5 L1237.4,829.7 L1238.2,832.9 L1238.9,833.7 L1239.7,837.8 L1240.4,837.5 L1241.2,837.0 L1241.9,831.5 L1242.7,831.1 L1243.4,826.0 L1244.2,825.9 L1244.9,822.3 L1245.7,822.2 L1246.4,818.0 L1247.2,823.2 L1248.0,818.8 L1248.9,822.7 L1249.7,820.5 L1250.5,823.5 L1251.2,820.3 L1252.0,828.7 L1252.8,829.4 L1253.5,834.6 L1254.3,830.8 L1255.1,832.2 L1255.9,828.9 L1256.7,830.3 L1257.5,827.6 L1258.2,825.8 L1259.0,820.3 L1259.8,818.8 L1260.5,812.6 L1261.2,814.5 L1262.0,810.7 L1262.8,812.4 L1263.5,809.4 L1264.3,811.5 L1265.1,809.2 L1266.0,814.2 L1266.8,808.3 L1267.6,810.4 L1268.3,807.8 L1269.1,816.9 L1269.8,818.5 L1270.6,824.8 L1271.6,808.6 L1272.4,810.6 L1273.2,807.7 L1274.0,808.4 L1274.8,804.4 L1275.6,805.5 L1276.4,802.0 L1277.2,803.8 L1278.0,799.8 L1278.8,801.5 L1279.6,797.6 L1280.6,797.7 L1281.6,792.1 L1282.1,805.6 L1283.0,795.9 L1283.8,798.8 L1284.7,792.6 L1285.5,796.5 L1286.2,795.6 L1287.0,800.3 L1287.7,799.5 L1288.7,822.9 L1289.7,815.4 L1290.7,815.1 L1291.7,815.7 L1292.7,825.3 L1293.5,822.7 L1294.3,825.2 L1295.1,821.7 L1295.9,823.3 L1296.7,821.4 L1297.7,814.8 L1298.7,805.2" fill="none" stroke="#d88a00" stroke-width="3.9" stroke-linejoin="round" stroke-linecap="round"/>
<path d="M994.1,808.2 L994.9,809.3 L995.7,806.8 L996.5,808.6 L997.3,806.0 L998.1,806.8 L998.9,799.5 L999.6,795.4 L1000.4,794.4 L1001.3,797.3 L1002.1,797.3 L1002.9,801.7 L1003.6,801.5 L1004.4,805.6 L1005.1,806.3 L1005.9,809.1 L1006.6,807.3 L1007.4,810.2 L1008.1,808.1 L1008.9,808.5 L1009.7,803.6 L1010.4,803.9 L1011.2,799.3 L1012.0,800.0 L1012.7,796.9 L1013.5,798.0 L1014.2,794.1 L1015.0,799.9 L1015.8,800.9 L1016.6,806.2 L1017.4,806.7 L1018.2,812.3 L1019.0,804.1 L1019.9,800.7 L1020.7,791.5 L1021.6,795.8 L1022.5,793.5 L1023.3,797.6 L1024.2,792.4 L1025.2,802.6 L1026.2,803.7 L1027.3,819.6 L1028.3,818.7 L1029.3,822.7 L1030.0,818.8 L1030.8,818.5 L1031.5,814.9 L1032.3,815.8 L1033.0,812.2 L1033.8,816.6 L1034.5,810.7 L1035.3,812.9 L1036.3,815.8 L1037.3,823.0 L1038.3,815.5 L1039.3,812.2 L1040.0,809.6 L1040.8,810.7 L1041.5,807.8 L1042.3,808.8 L1043.1,807.8 L1043.8,810.8 L1044.6,808.3 L1045.4,811.3 L1046.2,807.4 L1046.9,814.5 L1047.7,813.1 L1048.4,820.2 L1049.2,815.9 L1049.9,818.8 L1050.7,818.6 L1051.4,821.5 L1052.2,819.2 L1053.0,820.9 L1053.8,818.7 L1054.6,821.6 L1055.4,818.7 L1056.2,823.3 L1057.0,822.7 L1057.8,827.3 L1058.6,826.3 L1059.4,829.9 L1060.2,827.5 L1061.0,827.8 L1061.9,824.8 L1062.7,826.7 L1063.5,823.5 L1064.3,824.8 L1065.2,822.7 L1066.0,824.5 L1066.8,821.3 L1067.7,827.4 L1068.5,821.8 L1069.2,824.0 L1070.0,822.9 L1070.8,826.0 L1071.5,823.9 L1072.2,828.6 L1073.0,830.0 L1073.8,834.1 L1074.5,835.0 L1075.5,840.6 L1076.5,841.0 L1077.3,840.6 L1078.0,836.1 L1078.8,835.6 L1079.6,828.9 L1080.3,834.2 L1081.1,832.6 L1081.8,834.4 L1082.6,831.1 L1083.3,834.9 L1084.1,831.7 L1084.8,833.6 L1085.6,831.0 L1086.4,834.7 L1087.2,832.1 L1088.0,838.1 L1088.8,837.8 L1089.6,840.9 L1090.6,829.5 L1091.6,829.1 L1092.4,828.9 L1093.2,831.4 L1094.1,831.1 L1094.9,834.1 L1095.7,833.2 L1096.5,837.2 L1097.2,835.7 L1098.0,840.1 L1098.7,839.5 L1099.5,843.0 L1100.2,841.8 L1101.0,847.7 L1101.7,843.6 L1102.7,849.9 L1103.7,851.3 L1104.5,851.1 L1105.2,847.4 L1106.0,847.1 L1106.7,843.8 L1107.5,847.1 L1108.2,847.3 L1109.0,854.5 L1109.7,850.9 L1110.5,851.2 L1111.3,847.3 L1112.2,847.3 L1113.0,842.8 L1113.8,844.1 L1114.5,841.2 L1115.3,843.0 L1116.0,839.4 L1116.8,841.8 L1117.6,840.8 L1118.4,843.0 L1119.2,842.0 L1120.0,845.7 L1120.8,840.5 L1121.5,847.4 L1122.3,846.3 L1123.0,849.3 L1123.8,848.9 L1124.5,852.3 L1125.3,852.6 L1126.0,857.9 L1126.8,854.2 L1127.6,858.4 L1128.3,854.9 L1129.1,855.0 L1129.9,850.9 L1130.7,852.1 L1131.5,847.9 L1132.3,851.7 L1133.1,848.4 L1133.9,850.0 L1134.7,848.0 L1135.5,851.0 L1136.3,850.3 L1137.1,852.2 L1137.9,851.8 L1138.7,854.3 L1139.5,852.6 L1140.3,854.7 L1141.1,853.3 L1141.9,855.9 L1142.7,853.3 L1143.5,856.1 L1144.4,854.6 L1145.2,857.3 L1146.0,855.4 L1146.8,857.6 L1147.6,854.7 L1148.4,855.5 L1149.2,849.1 L1150.0,854.5 L1150.8,851.3 L1151.5,853.3 L1152.2,849.8 L1153.0,851.6 L1153.8,848.2 L1154.5,849.8 L1155.2,846.7 L1156.0,848.1 L1157.0,850.8 L1158.0,856.9 L1158.8,853.4 L1159.6,855.4 L1160.5,852.4 L1161.3,854.2 L1162.1,851.0 L1162.9,852.3 L1163.7,849.8 L1164.5,851.2 L1165.3,848.2 L1166.1,849.4 L1166.8,846.0 L1167.6,853.4 L1168.3,853.3 L1169.1,861.3 L1170.1,862.4 L1171.1,872.6 L1172.1,857.9 L1172.9,859.6 L1173.7,856.9 L1174.5,858.8 L1175.3,855.9 L1176.1,858.0 L1176.8,856.0 L1177.5,859.7 L1178.3,858.1 L1179.0,864.9 L1179.8,857.9 L1180.6,857.8 L1181.4,852.9 L1182.2,856.5 L1183.0,849.4 L1183.8,854.0 L1184.5,853.8 L1185.3,857.4 L1186.1,857.6 L1186.8,855.2 L1187.6,847.6 L1188.3,845.8 L1189.1,838.5 L1189.8,841.3 L1190.6,840.6 L1191.3,846.0 L1192.1,843.2 L1192.8,849.8 L1193.6,851.9 L1194.3,858.8 L1195.1,861.7 L1195.8,859.7 L1196.6,854.4 L1197.3,852.6 L1198.1,847.7 L1198.9,847.3 L1199.7,843.0 L1200.4,843.5 L1201.2,839.0 L1202.0,840.6 L1202.7,838.0 L1203.5,839.2 L1204.2,836.3 L1205.2,841.0 L1206.2,842.5 L1207.0,843.7 L1207.7,841.1 L1208.5,842.1 L1209.2,836.0 L1210.0,841.6 L1210.9,835.6 L1211.7,835.5 L1212.5,831.5 L1213.4,831.2 L1214.2,826.8 L1215.0,830.6 L1215.8,829.0 L1216.5,831.9 L1217.3,831.5 L1218.3,838.3 L1219.3,840.4 L1220.3,837.5 L1221.3,825.2 L1222.1,831.3 L1222.9,830.1 L1223.7,831.8 L1224.5,830.2 L1225.3,832.0 L1226.1,830.6 L1226.9,834.6 L1227.7,829.2 L1228.5,835.9 L1229.3,835.4 L1230.1,836.7 L1230.9,834.3 L1231.8,835.8 L1232.6,832.8 L1233.4,834.9 L1234.2,832.0 L1235.0,833.2 L1235.8,830.3 L1236.6,832.5 L1237.4,829.7 L1238.2,832.9 L1238.9,833.7 L1239.7,837.8 L1240.4,837.5 L1241.2,837.0 L1241.9,831.5 L1242.7,831.1 L1243.4,826.0 L1244.2,825.9 L1244.9,822.3 L1245.7,822.2 L1246.4,818.0 L1247.2,823.2 L1248.0,818.8 L1248.9,822.7 L1249.7,820.5 L1250.5,823.5 L1251.2,820.3 L1252.0,828.7 L1252.8,829.4 L1253.5,834.6 L1254.3,830.8 L1255.1,832.2 L1255.9,828.9 L1256.7,830.3 L1257.5,827.6 L1258.2,825.8 L1259.0,820.3 L1259.8,818.8 L1260.5,812.6 L1261.2,814.5 L1262.0,810.7 L1262.8,812.4 L1263.5,809.4 L1264.3,811.5 L1265.1,809.2 L1266.0,814.2 L1266.8,808.3 L1267.6,810.4 L1268.3,807.8 L1269.1,816.9 L1269.8,818.5 L1270.6,824.8 L1271.6,808.6 L1272.4,810.6 L1273.2,807.7 L1274.0,808.4 L1274.8,804.4 L1275.6,805.5 L1276.4,802.0 L1277.2,803.8 L1278.0,799.8 L1278.8,801.5 L1279.6,797.6 L1280.6,797.7 L1281.6,792.1 L1282.1,805.6 L1283.0,795.9 L1283.8,798.8 L1284.7,792.6 L1285.5,796.5 L1286.2,795.6 L1287.0,800.3 L1287.7,799.5 L1288.7,822.9 L1289.7,815.4 L1290.7,815.1 L1291.7,815.7 L1292.7,825.3 L1293.5,822.7 L1294.3,825.2 L1295.1,821.7 L1295.9,823.3 L1296.7,821.4 L1297.7,814.8 L1298.7,805.2" fill="none" stroke="#fbab0c" stroke-width="2.5" stroke-linejoin="round" stroke-linecap="round"/>
<rect x="916.3" y="703.9" width="467.9" height="234.1" fill="none" stroke="#000" stroke-width="1.8"/>
<line x1="905.3" y1="733.2" x2="916.3" y2="733.2" stroke="#000" stroke-width="1.8"/>
<text x="898.8" y="739.2" class="s e">40</text>
<line x1="905.3" y1="783.6" x2="916.3" y2="783.6" stroke="#000" stroke-width="1.8"/>
<text x="898.8" y="789.6" class="s e">20</text>
<line x1="905.3" y1="833.9" x2="916.3" y2="833.9" stroke="#000" stroke-width="1.8"/>
<text x="898.8" y="839.9" class="s e">0</text>
<line x1="905.3" y1="884.3" x2="916.3" y2="884.3" stroke="#000" stroke-width="1.8"/>
<text x="898.8" y="890.3" class="s e">-20</text>
<line x1="905.3" y1="934.6" x2="916.3" y2="934.6" stroke="#000" stroke-width="1.8"/>
<text x="898.8" y="940.6" class="s e">-40</text>
<line x1="962.8" y1="938.0" x2="962.8" y2="944.0" stroke="#000" stroke-width="1.8"/>
<line x1="1018.5" y1="938.0" x2="1018.5" y2="949.0" stroke="#000" stroke-width="1.8"/>
<text x="1018.5" y="971.2" class="s c">400</text>
<line x1="1074.2" y1="938.0" x2="1074.2" y2="944.0" stroke="#000" stroke-width="1.8"/>
<line x1="1129.9" y1="938.0" x2="1129.9" y2="949.0" stroke="#000" stroke-width="1.8"/>
<text x="1129.9" y="971.2" class="s c">800</text>
<line x1="1185.6" y1="938.0" x2="1185.6" y2="944.0" stroke="#000" stroke-width="1.8"/>
<line x1="1241.3" y1="938.0" x2="1241.3" y2="949.0" stroke="#000" stroke-width="1.8"/>
<text x="1241.3" y="971.2" class="s c">1200</text>
<line x1="1297.0" y1="938.0" x2="1297.0" y2="944.0" stroke="#000" stroke-width="1.8"/>
<line x1="1352.7" y1="938.0" x2="1352.7" y2="949.0" stroke="#000" stroke-width="1.8"/>
<text x="1352.7" y="971.2" class="s c">1600</text>
<text x="1061.3" y="990.8" class="s">Trace length (µm)</text>
<text transform="translate(873.5,820.8) rotate(-90)" class="s c">Height profile (µm)</text>
<line x1="969.7" y1="802.1" x2="1005.8" y2="802.1" stroke="#0b1838" stroke-width="3.6"/>
<line x1="969.7" y1="862.3" x2="1176.6" y2="862.3" stroke="#0b1838" stroke-width="3.6"/>
<line x1="989.2" y1="813.2" x2="989.2" y2="851.2" stroke="#0b1838" stroke-width="2.9"/>
<path d="M989.2,805.2 L984.1,820.7 L994.3,820.7 Z" fill="#15305a"/>
<path d="M989.2,859.2 L984.1,843.7 L994.3,843.7 Z" fill="#15305a"/>
<text x="920.4" y="848.4" class="m">27 µm</text>
</g>
<g>
<path d="M1587.0,828.2 L1588.0,836.4 L1588.7,832.4 L1589.4,830.9 L1590.1,827.8 L1591.1,843.9 L1592.1,833.4 L1593.1,825.8 L1593.8,826.0 L1594.5,828.3 L1595.2,829.5 L1595.8,858.4 L1596.4,829.5 L1597.0,858.4 L1597.6,829.5 L1598.3,831.6 L1599.1,828.1 L1600.0,830.1 L1600.8,827.9 L1601.2,830.0 L1601.8,858.4 L1602.4,830.0 L1603.0,858.4 L1603.6,830.0 L1604.0,829.7 L1605.0,831.1 L1605.4,831.0 L1606.0,858.4 L1606.6,831.0 L1607.2,858.4 L1607.8,831.0 L1608.4,858.4 L1609.0,831.0 L1609.6,858.4 L1610.2,831.0 L1610.8,858.4 L1611.4,831.0 L1612.0,858.4 L1612.6,831.0 L1613.2,858.4 L1614.2,831.1 L1615.0,832.2 L1615.8,830.8 L1616.6,831.5 L1617.4,830.0 L1618.2,830.8 L1619.0,829.3 L1619.8,830.3 L1620.7,828.6 L1621.5,829.6 L1622.3,827.1 L1623.1,829.3 L1623.9,828.2 L1624.7,832.9 L1625.5,829.2 L1626.3,830.9 L1627.1,828.3 L1627.9,829.7 L1628.7,825.3 L1629.5,828.2 L1630.3,825.5 L1631.1,826.4 L1631.9,821.9 L1632.7,825.4 L1633.5,823.9 L1634.3,824.6 L1635.0,821.7 L1635.8,822.2 L1636.5,818.6 L1637.3,818.8 L1638.1,817.5 L1638.8,820.1 L1639.6,819.0 L1640.4,821.3 L1641.4,819.4 L1642.4,825.0 L1643.2,821.8 L1643.9,822.2 L1644.7,819.6 L1645.4,822.3 L1646.2,819.5 L1646.9,821.7 L1647.7,820.3 L1648.4,822.6 L1649.4,833.4 L1650.4,829.1 L1651.4,822.6 L1652.2,824.6 L1652.9,823.3 L1653.7,824.4 L1654.4,823.5 L1655.2,827.4 L1656.0,828.5 L1656.7,832.5 L1657.5,833.7 L1658.5,830.8 L1659.5,825.3 L1660.3,827.7 L1661.1,826.0 L1661.9,828.1 L1662.7,826.9 L1663.5,829.0 L1664.3,826.7 L1665.1,827.7 L1665.9,825.7 L1666.7,826.9 L1667.5,824.4 L1668.2,827.0 L1669.0,826.7 L1669.8,829.9 L1670.5,829.5 L1671.3,830.9 L1672.2,829.1 L1673.0,830.9 L1673.9,829.8 L1674.8,831.0 L1675.6,829.3 L1676.4,832.5 L1677.3,830.5 L1678.1,831.6 L1678.9,830.7 L1679.8,833.0 L1680.6,831.1 L1681.3,834.7 L1682.1,834.7 L1682.8,837.2 L1683.6,837.7 L1684.3,838.6 L1685.1,833.4 L1685.8,832.7 L1686.6,829.5 L1687.3,834.6 L1688.0,836.4 L1688.7,842.4 L1689.7,836.9 L1690.7,834.7 L1691.5,833.5 L1692.4,835.3 L1693.2,833.7 L1694.0,835.3 L1694.9,831.6 L1695.7,836.4 L1696.5,834.8 L1697.4,835.4 L1698.2,833.8 L1699.0,835.7 L1699.9,831.2 L1700.7,835.4 L1701.5,833.9 L1702.2,835.0 L1703.0,834.3 L1703.8,835.5 L1704.5,833.9 L1705.3,836.2 L1706.0,834.0 L1706.8,835.7 L1707.5,836.2 L1708.3,838.9 L1709.0,839.4 L1709.8,841.8 L1710.5,840.3 L1711.3,841.6 L1712.0,839.9 L1712.8,841.3 L1713.8,844.7 L1714.8,852.5 L1715.6,848.5 L1716.4,849.3 L1717.2,844.7 L1718.0,843.7 L1718.8,840.3 L1719.8,846.4 L1720.8,849.3 L1721.6,852.7 L1722.3,853.2 L1723.1,856.1 L1723.9,856.5 L1724.7,856.5 L1725.5,852.3 L1726.3,854.0 L1727.1,850.7 L1727.9,851.3 L1728.7,849.0 L1729.5,850.0 L1730.3,848.2 L1731.1,849.3 L1731.9,847.5 L1732.9,852.3 L1733.9,855.0 L1734.7,853.6 L1735.4,850.0 L1736.2,848.4 L1736.9,844.6 L1737.7,850.4 L1738.5,848.0 L1739.4,851.1 L1740.2,851.5 L1741.0,854.9 L1741.8,852.0 L1742.5,852.7 L1743.2,850.2 L1744.0,850.3 L1744.8,849.8 L1745.5,853.7 L1746.2,852.1 L1747.0,857.6 L1747.8,852.3 L1748.6,851.7 L1749.4,848.5 L1750.2,848.6 L1751.0,845.7 L1751.8,849.4 L1752.6,850.1 L1753.4,854.0 L1754.2,854.7 L1755.0,858.3 L1755.8,854.0 L1756.6,853.2 L1757.5,848.7 L1758.3,847.5 L1759.1,843.9 L1759.8,844.7 L1760.6,842.4 L1761.3,842.9 L1762.1,838.5 L1762.8,847.8 L1763.6,847.3 L1764.3,851.9 L1765.1,853.2 L1765.9,855.7 L1766.7,854.5 L1767.5,857.2 L1768.3,855.8 L1769.1,858.6 L1769.8,852.9 L1770.5,851.2 L1771.3,846.3 L1772.0,843.8 L1772.8,841.8 L1773.5,842.8 L1774.2,839.9 L1775.0,841.3 L1776.0,835.9 L1777.0,834.4 L1777.8,832.3 L1778.6,837.3 L1779.5,837.7 L1780.3,840.1 L1781.1,840.6 L1781.9,840.3 L1782.7,837.0 L1783.5,836.3 L1784.3,832.9 L1785.1,833.0 L1785.8,830.8 L1786.6,833.3 L1787.3,830.2 L1788.1,830.9 L1788.9,830.0 L1789.7,833.1 L1790.5,832.4 L1791.3,835.3 L1792.1,834.9 L1792.9,835.3 L1793.7,833.2 L1794.6,833.5 L1795.4,831.4 L1796.2,831.9 L1797.0,831.9 L1797.7,835.3 L1798.5,835.3 L1799.2,838.8 L1800.0,836.7 L1800.8,836.9 L1801.6,833.7 L1802.4,834.6 L1803.2,831.3 L1804.0,833.0 L1804.8,830.9 L1805.6,833.1 L1806.4,829.5 L1807.2,831.3 L1808.0,828.4 L1808.8,828.7 L1809.6,826.1 L1810.4,827.0 L1811.2,824.1 L1811.9,830.9 L1812.6,829.4 L1813.3,832.8 L1814.1,829.6 L1814.9,829.4 L1815.7,825.9 L1816.5,825.6 L1817.3,822.1 L1818.1,825.4 L1819.0,821.8 L1819.8,823.2 L1820.6,821.4 L1821.5,822.7 L1822.3,820.5 L1823.1,822.9 L1823.9,822.2 L1824.7,824.8 L1825.5,824.8 L1826.3,826.6 L1827.1,826.5 L1827.8,828.7 L1828.6,827.2 L1829.4,830.6 L1830.2,826.5 L1830.9,827.9 L1831.7,819.9 L1832.4,820.9 L1833.2,819.9 L1834.0,822.3 L1834.8,822.2 L1835.6,824.3 L1836.4,823.0 L1837.2,823.7 L1838.0,821.2 L1838.8,822.4 L1839.6,819.7 L1840.4,819.7 L1841.2,818.5 L1842.0,823.2 L1842.8,819.2 L1843.6,821.1 L1844.4,819.2 L1845.2,823.0 L1846.0,823.8 L1846.9,827.1 L1847.7,827.4 L1848.5,830.7 L1849.5,824.8 L1850.5,820.8 L1851.3,820.4 L1852.1,823.4 L1852.9,822.6 L1853.7,825.3 L1854.5,824.5 L1855.2,824.6 L1856.0,821.2 L1856.8,820.6 L1857.5,815.5 L1858.2,818.6 L1859.0,816.7 L1859.8,818.3 L1860.5,816.6 L1861.3,820.8 L1862.0,821.7 L1862.8,826.1 L1863.6,827.1 L1864.6,825.3 L1865.6,819.8 L1866.4,821.1 L1867.3,820.3 L1868.1,822.4 L1868.9,821.7 L1869.8,823.7 L1870.6,822.3 L1871.4,823.1 L1872.3,821.5 L1873.1,822.0 L1873.9,819.7 L1874.8,820.6 L1875.6,818.6 L1876.4,819.7 L1877.3,817.5 L1878.2,817.7 L1879.0,815.7 L1879.8,817.0 L1880.7,812.1 L1881.5,818.3 L1882.2,817.1 L1883.0,823.0 L1883.7,823.8 L1884.5,824.3 L1885.2,821.7 L1886.0,822.3 L1886.7,819.3 L1887.5,821.0 L1888.3,820.0 L1889.1,821.9 L1889.9,819.9 L1890.7,823.0 L1891.5,815.3 L1892.2,810.5 L1893.0,820.3 L1893.9,832.1 L1894.7,841.9 L1895.3,817.1 L1896.1,811.8 L1897.0,814.9 L1897.8,810.0 L1898.3,819.2" fill="none" stroke="#d88a00" stroke-width="3.9" stroke-linejoin="round" stroke-linecap="round"/>
<path d="M1587.0,828.2 L1588.0,836.4 L1588.7,832.4 L1589.4,830.9 L1590.1,827.8 L1591.1,843.9 L1592.1,833.4 L1593.1,825.8 L1593.8,826.0 L1594.5,828.3 L1595.2,829.5 L1595.8,858.4 L1596.4,829.5 L1597.0,858.4 L1597.6,829.5 L1598.3,831.6 L1599.1,828.1 L1600.0,830.1 L1600.8,827.9 L1601.2,830.0 L1601.8,858.4 L1602.4,830.0 L1603.0,858.4 L1603.6,830.0 L1604.0,829.7 L1605.0,831.1 L1605.4,831.0 L1606.0,858.4 L1606.6,831.0 L1607.2,858.4 L1607.8,831.0 L1608.4,858.4 L1609.0,831.0 L1609.6,858.4 L1610.2,831.0 L1610.8,858.4 L1611.4,831.0 L1612.0,858.4 L1612.6,831.0 L1613.2,858.4 L1614.2,831.1 L1615.0,832.2 L1615.8,830.8 L1616.6,831.5 L1617.4,830.0 L1618.2,830.8 L1619.0,829.3 L1619.8,830.3 L1620.7,828.6 L1621.5,829.6 L1622.3,827.1 L1623.1,829.3 L1623.9,828.2 L1624.7,832.9 L1625.5,829.2 L1626.3,830.9 L1627.1,828.3 L1627.9,829.7 L1628.7,825.3 L1629.5,828.2 L1630.3,825.5 L1631.1,826.4 L1631.9,821.9 L1632.7,825.4 L1633.5,823.9 L1634.3,824.6 L1635.0,821.7 L1635.8,822.2 L1636.5,818.6 L1637.3,818.8 L1638.1,817.5 L1638.8,820.1 L1639.6,819.0 L1640.4,821.3 L1641.4,819.4 L1642.4,825.0 L1643.2,821.8 L1643.9,822.2 L1644.7,819.6 L1645.4,822.3 L1646.2,819.5 L1646.9,821.7 L1647.7,820.3 L1648.4,822.6 L1649.4,833.4 L1650.4,829.1 L1651.4,822.6 L1652.2,824.6 L1652.9,823.3 L1653.7,824.4 L1654.4,823.5 L1655.2,827.4 L1656.0,828.5 L1656.7,832.5 L1657.5,833.7 L1658.5,830.8 L1659.5,825.3 L1660.3,827.7 L1661.1,826.0 L1661.9,828.1 L1662.7,826.9 L1663.5,829.0 L1664.3,826.7 L1665.1,827.7 L1665.9,825.7 L1666.7,826.9 L1667.5,824.4 L1668.2,827.0 L1669.0,826.7 L1669.8,829.9 L1670.5,829.5 L1671.3,830.9 L1672.2,829.1 L1673.0,830.9 L1673.9,829.8 L1674.8,831.0 L1675.6,829.3 L1676.4,832.5 L1677.3,830.5 L1678.1,831.6 L1678.9,830.7 L1679.8,833.0 L1680.6,831.1 L1681.3,834.7 L1682.1,834.7 L1682.8,837.2 L1683.6,837.7 L1684.3,838.6 L1685.1,833.4 L1685.8,832.7 L1686.6,829.5 L1687.3,834.6 L1688.0,836.4 L1688.7,842.4 L1689.7,836.9 L1690.7,834.7 L1691.5,833.5 L1692.4,835.3 L1693.2,833.7 L1694.0,835.3 L1694.9,831.6 L1695.7,836.4 L1696.5,834.8 L1697.4,835.4 L1698.2,833.8 L1699.0,835.7 L1699.9,831.2 L1700.7,835.4 L1701.5,833.9 L1702.2,835.0 L1703.0,834.3 L1703.8,835.5 L1704.5,833.9 L1705.3,836.2 L1706.0,834.0 L1706.8,835.7 L1707.5,836.2 L1708.3,838.9 L1709.0,839.4 L1709.8,841.8 L1710.5,840.3 L1711.3,841.6 L1712.0,839.9 L1712.8,841.3 L1713.8,844.7 L1714.8,852.5 L1715.6,848.5 L1716.4,849.3 L1717.2,844.7 L1718.0,843.7 L1718.8,840.3 L1719.8,846.4 L1720.8,849.3 L1721.6,852.7 L1722.3,853.2 L1723.1,856.1 L1723.9,856.5 L1724.7,856.5 L1725.5,852.3 L1726.3,854.0 L1727.1,850.7 L1727.9,851.3 L1728.7,849.0 L1729.5,850.0 L1730.3,848.2 L1731.1,849.3 L1731.9,847.5 L1732.9,852.3 L1733.9,855.0 L1734.7,853.6 L1735.4,850.0 L1736.2,848.4 L1736.9,844.6 L1737.7,850.4 L1738.5,848.0 L1739.4,851.1 L1740.2,851.5 L1741.0,854.9 L1741.8,852.0 L1742.5,852.7 L1743.2,850.2 L1744.0,850.3 L1744.8,849.8 L1745.5,853.7 L1746.2,852.1 L1747.0,857.6 L1747.8,852.3 L1748.6,851.7 L1749.4,848.5 L1750.2,848.6 L1751.0,845.7 L1751.8,849.4 L1752.6,850.1 L1753.4,854.0 L1754.2,854.7 L1755.0,858.3 L1755.8,854.0 L1756.6,853.2 L1757.5,848.7 L1758.3,847.5 L1759.1,843.9 L1759.8,844.7 L1760.6,842.4 L1761.3,842.9 L1762.1,838.5 L1762.8,847.8 L1763.6,847.3 L1764.3,851.9 L1765.1,853.2 L1765.9,855.7 L1766.7,854.5 L1767.5,857.2 L1768.3,855.8 L1769.1,858.6 L1769.8,852.9 L1770.5,851.2 L1771.3,846.3 L1772.0,843.8 L1772.8,841.8 L1773.5,842.8 L1774.2,839.9 L1775.0,841.3 L1776.0,835.9 L1777.0,834.4 L1777.8,832.3 L1778.6,837.3 L1779.5,837.7 L1780.3,840.1 L1781.1,840.6 L1781.9,840.3 L1782.7,837.0 L1783.5,836.3 L1784.3,832.9 L1785.1,833.0 L1785.8,830.8 L1786.6,833.3 L1787.3,830.2 L1788.1,830.9 L1788.9,830.0 L1789.7,833.1 L1790.5,832.4 L1791.3,835.3 L1792.1,834.9 L1792.9,835.3 L1793.7,833.2 L1794.6,833.5 L1795.4,831.4 L1796.2,831.9 L1797.0,831.9 L1797.7,835.3 L1798.5,835.3 L1799.2,838.8 L1800.0,836.7 L1800.8,836.9 L1801.6,833.7 L1802.4,834.6 L1803.2,831.3 L1804.0,833.0 L1804.8,830.9 L1805.6,833.1 L1806.4,829.5 L1807.2,831.3 L1808.0,828.4 L1808.8,828.7 L1809.6,826.1 L1810.4,827.0 L1811.2,824.1 L1811.9,830.9 L1812.6,829.4 L1813.3,832.8 L1814.1,829.6 L1814.9,829.4 L1815.7,825.9 L1816.5,825.6 L1817.3,822.1 L1818.1,825.4 L1819.0,821.8 L1819.8,823.2 L1820.6,821.4 L1821.5,822.7 L1822.3,820.5 L1823.1,822.9 L1823.9,822.2 L1824.7,824.8 L1825.5,824.8 L1826.3,826.6 L1827.1,826.5 L1827.8,828.7 L1828.6,827.2 L1829.4,830.6 L1830.2,826.5 L1830.9,827.9 L1831.7,819.9 L1832.4,820.9 L1833.2,819.9 L1834.0,822.3 L1834.8,822.2 L1835.6,824.3 L1836.4,823.0 L1837.2,823.7 L1838.0,821.2 L1838.8,822.4 L1839.6,819.7 L1840.4,819.7 L1841.2,818.5 L1842.0,823.2 L1842.8,819.2 L1843.6,821.1 L1844.4,819.2 L1845.2,823.0 L1846.0,823.8 L1846.9,827.1 L1847.7,827.4 L1848.5,830.7 L1849.5,824.8 L1850.5,820.8 L1851.3,820.4 L1852.1,823.4 L1852.9,822.6 L1853.7,825.3 L1854.5,824.5 L1855.2,824.6 L1856.0,821.2 L1856.8,820.6 L1857.5,815.5 L1858.2,818.6 L1859.0,816.7 L1859.8,818.3 L1860.5,816.6 L1861.3,820.8 L1862.0,821.7 L1862.8,826.1 L1863.6,827.1 L1864.6,825.3 L1865.6,819.8 L1866.4,821.1 L1867.3,820.3 L1868.1,822.4 L1868.9,821.7 L1869.8,823.7 L1870.6,822.3 L1871.4,823.1 L1872.3,821.5 L1873.1,822.0 L1873.9,819.7 L1874.8,820.6 L1875.6,818.6 L1876.4,819.7 L1877.3,817.5 L1878.2,817.7 L1879.0,815.7 L1879.8,817.0 L1880.7,812.1 L1881.5,818.3 L1882.2,817.1 L1883.0,823.0 L1883.7,823.8 L1884.5,824.3 L1885.2,821.7 L1886.0,822.3 L1886.7,819.3 L1887.5,821.0 L1888.3,820.0 L1889.1,821.9 L1889.9,819.9 L1890.7,823.0 L1891.5,815.3 L1892.2,810.5 L1893.0,820.3 L1893.9,832.1 L1894.7,841.9 L1895.3,817.1 L1896.1,811.8 L1897.0,814.9 L1897.8,810.0 L1898.3,819.2" fill="none" stroke="#fbab0c" stroke-width="2.5" stroke-linejoin="round" stroke-linecap="round"/>
<rect x="1505.5" y="703.9" width="468.2" height="234.1" fill="none" stroke="#000" stroke-width="1.8"/>
<line x1="1494.5" y1="733.2" x2="1505.5" y2="733.2" stroke="#000" stroke-width="1.8"/>
<text x="1488.0" y="739.2" class="s e">40</text>
<line x1="1494.5" y1="783.6" x2="1505.5" y2="783.6" stroke="#000" stroke-width="1.8"/>
<text x="1488.0" y="789.6" class="s e">20</text>
<line x1="1494.5" y1="833.9" x2="1505.5" y2="833.9" stroke="#000" stroke-width="1.8"/>
<text x="1488.0" y="839.9" class="s e">0</text>
<line x1="1494.5" y1="884.3" x2="1505.5" y2="884.3" stroke="#000" stroke-width="1.8"/>
<text x="1488.0" y="890.3" class="s e">-20</text>
<line x1="1494.5" y1="934.6" x2="1505.5" y2="934.6" stroke="#000" stroke-width="1.8"/>
<text x="1488.0" y="940.6" class="s e">-40</text>
<line x1="1551.8" y1="938.0" x2="1551.8" y2="944.0" stroke="#000" stroke-width="1.8"/>
<line x1="1607.5" y1="938.0" x2="1607.5" y2="949.0" stroke="#000" stroke-width="1.8"/>
<text x="1607.5" y="971.5" class="s c">400</text>
<line x1="1663.2" y1="938.0" x2="1663.2" y2="944.0" stroke="#000" stroke-width="1.8"/>
<line x1="1719.0" y1="938.0" x2="1719.0" y2="949.0" stroke="#000" stroke-width="1.8"/>
<text x="1719.0" y="971.5" class="s c">800</text>
<line x1="1774.7" y1="938.0" x2="1774.7" y2="944.0" stroke="#000" stroke-width="1.8"/>
<line x1="1830.4" y1="938.0" x2="1830.4" y2="949.0" stroke="#000" stroke-width="1.8"/>
<text x="1830.4" y="971.5" class="s c">1200</text>
<line x1="1886.2" y1="938.0" x2="1886.2" y2="944.0" stroke="#000" stroke-width="1.8"/>
<line x1="1941.9" y1="938.0" x2="1941.9" y2="949.0" stroke="#000" stroke-width="1.8"/>
<text x="1941.9" y="971.5" class="s c">1600</text>
<text x="1659.3" y="990.8" class="s">Trace length (µm)</text>
<text transform="translate(1441.4,821.4) rotate(-90)" class="s c">Height profile (µm)</text>
<line x1="1564.2" y1="819.1" x2="1600.0" y2="819.1" stroke="#0b1838" stroke-width="3.6"/>
<line x1="1564.2" y1="862.3" x2="1771.1" y2="862.3" stroke="#0b1838" stroke-width="3.6"/>
<line x1="1583.1" y1="830.2" x2="1583.1" y2="849.7" stroke="#0b1838" stroke-width="2.9"/>
<path d="M1583.1,822.2 L1578.0,837.7 L1588.2,837.7 Z" fill="#15305a"/>
<path d="M1583.1,857.7 L1578.0,842.2 L1588.2,842.2 Z" fill="#15305a"/>
<text x="1512.1" y="851.5" class="m">18 µm</text>
</g>
</svg>
</body></html>
